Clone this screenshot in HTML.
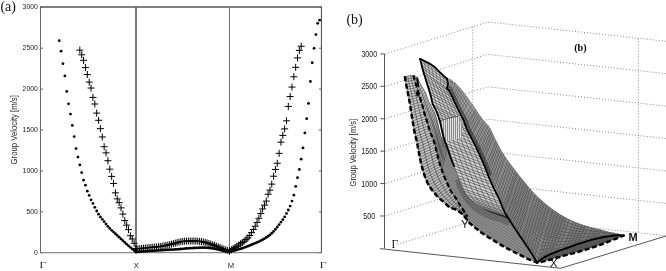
<!DOCTYPE html>
<html><head><meta charset="utf-8"><style>
html,body{margin:0;padding:0;background:#fff;}
svg{display:block;} text{-webkit-font-smoothing:antialiased;} svg{will-change:transform;opacity:0.999;}
</style></head><body>
<svg width="666" height="271" viewBox="0 0 666 271">
<rect width="666" height="271" fill="#fff"/>
<g stroke="#6a6a6a" stroke-width="1" fill="none">
<path d="M40.5,252.7V7.3"/>
<path d="M40.5,252.7H321.4" stroke="#8a8a8a" stroke-width="1.3"/>
<path d="M40.0,7.0H321.9" stroke="#000" stroke-width="1.1"/>
<path d="M136.0,7.5V252.7" stroke="#000" stroke-width="1.05"/>
<path d="M229.5,7.5V252.7" stroke="#707070"/>
<path d="M40.5,252.70h2.6M321.4,252.70h-2.6"/>
<path d="M40.5,211.80h2.6M321.4,211.80h-2.6"/>
<path d="M40.5,170.90h2.6M321.4,170.90h-2.6"/>
<path d="M40.5,130.00h2.6M321.4,130.00h-2.6"/>
<path d="M40.5,89.10h2.6M321.4,89.10h-2.6"/>
<path d="M40.5,48.20h2.6M321.4,48.20h-2.6"/>
<path d="M40.5,7.30h2.6M321.4,7.30h-2.6"/>
</g>
<path d="M321.4,7.3V252.7" stroke="#444" stroke-width="1"/>
<text x="37.8" y="254.65" text-anchor="end" style="font-family:'Liberation Sans',sans-serif;font-size:8.0px" textLength="3.8" lengthAdjust="spacingAndGlyphs" fill="#1a1a1a">0</text>
<text x="37.8" y="213.75" text-anchor="end" style="font-family:'Liberation Sans',sans-serif;font-size:8.0px" textLength="11.4" lengthAdjust="spacingAndGlyphs" fill="#1a1a1a">500</text>
<text x="37.8" y="172.85" text-anchor="end" style="font-family:'Liberation Sans',sans-serif;font-size:8.0px" textLength="15.2" lengthAdjust="spacingAndGlyphs" fill="#1a1a1a">1000</text>
<text x="37.8" y="131.95" text-anchor="end" style="font-family:'Liberation Sans',sans-serif;font-size:8.0px" textLength="15.2" lengthAdjust="spacingAndGlyphs" fill="#1a1a1a">1500</text>
<text x="37.8" y="91.05" text-anchor="end" style="font-family:'Liberation Sans',sans-serif;font-size:8.0px" textLength="15.2" lengthAdjust="spacingAndGlyphs" fill="#1a1a1a">2000</text>
<text x="37.8" y="50.15" text-anchor="end" style="font-family:'Liberation Sans',sans-serif;font-size:8.0px" textLength="15.2" lengthAdjust="spacingAndGlyphs" fill="#1a1a1a">2500</text>
<text x="37.8" y="9.25" text-anchor="end" style="font-family:'Liberation Sans',sans-serif;font-size:8.0px" textLength="15.2" lengthAdjust="spacingAndGlyphs" fill="#1a1a1a">3000</text>
<text transform="translate(16.7,164.4) rotate(-90)" style="font-family:'Liberation Sans',sans-serif;font-size:8.2px" textLength="69.2" lengthAdjust="spacingAndGlyphs" fill="#222">Group Velocity [m/s]</text>
<text x="0.4" y="11.4" style="font-family:'Liberation Serif',serif;font-size:14px" fill="#111">(a)</text>
<text transform="translate(42.7,268.1) scale(1.25,1)" text-anchor="middle" style="font-family:'Liberation Serif',serif;font-size:9px" fill="#222">Γ</text>
<text x="136.3" y="267.8" text-anchor="middle" style="font-family:'Liberation Sans',sans-serif;font-size:7.6px" fill="#222">X</text>
<text x="231" y="267.8" text-anchor="middle" style="font-family:'Liberation Sans',sans-serif;font-size:7.6px" fill="#222">M</text>
<text transform="translate(322.9,268.1) scale(1.25,1)" text-anchor="middle" style="font-family:'Liberation Serif',serif;font-size:9px" fill="#222">Γ</text>
<g fill="#000">
<circle cx="59.23" cy="40.70" r="1.4"/>
<circle cx="61.10" cy="51.19" r="1.4"/>
<circle cx="62.97" cy="63.66" r="1.4"/>
<circle cx="64.84" cy="75.88" r="1.4"/>
<circle cx="66.72" cy="91.51" r="1.4"/>
<circle cx="68.59" cy="103.81" r="1.4"/>
<circle cx="70.46" cy="114.07" r="1.4"/>
<circle cx="72.33" cy="125.39" r="1.4"/>
<circle cx="74.21" cy="136.61" r="1.4"/>
<circle cx="76.08" cy="148.57" r="1.4"/>
<circle cx="77.95" cy="157.06" r="1.4"/>
<circle cx="79.82" cy="164.90" r="1.4"/>
<circle cx="81.70" cy="172.60" r="1.4"/>
<circle cx="83.57" cy="180.15" r="1.4"/>
<circle cx="85.44" cy="185.14" r="1.4"/>
<circle cx="87.31" cy="191.17" r="1.4"/>
<circle cx="89.19" cy="195.47" r="1.4"/>
<circle cx="91.06" cy="199.81" r="1.4"/>
<circle cx="92.93" cy="203.46" r="1.4"/>
<circle cx="94.80" cy="207.31" r="1.4"/>
<circle cx="96.68" cy="211.02" r="1.4"/>
<circle cx="98.55" cy="214.14" r="1.4"/>
<circle cx="100.42" cy="216.93" r="1.4"/>
<circle cx="102.29" cy="219.34" r="1.4"/>
<circle cx="104.17" cy="221.71" r="1.4"/>
<circle cx="106.04" cy="224.09" r="1.4"/>
<circle cx="107.91" cy="226.36" r="1.4"/>
<circle cx="109.78" cy="228.42" r="1.4"/>
<circle cx="111.66" cy="230.29" r="1.4"/>
<circle cx="113.53" cy="232.06" r="1.4"/>
<circle cx="115.40" cy="233.77" r="1.4"/>
<circle cx="117.27" cy="235.47" r="1.4"/>
<circle cx="119.15" cy="237.21" r="1.4"/>
<circle cx="121.02" cy="238.96" r="1.4"/>
<circle cx="122.89" cy="240.72" r="1.4"/>
<circle cx="124.76" cy="242.45" r="1.4"/>
<circle cx="126.64" cy="244.16" r="1.4"/>
<circle cx="128.51" cy="245.81" r="1.4"/>
<circle cx="130.38" cy="247.39" r="1.4"/>
<circle cx="132.25" cy="248.93" r="1.4"/>
<circle cx="134.13" cy="250.46" r="1.4"/>
<circle cx="136.00" cy="252.00" r="1.4"/>
<circle cx="136.00" cy="252.00" r="1.4"/>
<circle cx="137.87" cy="251.87" r="1.4"/>
<circle cx="139.74" cy="251.73" r="1.4"/>
<circle cx="141.61" cy="251.60" r="1.4"/>
<circle cx="143.48" cy="251.46" r="1.4"/>
<circle cx="145.35" cy="251.33" r="1.4"/>
<circle cx="147.22" cy="251.19" r="1.4"/>
<circle cx="149.09" cy="251.06" r="1.4"/>
<circle cx="150.96" cy="250.93" r="1.4"/>
<circle cx="152.83" cy="250.81" r="1.4"/>
<circle cx="154.70" cy="250.68" r="1.4"/>
<circle cx="156.57" cy="250.55" r="1.4"/>
<circle cx="158.44" cy="250.42" r="1.4"/>
<circle cx="160.31" cy="250.30" r="1.4"/>
<circle cx="162.18" cy="250.18" r="1.4"/>
<circle cx="164.05" cy="250.06" r="1.4"/>
<circle cx="165.92" cy="249.94" r="1.4"/>
<circle cx="167.79" cy="249.84" r="1.4"/>
<circle cx="169.66" cy="249.74" r="1.4"/>
<circle cx="171.53" cy="249.65" r="1.4"/>
<circle cx="173.40" cy="249.54" r="1.4"/>
<circle cx="175.27" cy="249.44" r="1.4"/>
<circle cx="177.14" cy="249.31" r="1.4"/>
<circle cx="179.01" cy="249.17" r="1.4"/>
<circle cx="180.88" cy="249.00" r="1.4"/>
<circle cx="182.75" cy="248.82" r="1.4"/>
<circle cx="184.62" cy="248.64" r="1.4"/>
<circle cx="186.49" cy="248.46" r="1.4"/>
<circle cx="188.36" cy="248.31" r="1.4"/>
<circle cx="190.23" cy="248.19" r="1.4"/>
<circle cx="192.10" cy="248.08" r="1.4"/>
<circle cx="193.97" cy="247.98" r="1.4"/>
<circle cx="195.84" cy="247.89" r="1.4"/>
<circle cx="197.71" cy="247.81" r="1.4"/>
<circle cx="199.58" cy="247.75" r="1.4"/>
<circle cx="201.45" cy="247.71" r="1.4"/>
<circle cx="203.32" cy="247.70" r="1.4"/>
<circle cx="205.19" cy="247.72" r="1.4"/>
<circle cx="207.06" cy="247.79" r="1.4"/>
<circle cx="208.93" cy="247.94" r="1.4"/>
<circle cx="210.80" cy="248.14" r="1.4"/>
<circle cx="212.67" cy="248.40" r="1.4"/>
<circle cx="214.54" cy="248.76" r="1.4"/>
<circle cx="216.41" cy="249.18" r="1.4"/>
<circle cx="218.28" cy="249.62" r="1.4"/>
<circle cx="220.15" cy="250.03" r="1.4"/>
<circle cx="222.02" cy="250.43" r="1.4"/>
<circle cx="223.89" cy="250.82" r="1.4"/>
<circle cx="225.76" cy="251.21" r="1.4"/>
<circle cx="227.63" cy="251.61" r="1.4"/>
<circle cx="229.50" cy="252.00" r="1.4"/>
<circle cx="229.50" cy="252.00" r="1.4"/>
<circle cx="231.34" cy="251.44" r="1.4"/>
<circle cx="233.18" cy="250.91" r="1.4"/>
<circle cx="235.01" cy="250.40" r="1.4"/>
<circle cx="236.85" cy="249.89" r="1.4"/>
<circle cx="238.69" cy="249.37" r="1.4"/>
<circle cx="240.53" cy="248.82" r="1.4"/>
<circle cx="242.37" cy="248.24" r="1.4"/>
<circle cx="244.20" cy="247.62" r="1.4"/>
<circle cx="246.04" cy="246.93" r="1.4"/>
<circle cx="247.88" cy="246.18" r="1.4"/>
<circle cx="249.72" cy="245.43" r="1.4"/>
<circle cx="251.56" cy="244.69" r="1.4"/>
<circle cx="253.39" cy="243.94" r="1.4"/>
<circle cx="255.23" cy="243.18" r="1.4"/>
<circle cx="257.07" cy="242.38" r="1.4"/>
<circle cx="258.91" cy="241.54" r="1.4"/>
<circle cx="260.75" cy="240.65" r="1.4"/>
<circle cx="262.58" cy="239.69" r="1.4"/>
<circle cx="264.42" cy="238.65" r="1.4"/>
<circle cx="266.26" cy="237.51" r="1.4"/>
<circle cx="268.10" cy="236.27" r="1.4"/>
<circle cx="269.94" cy="234.90" r="1.4"/>
<circle cx="271.77" cy="233.27" r="1.4"/>
<circle cx="273.61" cy="231.38" r="1.4"/>
<circle cx="275.45" cy="229.27" r="1.4"/>
<circle cx="277.29" cy="226.99" r="1.4"/>
<circle cx="279.13" cy="224.59" r="1.4"/>
<circle cx="280.96" cy="222.12" r="1.4"/>
<circle cx="282.80" cy="219.62" r="1.4"/>
<circle cx="284.64" cy="216.78" r="1.4"/>
<circle cx="286.48" cy="213.51" r="1.4"/>
<circle cx="288.32" cy="210.01" r="1.4"/>
<circle cx="290.15" cy="206.10" r="1.4"/>
<circle cx="291.99" cy="201.08" r="1.4"/>
<circle cx="293.83" cy="195.13" r="1.4"/>
<circle cx="295.67" cy="186.39" r="1.4"/>
<circle cx="297.51" cy="177.68" r="1.4"/>
<circle cx="299.34" cy="169.49" r="1.4"/>
<circle cx="301.18" cy="159.16" r="1.4"/>
<circle cx="303.02" cy="147.92" r="1.4"/>
<circle cx="304.86" cy="132.93" r="1.4"/>
<circle cx="306.70" cy="118.64" r="1.4"/>
<circle cx="308.53" cy="103.46" r="1.4"/>
<circle cx="310.37" cy="81.50" r="1.4"/>
<circle cx="312.21" cy="62.64" r="1.4"/>
<circle cx="314.05" cy="48.28" r="1.4"/>
<circle cx="315.89" cy="34.54" r="1.4"/>
<circle cx="317.72" cy="23.37" r="1.4"/>
<circle cx="319.56" cy="20.20" r="1.4"/>
</g>
<g stroke="#000" stroke-width="1" fill="none"><path d="
M76.32,50.14h7M79.82,46.64v7M78.20,54.77h7M81.70,51.27v7M80.07,60.31h7M83.57,56.81v7M81.94,67.59h7M85.44,64.09v7M83.81,74.57h7M87.31,71.07v7M85.69,82.08h7M89.19,78.58v7M87.56,88.04h7M91.06,84.54v7M89.43,97.36h7M92.93,93.86v7M91.30,104.01h7M94.80,100.51v7M93.18,113.10h7M96.68,109.60v7M95.05,120.29h7M98.55,116.79v7M96.92,128.64h7M100.42,125.14v7M98.79,136.98h7M102.29,133.48v7M100.67,146.72h7M104.17,143.22v7M102.54,152.85h7M106.04,149.35v7M104.41,160.74h7M107.91,157.24v7M106.28,169.18h7M109.78,165.68v7M108.16,176.40h7M111.66,172.90v7M110.03,183.48h7M113.53,179.98v7M111.90,192.84h7M115.40,189.34v7M113.77,198.89h7M117.27,195.39v7M115.65,202.70h7M119.15,199.20v7M117.52,207.86h7M121.02,204.36v7M119.39,214.05h7M122.89,210.55v7M121.26,220.62h7M124.76,217.12v7M123.14,225.13h7M126.64,221.63v7M125.01,229.65h7M128.51,226.15v7M126.88,235.76h7M130.38,232.26v7M128.75,238.94h7M132.25,235.44v7M130.63,243.27h7M134.13,239.77v7M132.50,248.50h7M136.00,245.00v7M132.50,249.00h7M136.00,245.50v7M134.37,248.80h7M137.87,245.30v7M136.24,248.60h7M139.74,245.10v7M138.11,248.40h7M141.61,244.90v7M139.98,248.20h7M143.48,244.70v7M141.85,248.00h7M145.35,244.50v7M143.72,247.80h7M147.22,244.30v7M145.59,247.60h7M149.09,244.10v7M147.46,247.40h7M150.96,243.90v7M149.33,247.23h7M152.83,243.73v7M151.20,247.07h7M154.70,243.57v7M153.07,246.90h7M156.57,243.40v7M154.94,246.71h7M158.44,243.21v7M156.81,246.48h7M160.31,242.98v7M158.68,246.19h7M162.18,242.69v7M160.55,245.84h7M164.05,242.34v7M162.42,245.44h7M165.92,241.94v7M164.29,245.01h7M167.79,241.51v7M166.16,244.56h7M169.66,241.06v7M168.03,244.11h7M171.53,240.61v7M169.90,243.65h7M173.40,240.15v7M171.77,243.13h7M175.27,239.63v7M173.64,242.61h7M177.14,239.11v7M175.51,242.11h7M179.01,238.61v7M177.38,241.69h7M180.88,238.19v7M179.25,241.40h7M182.75,237.90v7M181.12,241.20h7M184.62,237.70v7M182.99,241.08h7M186.49,237.58v7M184.86,241.02h7M188.36,237.52v7M186.73,241.00h7M190.23,237.50v7M188.60,241.00h7M192.10,237.50v7M190.47,241.01h7M193.97,237.51v7M192.34,241.06h7M195.84,237.56v7M194.21,241.15h7M197.71,237.65v7M196.08,241.32h7M199.58,237.82v7M197.95,241.57h7M201.45,238.07v7M199.82,241.93h7M203.32,238.43v7M201.69,242.39h7M205.19,238.89v7M203.56,242.92h7M207.06,239.42v7M205.43,243.48h7M208.93,239.98v7M207.30,244.09h7M210.80,240.59v7M209.17,244.76h7M212.67,241.26v7M211.04,245.47h7M214.54,241.97v7M212.91,246.19h7M216.41,242.69v7M214.78,246.92h7M218.28,243.42v7M216.65,247.68h7M220.15,244.18v7M218.52,248.43h7M222.02,244.93v7M220.39,249.12h7M223.89,245.62v7M222.26,249.76h7M225.76,246.26v7M224.13,250.38h7M227.63,246.88v7M226.00,251.00h7M229.50,247.50v7M226.00,251.00h7M229.50,247.50v7M227.84,249.75h7M231.34,246.25v7M229.68,248.56h7M233.18,245.06v7M231.51,247.40h7M235.01,243.90v7M233.35,246.25h7M236.85,242.75v7M235.19,245.07h7M238.69,241.57v7M237.03,243.85h7M240.53,240.35v7M238.87,242.55h7M242.37,239.05v7M240.70,241.16h7M244.20,237.66v7M242.54,239.64h7M246.04,236.14v7M244.38,237.91h7M247.88,234.41v7M246.22,235.51h7M249.72,232.01v7M248.06,232.61h7M251.56,229.11v7M249.89,229.49h7M253.39,225.99v7M251.73,226.19h7M255.23,222.69v7M253.57,222.41h7M257.07,218.91v7M255.41,218.23h7M258.91,214.73v7M257.25,213.54h7M260.75,210.04v7M259.08,208.94h7M262.58,205.44v7M260.92,205.16h7M264.42,201.66v7M262.76,201.11h7M266.26,197.61v7M264.60,194.24h7M268.10,190.74v7M266.44,190.10h7M269.94,186.60v7M268.27,184.12h7M271.77,180.62v7M270.11,176.22h7M273.61,172.72v7M271.95,169.45h7M275.45,165.95v7M273.79,163.28h7M277.29,159.78v7M275.63,153.33h7M279.13,149.83v7M277.46,142.16h7M280.96,138.66v7M279.30,135.38h7M282.80,131.88v7M281.14,128.89h7M284.64,125.39v7M282.98,120.80h7M286.48,117.30v7M284.82,106.46h7M288.32,102.96v7M286.65,96.55h7M290.15,93.05v7M288.49,87.08h7M291.99,83.58v7M290.33,76.75h7M293.83,73.25v7M292.17,67.33h7M295.67,63.83v7M294.01,57.88h7M297.51,54.38v7M295.84,50.40h7M299.34,46.90v7M297.68,46.25h7M301.18,42.75v7
"/></g>
<g stroke="#6a6a6a" stroke-width="0.9" stroke-dasharray="0.9 2.1" fill="none">
<path d="M385.5,215.98L487.8,184.08L666,203.33"/>
<path d="M385.5,183.57L487.8,151.67L666,170.91"/>
<path d="M385.5,151.15L487.8,119.25L666,138.50"/>
<path d="M385.5,118.73L487.8,86.83L666,106.08"/>
<path d="M385.5,86.32L487.8,54.42L666,73.66"/>
<path d="M385.5,53.90L487.8,22.00L666,41.25"/>
<path d="M472.7,26.66V221.16"/>
<path d="M638.4,38.66V232.76"/>
<path d="M397.5,244.39L487.8,216.50L666,235.75"/>
</g>
<g stroke="#444" stroke-width="0.9" fill="none">
<path d="M384.5,53.90V248.4"/>
<path d="M380.3,215.98H384.5"/>
<path d="M380.3,183.57H384.5"/>
<path d="M380.3,151.15H384.5"/>
<path d="M380.3,118.73H384.5"/>
<path d="M380.3,86.32H384.5"/>
<path d="M380.3,53.90H384.5"/>
<path d="M380,248.6L560.5,268.3L666,236"/>
</g>
<defs>
<pattern id="m5" width="2.4" height="2.4" patternUnits="userSpaceOnUse" patternTransform="rotate(33)">
<path d="M0,0.5H2.4" stroke="#3c3c3c" stroke-width="0.6"/></pattern>
<linearGradient id="gsh" gradientUnits="userSpaceOnUse" x1="460" y1="100" x2="610" y2="245">
<stop offset="0" stop-color="#a4a4a4"/><stop offset="0.4" stop-color="#929292"/><stop offset="0.8" stop-color="#808080"/><stop offset="1" stop-color="#747474"/></linearGradient>
<linearGradient id="gs2" gradientUnits="userSpaceOnUse" x1="0" y1="76" x2="0" y2="145">
<stop offset="0" stop-color="#c8c8c8"/><stop offset="0.45" stop-color="#b0b0b0"/><stop offset="1" stop-color="#8e8e8e"/></linearGradient>
<linearGradient id="gs1" gradientUnits="userSpaceOnUse" x1="0" y1="76" x2="0" y2="218">
<stop offset="0" stop-color="#d2d2d2"/><stop offset="0.5" stop-color="#c4c4c4"/><stop offset="1" stop-color="#b2b2b2"/></linearGradient>
</defs>
<path d="M420.1,58.9L420.8,59.2L421.7,59.6L422.8,60.2L424.0,60.7L425.0,61.2L425.9,61.7L426.8,62.1L427.7,62.6L428.6,63.1L429.5,63.6L430.4,64.1L431.3,64.7L432.2,65.3L433.1,65.9L434.0,66.5L434.8,67.2L435.6,67.9L436.3,68.7L437.1,69.4L438.0,70.3L439.0,71.3L440.0,72.3L441.1,73.4L442.1,74.4L443.1,75.3L444.0,76.1L444.9,76.9L445.8,77.6L446.5,78.2L447.0,78.6L447.3,78.6L447.8,78.6L448.3,78.6L448.9,78.6L449.5,78.8L450.1,79.1L450.8,79.5L451.6,79.9L452.3,80.5L453.2,81.2L454.1,82.0L455.1,83.0L456.2,84.1L457.3,85.3L458.4,86.5L459.5,87.8L460.7,89.1L461.9,90.5L463.0,92.0L464.2,93.5L465.4,95.1L466.6,96.7L467.8,98.3L468.9,100.0L470.0,101.5L471.0,102.9L472.0,104.3L473.0,105.6L473.9,107.0L474.8,108.3L475.7,109.6L476.6,111.0L477.4,112.3L478.3,113.7L479.2,115.0L480.2,116.3L481.2,117.6L482.2,118.9L483.3,120.2L484.3,121.5L485.4,122.7L486.4,123.9L487.5,125.1L488.5,126.3L489.4,127.5L490.2,128.8L490.8,130.0L491.4,131.3L492.0,132.6L492.6,134.0L493.3,135.4L494.0,136.9L494.8,138.4L495.5,140.0L496.3,141.5L497.1,143.0L497.8,144.6L498.6,146.1L499.4,147.7L500.3,149.2L501.2,150.8L502.2,152.4L503.2,154.0L504.2,155.6L505.1,157.0L506.0,158.3L506.8,159.6L507.7,160.8L508.5,161.9L509.3,163.0L510.1,164.0L510.8,164.9L511.5,165.8L512.3,166.8L513.2,168.0L514.4,169.5L515.8,171.4L517.2,173.3L518.6,175.1L519.8,176.6L520.8,177.8L521.6,178.7L522.3,179.6L523.1,180.5L524.0,181.5L525.0,182.7L525.9,184.0L527.0,185.3L528.1,186.8L529.4,188.3L530.9,189.9L532.5,191.7L534.2,193.6L536.0,195.4L537.7,197.1L539.4,198.7L541.2,200.3L543.0,201.9L544.8,203.4L546.6,204.9L548.4,206.3L550.1,207.7L551.9,209.0L553.6,210.3L555.4,211.5L557.2,212.7L559.0,213.9L560.7,215.0L562.5,216.1L564.3,217.1L566.1,218.1L567.9,219.0L569.7,219.9L571.5,220.8L573.1,221.5L574.6,222.1L575.9,222.6L577.1,223.1L578.5,223.6L580.0,224.1L581.7,224.7L583.5,225.3L585.4,225.9L587.6,226.5L589.9,227.2L592.6,227.9L595.7,228.7L598.9,229.4L602.0,230.1L604.8,230.8L607.3,231.4L609.7,231.9L611.9,232.4L614.0,232.8L616.0,233.3L618.0,233.8L619.9,234.2L621.7,234.7L623.1,235.0L624.2,235.3L624.2,235.4L622.9,235.9L621.1,236.6L619.0,237.4L616.9,238.3L615.0,239.0L613.4,239.6L611.9,240.2L610.4,240.8L609.0,241.4L607.5,242.0L606.0,242.6L604.6,243.1L603.2,243.7L601.7,244.3L600.0,244.9L598.1,245.6L596.1,246.3L594.0,247.0L591.9,247.7L590.0,248.3L588.2,248.9L586.5,249.4L584.8,250.0L583.2,250.4L581.7,250.9L580.3,251.3L579.0,251.6L577.8,252.0L576.4,252.3L574.9,252.7L573.1,253.2L571.1,253.7L569.1,254.3L567.0,254.9L565.0,255.4L563.1,255.9L561.3,256.4L559.5,257.0L557.7,257.5L555.8,258.0L553.9,258.6L551.9,259.2L549.9,259.7L547.9,260.3L546.0,260.8L544.0,261.3L542.0,261.7L540.0,262.1L538.4,262.4L537.2,262.6L536.1,262.2L534.6,261.6L532.9,261.0L531.1,260.3L529.5,259.6L528.0,258.9L526.6,258.3L525.2,257.6L523.8,256.9L522.5,256.2L521.2,255.6L520.0,254.9L518.8,254.3L517.6,253.6L516.3,253.0L515.0,252.3L513.6,251.7L512.2,251.0L510.9,250.3L509.5,249.6L508.2,248.9L506.9,248.3L505.6,247.6L504.3,246.9L503.0,246.2L501.6,245.4L500.2,244.5L498.7,243.6L497.2,242.7L495.8,241.8L494.4,240.9L493.0,240.1L491.7,239.3L490.3,238.4L489.0,237.6L487.7,236.8L486.5,236.0L485.3,235.3L484.1,234.5L482.9,233.6L481.6,232.7L480.2,231.7L478.9,230.7L477.5,229.6L476.2,228.6L474.9,227.5L473.5,226.4L472.2,225.3L470.9,224.3L469.8,223.2L468.9,222.2L468.0,221.2L467.3,220.2L466.6,219.3L465.8,218.3L465.0,217.3L464.1,216.3L463.3,215.3L462.4,214.3L461.5,213.4L460.6,212.6L459.6,211.9L458.7,211.2L457.6,210.5L456.5,209.9L455.2,209.3L453.8,208.9L452.3,208.4L450.8,207.9L449.5,207.2L448.3,206.3L447.1,205.3L446.0,204.1L444.9,203.0L443.8,202.0L442.7,201.1L441.6,200.2L440.6,199.4L439.5,198.5L438.5,197.5L437.5,196.4L436.4,195.3L435.4,194.1L434.4,192.9L433.4,191.7L432.5,190.5L431.6,189.4L430.8,188.3L430.0,187.1L429.2,185.8L428.4,184.5L427.7,183.1L427.0,181.7L426.4,180.2L425.7,178.7L425.1,177.1L424.5,175.4L423.9,173.6L423.3,171.8L422.8,170.0L422.3,168.2L421.8,166.4L421.4,164.5L420.9,162.6L420.5,160.7L420.1,158.7L419.7,156.7L419.3,154.6L418.9,152.5L418.5,150.5L418.1,148.5L417.7,146.4L417.4,144.4L417.0,142.4L416.6,140.5L416.2,138.7L415.7,137.0L415.3,135.3L414.9,133.6L414.5,131.9L414.2,130.1L413.9,128.4L413.6,126.6L413.3,124.8L413.0,123.0L412.7,121.1L412.4,119.2L412.0,117.3L411.7,115.4L411.4,113.5L411.1,111.6L410.8,109.7L410.6,107.8L410.3,105.9L410.0,104.0L409.7,102.2L409.3,100.4L409.0,98.6L408.7,96.8L408.3,95.0L407.9,93.2L407.6,91.4L407.2,89.7L406.9,87.8L406.5,86.0L406.1,83.9L405.7,81.7L405.4,79.5L405.0,77.6L404.8,76.3L414.5,75.2L414.9,75.7L415.4,76.3L416.1,77.1L416.8,78.0L417.5,79.0L418.2,80.2L419.0,81.6L419.9,83.1L420.7,84.6L421.5,86.0L422.3,87.2L423.0,88.4L423.7,89.6L424.4,90.8L425.1,92.1L425.7,93.6L426.4,95.2L427.0,96.8L427.6,98.5L428.2,100.0L428.8,101.4L429.5,102.8L430.2,104.2L430.8,105.6L431.5,106.9L432.2,108.2L432.9,109.4L433.6,110.7L434.3,112.0L434.9,113.5L435.5,115.2L436.1,117.1L436.7,119.1L437.3,121.1L437.8,123.0L438.2,124.8L438.6,126.6L439.0,128.4L439.4,130.2L439.8,131.9L440.3,133.7L440.9,135.6L441.5,137.4L442.0,138.9L442.3,140.0L442.3,131.9L442.1,130.8L441.8,129.3L441.4,127.5L441.0,125.7L440.6,124.0L440.2,122.4L439.7,120.7L439.2,119.1L438.7,117.5L438.2,116.0L437.7,114.7L437.3,113.5L436.8,112.3L436.3,111.2L435.8,110.0L435.2,108.8L434.6,107.7L434.0,106.5L433.3,105.3L432.8,104.0L432.3,102.5L431.9,100.9L431.6,99.2L431.2,97.6L430.8,96.0L430.4,94.6L430.0,93.3L429.7,92.1L429.3,90.7L428.8,89.2L428.3,87.4L427.7,85.5L427.0,83.5L426.4,81.5L425.8,79.5L425.2,77.5L424.6,75.5L423.9,73.5L423.4,71.6L422.9,70.0L422.5,68.6L422.2,67.5L422.0,66.5L421.8,65.5L421.5,64.5L421.2,63.3L420.9,62.0L420.6,60.7L420.3,59.7L420.1,58.9Z" fill="#8e8e8e"/>
<path d="M420.1,58.9L420.8,59.2L421.7,59.6L422.8,60.2L424.0,60.7L425.0,61.2L425.9,61.7L426.8,62.1L427.7,62.6L428.6,63.1L429.5,63.6L430.4,64.1L431.3,64.7L432.2,65.3L433.1,65.9L434.0,66.5L434.8,67.2L435.6,67.9L436.3,68.7L437.1,69.4L438.0,70.3L439.0,71.3L440.0,72.3L441.1,73.4L442.1,74.4L443.1,75.3L444.0,76.1L444.9,76.9L445.8,77.6L446.5,78.2L447.0,78.6L447.3,78.6L447.8,78.6L448.3,78.6L448.9,78.6L449.5,78.8L450.1,79.1L450.8,79.5L451.6,79.9L452.3,80.5L453.2,81.2L454.1,82.0L455.1,83.0L456.2,84.1L457.3,85.3L458.4,86.5L459.5,87.8L460.7,89.1L461.9,90.5L463.0,92.0L464.2,93.5L465.4,95.1L466.6,96.7L467.8,98.3L468.9,100.0L470.0,101.5L471.0,102.9L472.0,104.3L473.0,105.6L473.9,107.0L474.8,108.3L475.7,109.6L476.6,111.0L477.4,112.3L478.3,113.7L479.2,115.0L480.2,116.3L481.2,117.6L482.2,118.9L483.3,120.2L484.3,121.5L485.4,122.7L486.4,123.9L487.5,125.1L488.5,126.3L489.4,127.5L490.2,128.8L490.8,130.0L491.4,131.3L492.0,132.6L492.6,134.0L493.3,135.4L494.0,136.9L494.8,138.4L495.5,140.0L496.3,141.5L497.1,143.0L497.8,144.6L498.6,146.1L499.4,147.7L500.3,149.2L501.2,150.8L502.2,152.4L503.2,154.0L504.2,155.6L505.1,157.0L506.0,158.3L506.8,159.6L507.7,160.8L508.5,161.9L509.3,163.0L510.1,164.0L510.8,164.9L511.5,165.8L512.3,166.8L513.2,168.0L514.4,169.5L515.8,171.4L517.2,173.3L518.6,175.1L519.8,176.6L520.8,177.8L521.6,178.7L522.3,179.6L523.1,180.5L524.0,181.5L525.0,182.7L525.9,184.0L527.0,185.3L528.1,186.8L529.4,188.3L530.9,189.9L532.5,191.7L534.2,193.6L536.0,195.4L537.7,197.1L539.4,198.7L541.2,200.3L543.0,201.9L544.8,203.4L546.6,204.9L548.4,206.3L550.1,207.7L551.9,209.0L553.6,210.3L555.4,211.5L557.2,212.7L559.0,213.9L560.7,215.0L562.5,216.1L564.3,217.1L566.1,218.1L567.9,219.0L569.7,219.9L571.5,220.8L573.1,221.5L574.6,222.1L575.9,222.6L577.1,223.1L578.5,223.6L580.0,224.1L581.7,224.7L583.5,225.3L585.4,225.9L587.6,226.5L589.9,227.2L592.6,227.9L595.7,228.7L598.9,229.4L602.0,230.1L604.8,230.8L607.3,231.4L609.7,231.9L611.9,232.4L614.0,232.8L616.0,233.3L618.0,233.8L619.9,234.2L621.7,234.7L623.1,235.0L624.2,235.3L624.2,235.4L622.9,235.9L621.1,236.6L619.0,237.4L616.9,238.3L615.0,239.0L613.4,239.6L611.9,240.2L610.4,240.8L609.0,241.4L607.5,242.0L606.0,242.6L604.6,243.1L603.2,243.7L601.7,244.3L600.0,244.9L598.1,245.6L596.1,246.3L594.0,247.0L591.9,247.7L590.0,248.3L588.2,248.9L586.5,249.4L584.8,250.0L583.2,250.4L581.7,250.9L580.3,251.3L579.0,251.6L577.8,252.0L576.4,252.3L574.9,252.7L573.1,253.2L571.1,253.7L569.1,254.3L567.0,254.9L565.0,255.4L563.1,255.9L561.3,256.4L559.5,257.0L557.7,257.5L555.8,258.0L553.9,258.6L551.9,259.2L549.9,259.7L547.9,260.3L546.0,260.8L544.0,261.3L542.0,261.7L540.0,262.1L538.4,262.4L537.2,262.6L536.1,262.2L534.6,261.6L532.9,261.0L531.1,260.3L529.5,259.6L528.0,258.9L526.6,258.3L525.2,257.6L523.8,256.9L522.5,256.2L521.2,255.6L520.0,254.9L518.8,254.3L517.6,253.6L516.3,253.0L515.0,252.3L513.6,251.7L512.2,251.0L510.9,250.3L509.5,249.6L508.2,248.9L506.9,248.3L505.6,247.6L504.3,246.9L503.0,246.2L501.6,245.4L500.2,244.5L498.7,243.6L497.2,242.7L495.8,241.8L494.4,240.9L493.0,240.1L491.7,239.3L490.3,238.4L489.0,237.6L487.7,236.8L486.5,236.0L485.3,235.3L484.1,234.5L482.9,233.6L481.6,232.7L480.2,231.7L478.9,230.7L477.5,229.6L476.2,228.6L474.9,227.5L473.5,226.4L472.2,225.3L470.9,224.3L469.8,223.2L468.9,222.2L468.0,221.2L467.3,220.2L466.6,219.3L465.8,218.3L465.0,217.3L464.1,216.3L463.3,215.3L462.4,214.3L461.5,213.4L460.6,212.6L459.6,211.9L458.7,211.2L457.6,210.5L456.5,209.9L455.2,209.3L453.8,208.9L452.3,208.4L450.8,207.9L449.5,207.2L448.3,206.3L447.1,205.3L446.0,204.1L444.9,203.0L443.8,202.0L442.7,201.1L441.6,200.2L440.6,199.4L439.5,198.5L438.5,197.5L437.5,196.4L436.4,195.3L435.4,194.1L434.4,192.9L433.4,191.7L432.5,190.5L431.6,189.4L430.8,188.3L430.0,187.1L429.2,185.8L428.4,184.5L427.7,183.1L427.0,181.7L426.4,180.2L425.7,178.7L425.1,177.1L424.5,175.4L423.9,173.6L423.3,171.8L422.8,170.0L422.3,168.2L421.8,166.4L421.4,164.5L420.9,162.6L420.5,160.7L420.1,158.7L419.7,156.7L419.3,154.6L418.9,152.5L418.5,150.5L418.1,148.5L417.7,146.4L417.4,144.4L417.0,142.4L416.6,140.5L416.2,138.7L415.7,137.0L415.3,135.3L414.9,133.6L414.5,131.9L414.2,130.1L413.9,128.4L413.6,126.6L413.3,124.8L413.0,123.0L412.7,121.1L412.4,119.2L412.0,117.3L411.7,115.4L411.4,113.5L411.1,111.6L410.8,109.7L410.6,107.8L410.3,105.9L410.0,104.0L409.7,102.2L409.3,100.4L409.0,98.6L408.7,96.8L408.3,95.0L407.9,93.2L407.6,91.4L407.2,89.7L406.9,87.8L406.5,86.0L406.1,83.9L405.7,81.7L405.4,79.5L405.0,77.6L404.8,76.3L414.5,75.2L414.9,75.7L415.4,76.3L416.1,77.1L416.8,78.0L417.5,79.0L418.2,80.2L419.0,81.6L419.9,83.1L420.7,84.6L421.5,86.0L422.3,87.2L423.0,88.4L423.7,89.6L424.4,90.8L425.1,92.1L425.7,93.6L426.4,95.2L427.0,96.8L427.6,98.5L428.2,100.0L428.8,101.4L429.5,102.8L430.2,104.2L430.8,105.6L431.5,106.9L432.2,108.2L432.9,109.4L433.6,110.7L434.3,112.0L434.9,113.5L435.5,115.2L436.1,117.1L436.7,119.1L437.3,121.1L437.8,123.0L438.2,124.8L438.6,126.6L439.0,128.4L439.4,130.2L439.8,131.9L440.3,133.7L440.9,135.6L441.5,137.4L442.0,138.9L442.3,140.0L442.3,131.9L442.1,130.8L441.8,129.3L441.4,127.5L441.0,125.7L440.6,124.0L440.2,122.4L439.7,120.7L439.2,119.1L438.7,117.5L438.2,116.0L437.7,114.7L437.3,113.5L436.8,112.3L436.3,111.2L435.8,110.0L435.2,108.8L434.6,107.7L434.0,106.5L433.3,105.3L432.8,104.0L432.3,102.5L431.9,100.9L431.6,99.2L431.2,97.6L430.8,96.0L430.4,94.6L430.0,93.3L429.7,92.1L429.3,90.7L428.8,89.2L428.3,87.4L427.7,85.5L427.0,83.5L426.4,81.5L425.8,79.5L425.2,77.5L424.6,75.5L423.9,73.5L423.4,71.6L422.9,70.0L422.5,68.6L422.2,67.5L422.0,66.5L421.8,65.5L421.5,64.5L421.2,63.3L420.9,62.0L420.6,60.7L420.3,59.7L420.1,58.9Z" fill="url(#m5)" opacity="0.55"/>
<path d="M413.3,75.6L413.6,76.5L413.9,77.7L414.3,79.1L414.8,80.6L415.2,82.0L415.6,83.3L416.0,84.7L416.5,86.1L416.9,87.5L417.4,89.0L417.9,90.5L418.4,92.1L418.9,93.8L419.4,95.4L419.9,97.0L420.4,98.6L420.8,100.2L421.3,101.8L421.7,103.4L422.2,105.0L422.7,106.7L423.1,108.3L423.5,110.0L424.0,111.8L424.5,113.5L425.0,115.3L425.6,117.0L426.2,118.8L426.7,120.7L427.3,122.5L427.8,124.4L428.4,126.2L428.9,128.1L429.5,130.0L430.1,131.9L430.8,133.7L431.6,135.5L432.4,137.3L433.1,139.2L433.8,141.0L434.4,142.9L434.9,144.7L435.4,146.6L435.8,148.5L436.3,150.5L436.8,152.5L437.3,154.6L437.8,156.7L438.3,158.7L438.8,160.7L439.4,162.8L440.1,164.9L440.8,167.0L441.4,168.7L441.8,170.0L446.6,150.0L446.3,149.5L445.8,148.8L445.3,147.9L444.8,147.0L444.3,146.0L443.9,145.0L443.5,143.8L443.1,142.6L442.7,141.4L442.3,140.0L441.8,138.5L441.3,136.9L440.8,135.3L440.3,133.6L439.8,131.9L439.4,130.2L439.0,128.4L438.6,126.6L438.2,124.8L437.8,123.0L437.3,121.1L436.7,119.1L436.1,117.1L435.5,115.2L434.9,113.5L434.3,112.0L433.6,110.7L432.9,109.4L432.2,108.2L431.5,106.9L430.8,105.6L430.2,104.2L429.5,102.8L428.8,101.4L428.2,100.0L427.6,98.5L427.0,96.8L426.4,95.2L425.7,93.6L425.1,92.1L424.4,90.8L423.7,89.6L423.0,88.4L422.3,87.2L421.5,86.0L420.7,84.6L419.9,83.1L419.0,81.6L418.2,80.2L417.5,79.0L416.8,78.0L416.1,77.1L415.4,76.3L414.9,75.7L414.5,75.2Z" fill="url(#gs2)"/>
<path d="M413.3,75.6L413.5,76.4L413.8,77.2L414.0,78.0L414.2,78.8L414.5,79.6L414.7,80.4L414.9,81.2L415.2,82.0L415.4,82.8L415.7,83.5L415.9,84.3L416.2,85.1L416.4,85.9L416.7,86.7L416.9,87.5L417.2,88.3L417.4,89.1L417.7,89.9L417.9,90.7L418.2,91.5L418.4,92.2L418.7,93.0L418.9,93.8L419.2,94.6L419.4,95.4L419.7,96.2L419.9,97.0L420.1,97.8L420.4,98.6L420.6,99.4L420.8,100.2L421.1,101.0L421.3,101.8L421.5,102.6L421.7,103.4L422.0,104.2L422.2,105.0L422.4,105.8L422.6,106.6L422.8,107.4L423.1,108.2L423.3,109.0L423.5,109.8L423.7,110.6L423.9,111.4L424.1,112.2L424.4,113.0L424.6,113.8L424.8,114.6L425.1,115.4L425.3,116.1L425.6,116.9L425.8,117.7L426.1,118.5L426.3,119.3L426.6,120.1L426.8,120.9L427.0,121.7L427.3,122.5L427.5,123.3L427.8,124.1L428.0,124.9L428.2,125.7L428.4,126.5L428.7,127.3L428.9,128.1L429.1,128.9L429.4,129.6L429.6,130.4L429.9,131.2L430.1,132.0L430.4,132.8L430.7,133.6L431.1,134.3L431.4,135.1L431.7,135.9L432.0,136.6L432.4,137.4L432.7,138.1L433.0,138.9L433.3,139.7L433.6,140.5L433.9,141.2L434.1,142.0L434.4,142.8L434.6,143.6L434.8,144.4L435.0,145.2L435.2,146.0L435.4,146.8L435.6,147.6L435.8,148.4L436.0,149.3L436.2,150.1L436.4,150.9L436.6,151.7L436.8,152.5L437.0,153.3L437.2,154.1L437.4,154.9L437.5,155.7L437.7,156.5L437.9,157.3L438.1,158.1L438.3,158.9L438.5,159.7L438.8,160.5L439.0,161.3L439.2,162.1L439.5,162.9L439.7,163.7L440.0,164.5L440.2,165.3L440.5,166.1L440.7,166.9L441.0,167.6L441.3,168.4L441.5,169.2L441.8,170.0M413.9,75.4L414.2,76.1L414.6,76.7L414.9,77.4L415.3,78.0L415.6,78.7L415.9,79.4L416.2,80.1L416.5,80.8L416.8,81.5L417.1,82.2L417.4,82.8L417.7,83.5L418.0,84.2L418.3,84.9L418.6,85.6L418.9,86.3L419.2,87.0L419.5,87.7L419.8,88.4L420.1,89.1L420.4,89.8L420.7,90.5L421.0,91.2L421.3,91.9L421.6,92.5L421.9,93.2L422.2,93.9L422.5,94.6L422.7,95.3L423.0,96.1L423.2,96.8L423.5,97.5L423.7,98.2L424.0,98.9L424.2,99.7L424.4,100.4L424.7,101.1L424.9,101.8L425.1,102.5L425.3,103.3L425.6,104.0L425.8,104.7L426.1,105.4L426.3,106.1L426.6,106.8L426.8,107.6L427.1,108.3L427.4,109.0L427.6,109.7L427.9,110.4L428.2,111.1L428.5,111.8L428.7,112.5L429.0,113.2L429.3,113.9L429.6,114.6L429.9,115.3L430.2,116.0L430.5,116.7L430.8,117.4L431.0,118.1L431.3,118.8L431.5,119.5L431.8,120.2L432.0,121.0L432.2,121.7L432.5,122.4L432.7,123.1L432.9,123.9L433.1,124.6L433.4,125.3L433.6,126.0L433.8,126.8L434.1,127.5L434.4,128.2L434.6,128.9L434.9,129.6L435.1,130.3L435.4,131.0L435.6,131.8L435.8,132.5L436.0,133.2L436.3,133.9L436.4,134.7L436.6,135.4L436.8,136.1L437.0,136.9L437.2,137.6L437.4,138.4L437.5,139.1L437.7,139.8L437.9,140.6L438.1,141.3L438.3,142.0L438.5,142.8L438.7,143.5L438.9,144.2L439.1,145.0L439.3,145.7L439.5,146.4L439.7,147.2L439.9,147.9L440.1,148.6L440.3,149.3L440.5,150.1L440.7,150.8L440.9,151.5L441.1,152.3L441.4,153.0L441.6,153.7L441.8,154.4L442.1,155.1L442.4,155.9L442.6,156.6L442.9,157.3L443.3,157.9L443.6,158.6L443.9,159.3L444.2,160.0M414.5,75.2L414.9,75.7L415.4,76.2L415.8,76.8L416.3,77.3L416.7,77.9L417.1,78.4L417.5,79.0L417.9,79.6L418.2,80.2L418.6,80.8L418.9,81.4L419.2,82.0L419.6,82.6L419.9,83.2L420.2,83.8L420.6,84.4L420.9,85.0L421.3,85.6L421.6,86.2L422.0,86.8L422.3,87.3L422.7,87.9L423.0,88.5L423.4,89.1L423.8,89.7L424.1,90.3L424.5,90.9L424.8,91.5L425.1,92.1L425.4,92.7L425.7,93.4L425.9,94.0L426.2,94.6L426.4,95.3L426.6,95.9L426.9,96.6L427.1,97.2L427.4,97.9L427.6,98.5L427.9,99.2L428.1,99.8L428.4,100.4L428.7,101.1L429.0,101.7L429.3,102.3L429.5,102.9L429.8,103.6L430.1,104.2L430.5,104.8L430.8,105.4L431.1,106.0L431.4,106.6L431.7,107.3L432.0,107.9L432.3,108.5L432.7,109.1L433.0,109.7L433.4,110.3L433.7,110.9L434.0,111.5L434.3,112.1L434.6,112.8L434.8,113.4L435.1,114.0L435.3,114.7L435.6,115.3L435.8,116.0L436.0,116.6L436.2,117.3L436.4,118.0L436.6,118.6L436.8,119.3L437.0,119.9L437.1,120.6L437.3,121.3L437.5,121.9L437.7,122.6L437.9,123.3L438.0,123.9L438.2,124.6L438.3,125.3L438.5,126.0L438.6,126.6L438.8,127.3L438.9,128.0L439.1,128.7L439.2,129.3L439.3,130.0L439.5,130.7L439.7,131.3L439.8,132.0L440.0,132.7L440.2,133.3L440.4,134.0L440.6,134.7L440.8,135.3L441.0,136.0L441.2,136.6L441.4,137.3L441.6,138.0L441.8,138.6L442.1,139.3L442.3,139.9L442.5,140.6L442.7,141.2L442.9,141.9L443.1,142.6L443.3,143.2L443.5,143.9L443.7,144.5L444.0,145.2L444.2,145.8L444.5,146.4L444.8,147.1L445.2,147.7L445.5,148.2L445.9,148.8L446.2,149.4L446.6,150.0M413.3,75.6L413.3,75.6L413.4,75.6L413.4,75.6L413.5,75.5L413.5,75.5L413.5,75.5L413.6,75.5L413.6,75.5L413.7,75.5L413.7,75.5L413.8,75.4L413.8,75.4L413.8,75.4L413.9,75.4L413.9,75.4L414.0,75.4L414.0,75.4L414.0,75.4L414.1,75.3L414.1,75.3L414.2,75.3L414.2,75.3L414.3,75.3L414.3,75.3L414.3,75.3L414.4,75.2L414.4,75.2L414.5,75.2L414.5,75.2M414.3,78.9L414.3,78.8L414.4,78.8L414.5,78.7L414.5,78.7L414.6,78.6L414.7,78.6L414.8,78.5L414.8,78.5L414.9,78.4L415.0,78.3L415.0,78.3L415.1,78.2L415.2,78.2L415.3,78.1L415.3,78.1L415.4,78.0L415.5,78.0L415.5,77.9L415.6,77.9L415.7,77.8L415.8,77.8L415.8,77.7L415.9,77.7L416.0,77.6L416.0,77.6L416.1,77.5L416.2,77.5L416.2,77.4L416.3,77.4M415.2,82.1L415.3,82.0L415.4,82.0L415.5,81.9L415.6,81.8L415.7,81.7L415.8,81.6L415.9,81.5L416.0,81.5L416.1,81.4L416.2,81.3L416.3,81.2L416.4,81.1L416.4,81.0L416.5,81.0L416.6,80.9L416.7,80.8L416.8,80.7L416.9,80.6L417.0,80.5L417.1,80.4L417.2,80.4L417.3,80.3L417.4,80.2L417.5,80.1L417.6,80.0L417.6,79.9L417.7,79.9L417.8,79.8L417.9,79.7M416.3,85.4L416.4,85.3L416.5,85.1L416.6,85.0L416.7,84.9L416.8,84.8L416.9,84.7L417.0,84.6L417.1,84.5L417.2,84.4L417.3,84.3L417.4,84.1L417.5,84.0L417.6,83.9L417.7,83.8L417.9,83.7L418.0,83.6L418.1,83.5L418.2,83.4L418.3,83.3L418.4,83.1L418.5,83.0L418.6,82.9L418.7,82.8L418.8,82.7L418.9,82.6L419.0,82.5L419.1,82.4L419.2,82.3L419.3,82.1M417.3,88.6L417.4,88.5L417.5,88.3L417.6,88.2L417.8,88.1L417.9,87.9L418.0,87.8L418.1,87.7L418.2,87.5L418.3,87.4L418.5,87.2L418.6,87.1L418.7,87.0L418.8,86.8L418.9,86.7L419.1,86.5L419.2,86.4L419.3,86.3L419.4,86.1L419.5,86.0L419.6,85.9L419.8,85.7L419.9,85.6L420.0,85.4L420.1,85.3L420.2,85.2L420.4,85.0L420.5,84.9L420.6,84.8L420.7,84.6M418.3,91.9L418.4,91.7L418.6,91.5L418.7,91.4L418.8,91.2L419.0,91.0L419.1,90.9L419.2,90.7L419.4,90.5L419.5,90.4L419.6,90.2L419.8,90.0L419.9,89.9L420.0,89.7L420.2,89.5L420.3,89.4L420.4,89.2L420.6,89.0L420.7,88.9L420.8,88.7L420.9,88.5L421.1,88.4L421.2,88.2L421.3,88.1L421.5,87.9L421.6,87.7L421.7,87.6L421.9,87.4L422.0,87.2L422.1,87.1M419.3,95.1L419.5,94.9L419.6,94.7L419.8,94.5L419.9,94.3L420.1,94.1L420.2,93.9L420.4,93.7L420.5,93.6L420.7,93.4L420.8,93.2L421.0,93.0L421.1,92.8L421.3,92.6L421.4,92.4L421.6,92.2L421.7,92.0L421.9,91.8L422.0,91.6L422.2,91.4L422.3,91.2L422.4,91.0L422.6,90.8L422.7,90.6L422.9,90.4L423.0,90.2L423.2,90.0L423.3,89.8L423.5,89.7L423.6,89.5M420.3,98.4L420.5,98.1L420.6,97.9L420.8,97.7L421.0,97.5L421.1,97.3L421.3,97.0L421.4,96.8L421.6,96.6L421.8,96.4L421.9,96.1L422.1,95.9L422.3,95.7L422.4,95.5L422.6,95.3L422.7,95.0L422.9,94.8L423.1,94.6L423.2,94.4L423.4,94.1L423.6,93.9L423.7,93.7L423.9,93.5L424.0,93.3L424.2,93.0L424.4,92.8L424.5,92.6L424.7,92.4L424.9,92.2L425.0,91.9M421.3,101.6L421.4,101.4L421.6,101.1L421.8,100.9L421.9,100.7L422.1,100.4L422.3,100.2L422.4,99.9L422.6,99.7L422.8,99.4L422.9,99.2L423.1,98.9L423.3,98.7L423.4,98.5L423.6,98.2L423.8,98.0L423.9,97.7L424.1,97.5L424.3,97.2L424.4,97.0L424.6,96.7L424.8,96.5L424.9,96.2L425.1,96.0L425.3,95.8L425.4,95.5L425.6,95.3L425.8,95.0L425.9,94.8L426.1,94.5M422.2,104.9L422.3,104.6L422.5,104.4L422.7,104.1L422.9,103.8L423.0,103.6L423.2,103.3L423.4,103.0L423.5,102.8L423.7,102.5L423.9,102.2L424.0,102.0L424.2,101.7L424.4,101.4L424.6,101.2L424.7,100.9L424.9,100.6L425.1,100.4L425.2,100.1L425.4,99.8L425.6,99.6L425.7,99.3L425.9,99.1L426.1,98.8L426.3,98.5L426.4,98.3L426.6,98.0L426.8,97.7L426.9,97.5L427.1,97.2M423.1,108.2L423.2,107.9L423.4,107.6L423.6,107.3L423.8,107.0L423.9,106.8L424.1,106.5L424.3,106.2L424.5,105.9L424.6,105.6L424.8,105.3L425.0,105.0L425.2,104.7L425.3,104.4L425.5,104.2L425.7,103.9L425.9,103.6L426.0,103.3L426.2,103.0L426.4,102.7L426.6,102.4L426.7,102.1L426.9,101.8L427.1,101.6L427.3,101.3L427.4,101.0L427.6,100.7L427.8,100.4L428.0,100.1L428.1,99.8M423.9,111.5L424.1,111.2L424.3,110.9L424.5,110.5L424.7,110.2L424.9,109.9L425.0,109.6L425.2,109.3L425.4,109.0L425.6,108.7L425.8,108.4L426.0,108.0L426.2,107.7L426.3,107.4L426.5,107.1L426.7,106.8L426.9,106.5L427.1,106.2L427.3,105.8L427.4,105.5L427.6,105.2L427.8,104.9L428.0,104.6L428.2,104.3L428.4,104.0L428.6,103.7L428.7,103.3L428.9,103.0L429.1,102.7L429.3,102.4M424.9,114.8L425.1,114.4L425.3,114.1L425.5,113.7L425.7,113.4L425.9,113.1L426.0,112.7L426.2,112.4L426.4,112.0L426.6,111.7L426.8,111.4L427.0,111.0L427.2,110.7L427.4,110.4L427.6,110.0L427.8,109.7L428.0,109.3L428.2,109.0L428.4,108.7L428.6,108.3L428.8,108.0L429.0,107.7L429.2,107.3L429.4,107.0L429.6,106.6L429.7,106.3L429.9,106.0L430.1,105.6L430.3,105.3L430.5,104.9M425.9,118.0L426.1,117.6L426.3,117.3L426.5,116.9L426.7,116.6L426.9,116.2L427.1,115.8L427.3,115.5L427.5,115.1L427.7,114.7L427.9,114.4L428.1,114.0L428.3,113.6L428.5,113.3L428.7,112.9L428.9,112.6L429.2,112.2L429.4,111.8L429.6,111.5L429.8,111.1L430.0,110.7L430.2,110.4L430.4,110.0L430.6,109.7L430.8,109.3L431.0,108.9L431.2,108.6L431.4,108.2L431.6,107.8L431.8,107.5M426.9,121.3L427.1,120.9L427.3,120.5L427.6,120.1L427.8,119.7L428.0,119.3L428.2,118.9L428.4,118.5L428.6,118.1L428.9,117.7L429.1,117.4L429.3,117.0L429.5,116.6L429.7,116.2L429.9,115.8L430.1,115.4L430.4,115.0L430.6,114.6L430.8,114.2L431.0,113.8L431.2,113.5L431.4,113.1L431.7,112.7L431.9,112.3L432.1,111.9L432.3,111.5L432.5,111.1L432.7,110.7L433.0,110.3L433.2,109.9M427.9,124.5L428.1,124.1L428.3,123.7L428.6,123.3L428.8,122.8L429.0,122.4L429.2,122.0L429.5,121.6L429.7,121.2L429.9,120.8L430.2,120.4L430.4,119.9L430.6,119.5L430.8,119.1L431.1,118.7L431.3,118.3L431.5,117.9L431.7,117.5L432.0,117.0L432.2,116.6L432.4,116.2L432.6,115.8L432.9,115.4L433.1,115.0L433.3,114.5L433.5,114.1L433.8,113.7L434.0,113.3L434.2,112.9L434.5,112.5M428.8,127.8L429.0,127.3L429.3,126.9L429.5,126.5L429.7,126.0L430.0,125.6L430.2,125.2L430.4,124.7L430.7,124.3L430.9,123.8L431.1,123.4L431.3,123.0L431.6,122.5L431.8,122.1L432.0,121.7L432.3,121.2L432.5,120.8L432.7,120.4L433.0,119.9L433.2,119.5L433.4,119.0L433.6,118.6L433.9,118.2L434.1,117.7L434.3,117.3L434.6,116.9L434.8,116.4L435.0,116.0L435.2,115.5L435.5,115.1M429.8,131.0L430.0,130.6L430.3,130.1L430.5,129.7L430.7,129.2L430.9,128.8L431.2,128.3L431.4,127.8L431.6,127.4L431.8,126.9L432.1,126.5L432.3,126.0L432.5,125.6L432.7,125.1L433.0,124.6L433.2,124.2L433.4,123.7L433.6,123.3L433.9,122.8L434.1,122.4L434.3,121.9L434.5,121.4L434.8,121.0L435.0,120.5L435.2,120.1L435.4,119.6L435.7,119.2L435.9,118.7L436.1,118.3L436.3,117.8M431.0,134.2L431.2,133.7L431.4,133.3L431.6,132.8L431.9,132.3L432.1,131.9L432.3,131.4L432.5,130.9L432.7,130.4L432.9,130.0L433.1,129.5L433.3,129.0L433.5,128.6L433.8,128.1L434.0,127.6L434.2,127.1L434.4,126.7L434.6,126.2L434.8,125.7L435.0,125.2L435.2,124.8L435.4,124.3L435.6,123.8L435.9,123.4L436.1,122.9L436.3,122.4L436.5,121.9L436.7,121.5L436.9,121.0L437.1,120.5M432.4,137.3L432.6,136.9L432.7,136.4L432.9,135.9L433.1,135.4L433.3,134.9L433.5,134.4L433.7,133.9L433.9,133.5L434.1,133.0L434.3,132.5L434.4,132.0L434.6,131.5L434.8,131.0L435.0,130.5L435.2,130.1L435.4,129.6L435.6,129.1L435.8,128.6L436.0,128.1L436.2,127.6L436.3,127.1L436.5,126.7L436.7,126.2L436.9,125.7L437.1,125.2L437.3,124.7L437.5,124.2L437.7,123.7L437.9,123.2M433.6,140.5L433.8,140.0L434.0,139.5L434.1,139.0L434.3,138.5L434.5,138.0L434.6,137.5L434.8,137.0L435.0,136.5L435.1,136.0L435.3,135.5L435.5,135.0L435.6,134.5L435.8,134.0L436.0,133.5L436.1,133.0L436.3,132.5L436.5,132.0L436.6,131.5L436.8,131.0L437.0,130.5L437.2,130.0L437.3,129.5L437.5,129.0L437.7,128.5L437.8,128.0L438.0,127.5L438.2,127.0L438.3,126.5L438.5,126.0M434.6,143.8L434.8,143.2L434.9,142.7L435.1,142.2L435.2,141.7L435.4,141.2L435.5,140.7L435.7,140.1L435.9,139.6L436.0,139.1L436.2,138.6L436.3,138.1L436.5,137.6L436.6,137.0L436.8,136.5L436.9,136.0L437.1,135.5L437.2,135.0L437.4,134.5L437.5,133.9L437.7,133.4L437.9,132.9L438.0,132.4L438.2,131.9L438.3,131.4L438.5,130.8L438.6,130.3L438.8,129.8L438.9,129.3L439.1,128.8M435.5,147.1L435.6,146.5L435.8,146.0L435.9,145.4L436.0,144.9L436.2,144.4L436.3,143.8L436.5,143.3L436.6,142.8L436.8,142.2L436.9,141.7L437.1,141.2L437.2,140.6L437.4,140.1L437.5,139.6L437.7,139.0L437.8,138.5L438.0,138.0L438.1,137.4L438.2,136.9L438.4,136.3L438.5,135.8L438.7,135.3L438.8,134.7L439.0,134.2L439.1,133.7L439.3,133.1L439.4,132.6L439.6,132.1L439.7,131.5M436.3,150.4L436.4,149.8L436.6,149.3L436.7,148.7L436.8,148.1L437.0,147.6L437.1,147.0L437.3,146.5L437.4,145.9L437.6,145.4L437.7,144.8L437.9,144.3L438.0,143.7L438.2,143.1L438.3,142.6L438.4,142.0L438.6,141.5L438.7,140.9L438.9,140.4L439.0,139.8L439.2,139.3L439.3,138.7L439.5,138.1L439.6,137.6L439.7,137.0L439.9,136.5L440.0,135.9L440.2,135.4L440.3,134.8L440.5,134.3M437.1,153.7L437.2,153.1L437.4,152.5L437.5,151.9L437.7,151.4L437.8,150.8L437.9,150.2L438.1,149.6L438.2,149.1L438.4,148.5L438.5,147.9L438.7,147.3L438.8,146.8L439.0,146.2L439.1,145.6L439.3,145.0L439.4,144.4L439.6,143.9L439.7,143.3L439.8,142.7L440.0,142.1L440.1,141.6L440.3,141.0L440.4,140.4L440.6,139.8L440.7,139.3L440.9,138.7L441.0,138.1L441.2,137.5L441.3,137.0M437.8,157.0L438.0,156.4L438.1,155.8L438.3,155.2L438.4,154.6L438.6,154.0L438.7,153.4L438.9,152.8L439.0,152.2L439.2,151.6L439.3,151.0L439.5,150.4L439.6,149.8L439.8,149.2L439.9,148.6L440.1,148.0L440.2,147.4L440.4,146.8L440.5,146.2L440.7,145.6L440.8,145.0L441.0,144.4L441.1,143.8L441.3,143.2L441.4,142.6L441.6,142.0L441.7,141.4L441.9,140.8L442.0,140.2L442.2,139.6M438.7,160.3L438.8,159.7L439.0,159.0L439.1,158.4L439.3,157.8L439.4,157.2L439.6,156.6L439.7,156.0L439.9,155.3L440.0,154.7L440.2,154.1L440.3,153.5L440.5,152.9L440.6,152.2L440.8,151.6L440.9,151.0L441.1,150.4L441.2,149.8L441.4,149.1L441.5,148.5L441.7,147.9L441.8,147.3L442.0,146.7L442.1,146.1L442.3,145.4L442.4,144.8L442.6,144.2L442.7,143.6L442.9,143.0L443.0,142.3M439.7,163.5L439.8,162.9L440.0,162.3L440.1,161.6L440.3,161.0L440.4,160.3L440.5,159.7L440.7,159.1L440.8,158.4L441.0,157.8L441.1,157.2L441.3,156.5L441.4,155.9L441.6,155.2L441.7,154.6L441.9,154.0L442.0,153.3L442.2,152.7L442.3,152.1L442.5,151.4L442.6,150.8L442.7,150.1L442.9,149.5L443.0,148.9L443.2,148.2L443.3,147.6L443.5,146.9L443.6,146.3L443.8,145.7L443.9,145.0M440.7,166.8L440.9,166.1L441.0,165.5L441.2,164.8L441.3,164.1L441.5,163.5L441.6,162.8L441.8,162.1L441.9,161.5L442.1,160.8L442.2,160.2L442.4,159.5L442.5,158.8L442.7,158.2L442.8,157.5L443.0,156.9L443.1,156.2L443.3,155.5L443.4,154.9L443.6,154.2L443.8,153.5L443.9,152.9L444.1,152.2L444.2,151.6L444.4,150.9L444.5,150.2L444.7,149.6L444.8,148.9L445.0,148.3L445.1,147.6M441.8,170.0L442.0,169.3L442.1,168.6L442.3,167.9L442.5,167.2L442.6,166.6L442.8,165.9L443.0,165.2L443.1,164.5L443.3,163.8L443.5,163.1L443.6,162.4L443.8,161.7L444.0,161.0L444.1,160.3L444.3,159.7L444.4,159.0L444.6,158.3L444.8,157.6L444.9,156.9L445.1,156.2L445.3,155.5L445.4,154.8L445.6,154.1L445.8,153.4L445.9,152.8L446.1,152.1L446.3,151.4L446.4,150.7L446.6,150.0" stroke="#2a2a2a" stroke-width="0.5" fill="none"/>
<path d="M404.8,76.3L405.0,77.6L405.4,79.5L405.7,81.7L406.1,83.9L406.5,86.0L406.9,87.8L407.2,89.7L407.6,91.4L407.9,93.2L408.3,95.0L408.7,96.8L409.0,98.6L409.3,100.4L409.7,102.2L410.0,104.0L410.3,105.9L410.6,107.8L410.8,109.7L411.1,111.6L411.4,113.5L411.7,115.4L412.0,117.3L412.4,119.2L412.7,121.1L413.0,123.0L413.3,124.8L413.6,126.6L413.9,128.4L414.2,130.1L414.5,131.9L414.9,133.6L415.3,135.3L415.7,137.0L416.2,138.7L416.6,140.5L417.0,142.4L417.4,144.4L417.7,146.4L418.1,148.5L418.5,150.5L418.9,152.5L419.3,154.6L419.7,156.7L420.1,158.7L420.5,160.7L420.9,162.6L421.4,164.5L421.8,166.4L422.3,168.2L422.8,170.0L423.3,171.8L423.9,173.6L424.5,175.4L425.1,177.1L425.7,178.7L426.4,180.2L427.0,181.7L427.7,183.1L428.4,184.5L429.2,185.8L430.0,187.1L430.8,188.3L431.6,189.4L432.5,190.5L433.4,191.7L434.4,192.9L435.4,194.1L436.4,195.3L437.5,196.4L438.5,197.5L439.5,198.5L440.6,199.4L441.6,200.2L442.7,201.1L443.8,202.0L444.9,203.0L446.0,204.1L447.1,205.3L448.3,206.3L449.5,207.2L450.8,207.9L452.3,208.4L453.8,208.9L455.2,209.3L456.5,209.9L457.6,210.5L458.7,211.2L459.6,211.9L460.6,212.6L461.5,213.4L462.5,214.4L463.5,215.5L464.4,216.6L465.2,217.6L465.8,218.3L467.5,216.5L466.9,215.6L466.1,214.3L465.1,212.7L464.1,211.2L463.2,209.8L462.4,208.6L461.6,207.4L460.8,206.3L460.0,205.2L459.2,204.0L458.5,202.8L457.8,201.6L457.1,200.4L456.4,199.1L455.6,197.9L454.8,196.7L453.9,195.4L453.0,194.2L452.1,192.9L451.3,191.7L450.6,190.5L450.0,189.2L449.4,188.0L448.9,186.8L448.3,185.5L447.7,184.2L447.1,182.9L446.5,181.6L445.8,180.2L445.2,178.7L444.5,177.1L443.8,175.4L443.1,173.6L442.5,171.8L441.8,170.0L441.2,168.2L440.5,166.4L439.9,164.5L439.4,162.6L438.8,160.7L438.3,158.7L437.8,156.7L437.3,154.6L436.8,152.5L436.3,150.5L435.8,148.5L435.4,146.6L434.9,144.7L434.4,142.9L433.8,141.0L433.1,139.2L432.4,137.3L431.6,135.5L430.8,133.7L430.1,131.9L429.5,130.0L428.9,128.1L428.4,126.2L427.8,124.4L427.3,122.5L426.7,120.7L426.2,118.8L425.6,117.0L425.0,115.3L424.5,113.5L424.0,111.8L423.5,110.0L423.1,108.3L422.7,106.7L422.2,105.0L421.7,103.4L421.3,101.8L420.8,100.2L420.4,98.6L419.9,97.0L419.4,95.4L418.9,93.8L418.4,92.1L417.9,90.5L417.4,89.0L416.9,87.5L416.5,86.1L416.0,84.7L415.6,83.3L415.2,82.0L414.8,80.6L414.3,79.1L413.9,77.7L413.6,76.5L413.3,75.6Z" fill="url(#gs1)"/>
<path d="M404.8,76.3L405.0,77.6L405.3,79.0L405.5,80.3L405.7,81.7L406.0,83.0L406.2,84.4L406.4,85.7L406.7,87.0L407.0,88.4L407.2,89.7L407.5,91.1L407.8,92.4L408.0,93.7L408.3,95.1L408.6,96.4L408.8,97.8L409.1,99.1L409.4,100.4L409.6,101.8L409.8,103.1L410.1,104.5L410.3,105.8L410.5,107.2L410.7,108.5L410.9,109.9L411.1,111.2L411.3,112.6L411.5,113.9L411.7,115.3L411.9,116.6L412.1,118.0L412.4,119.3L412.6,120.6L412.8,122.0L413.1,123.3L413.3,124.7L413.5,126.0L413.7,127.4L413.9,128.7L414.1,130.1L414.4,131.4L414.7,132.7L415.0,134.1L415.3,135.4L415.7,136.7L416.0,138.0L416.3,139.4L416.6,140.7L416.9,142.0L417.2,143.4L417.4,144.7L417.7,146.0L417.9,147.4L418.2,148.7L418.4,150.1L418.7,151.4L418.9,152.8L419.2,154.1L419.4,155.4L419.7,156.8L420.0,158.1L420.2,159.5L420.5,160.8L420.8,162.1L421.1,163.4L421.4,164.8L421.8,166.1L422.1,167.4L422.4,168.7L422.8,170.1L423.2,171.4L423.6,172.7L424.0,174.0L424.4,175.3L424.9,176.6L425.4,177.8L425.9,179.1L426.4,180.4L427.0,181.6L427.6,182.8L428.2,184.0L428.9,185.2L429.6,186.4L430.3,187.5L431.1,188.7L431.9,189.8L432.7,190.8L433.6,191.9L434.4,193.0L435.3,194.0L436.2,195.0L437.1,196.1L438.1,197.0L439.0,198.0L440.1,198.9L441.1,199.8L442.2,200.6L443.2,201.5L444.2,202.4L445.2,203.4L446.2,204.3L447.1,205.3L448.2,206.2L449.3,207.0L450.4,207.7L451.7,208.2L453.0,208.6L454.3,209.1L455.6,209.5L456.8,210.1L458.0,210.8L459.1,211.5L460.2,212.3L461.3,213.2L462.3,214.2L463.2,215.2L464.1,216.2L464.9,217.2L465.8,218.3M407.6,76.1L407.9,77.4L408.2,78.7L408.5,80.0L408.7,81.3L409.0,82.6L409.3,83.9L409.6,85.2L409.9,86.5L410.2,87.8L410.5,89.1L410.8,90.4L411.1,91.7L411.4,93.0L411.7,94.3L412.0,95.6L412.3,96.9L412.6,98.2L412.9,99.5L413.2,100.8L413.5,102.1L413.8,103.4L414.0,104.7L414.3,106.0L414.5,107.3L414.8,108.6L415.0,109.9L415.2,111.3L415.5,112.6L415.7,113.9L416.0,115.2L416.3,116.5L416.5,117.8L416.8,119.1L417.1,120.4L417.4,121.7L417.7,123.0L417.9,124.3L418.2,125.6L418.5,126.9L418.7,128.2L419.0,129.5L419.3,130.8L419.6,132.1L420.0,133.4L420.4,134.7L420.7,136.0L421.1,137.3L421.4,138.6L421.8,139.8L422.1,141.1L422.5,142.4L422.8,143.7L423.1,145.0L423.4,146.3L423.7,147.6L424.0,148.9L424.3,150.2L424.5,151.5L424.8,152.8L425.1,154.1L425.4,155.4L425.7,156.7L425.9,158.0L426.2,159.3L426.5,160.6L426.8,161.9L427.2,163.2L427.5,164.5L427.8,165.8L428.2,167.1L428.6,168.4L429.0,169.7L429.4,170.9L429.8,172.2L430.2,173.5L430.7,174.7L431.1,176.0L431.6,177.2L432.2,178.4L432.7,179.6L433.3,180.9L433.9,182.0L434.5,183.2L435.2,184.4L435.9,185.5L436.6,186.6L437.3,187.7L438.0,188.8L438.8,189.9L439.6,191.0L440.3,192.1L441.1,193.2L441.9,194.2L442.8,195.2L443.6,196.2L444.5,197.2L445.5,198.1L446.4,199.0L447.4,200.0L448.3,200.9L449.1,201.9L450.0,202.9L450.9,203.9L451.9,204.8L452.9,205.6L453.9,206.3L455.0,207.0L456.1,207.6L457.2,208.3L458.3,209.0L459.3,209.8L460.3,210.7L461.3,211.6L462.2,212.5L463.1,213.5L463.9,214.5L464.8,215.6L465.6,216.6L466.4,217.7M410.5,75.8L410.8,77.1L411.1,78.4L411.4,79.6L411.7,80.9L412.1,82.2L412.4,83.4L412.7,84.7L413.1,85.9L413.4,87.2L413.8,88.5L414.1,89.7L414.5,91.0L414.8,92.2L415.1,93.5L415.5,94.7L415.8,96.0L416.2,97.3L416.5,98.5L416.8,99.8L417.1,101.1L417.5,102.3L417.8,103.6L418.1,104.9L418.3,106.1L418.6,107.4L418.9,108.7L419.2,110.0L419.5,111.2L419.8,112.5L420.1,113.8L420.4,115.0L420.7,116.3L421.0,117.6L421.4,118.8L421.7,120.1L422.0,121.3L422.4,122.6L422.7,123.9L423.0,125.1L423.3,126.4L423.6,127.7L424.0,128.9L424.3,130.2L424.7,131.4L425.0,132.7L425.4,134.0L425.8,135.2L426.2,136.4L426.7,137.7L427.1,138.9L427.5,140.1L427.9,141.3L428.3,142.6L428.7,143.8L429.0,145.1L429.3,146.4L429.6,147.6L429.9,148.9L430.2,150.2L430.5,151.5L430.8,152.7L431.1,154.0L431.4,155.3L431.7,156.5L432.0,157.8L432.3,159.1L432.6,160.4L432.9,161.6L433.2,162.9L433.6,164.1L433.9,165.4L434.3,166.7L434.7,167.9L435.1,169.1L435.5,170.4L436.0,171.6L436.4,172.8L436.9,174.1L437.4,175.3L437.9,176.5L438.4,177.7L438.9,178.9L439.5,180.0L440.1,181.2L440.6,182.4L441.3,183.5L441.9,184.7L442.5,185.8L443.2,186.9L443.8,188.0L444.5,189.1L445.1,190.3L445.8,191.4L446.5,192.4L447.2,193.5L448.0,194.5L448.8,195.5L449.6,196.5L450.5,197.5L451.3,198.5L452.1,199.5L452.9,200.6L453.7,201.6L454.5,202.6L455.3,203.6L456.1,204.5L457.0,205.4L457.9,206.2L458.8,207.1L459.7,208.0L460.6,208.9L461.5,209.8L462.3,210.8L463.1,211.8L463.9,212.8L464.7,213.9L465.4,215.0L466.2,216.0L466.9,217.1M413.3,75.6L413.7,76.8L414.0,78.1L414.4,79.3L414.7,80.5L415.1,81.7L415.5,82.9L415.9,84.2L416.3,85.4L416.6,86.6L417.0,87.8L417.4,89.0L417.8,90.3L418.2,91.5L418.6,92.7L418.9,93.9L419.3,95.1L419.7,96.4L420.1,97.6L420.4,98.8L420.8,100.0L421.1,101.3L421.5,102.5L421.8,103.7L422.2,104.9L422.5,106.2L422.9,107.4L423.2,108.6L423.5,109.9L423.8,111.1L424.2,112.3L424.5,113.6L424.9,114.8L425.3,116.0L425.6,117.2L426.0,118.5L426.4,119.7L426.8,120.9L427.2,122.1L427.5,123.3L427.9,124.6L428.3,125.8L428.6,127.0L428.9,128.3L429.3,129.5L429.7,130.7L430.1,131.9L430.6,133.1L431.0,134.3L431.5,135.5L432.1,136.6L432.6,137.8L433.0,139.0L433.5,140.2L433.9,141.4L434.3,142.6L434.6,143.8L435.0,145.1L435.3,146.3L435.6,147.6L435.9,148.8L436.2,150.0L436.5,151.3L436.8,152.5L437.1,153.8L437.4,155.0L437.7,156.2L438.0,157.5L438.3,158.7L438.6,160.0L438.9,161.2L439.3,162.4L439.7,163.6L440.1,164.9L440.5,166.1L440.9,167.3L441.3,168.5L441.7,169.7L442.1,170.9L442.6,172.1L443.0,173.3L443.5,174.5L444.0,175.7L444.4,176.9L444.9,178.0L445.4,179.2L445.9,180.4L446.5,181.6L447.0,182.7L447.5,183.9L448.1,185.0L448.6,186.2L449.1,187.4L449.7,188.5L450.2,189.7L450.8,190.8L451.4,191.9L452.1,193.0L452.9,194.0L453.6,195.1L454.4,196.1L455.1,197.2L455.8,198.2L456.5,199.3L457.1,200.4L457.7,201.5L458.4,202.6L459.0,203.7L459.7,204.8L460.4,205.9L461.2,206.9L461.9,207.9L462.6,209.0L463.4,210.0L464.1,211.1L464.8,212.2L465.4,213.3L466.1,214.3L466.8,215.4L467.5,216.5M404.8,76.3L405.1,76.3L405.4,76.3L405.7,76.2L406.0,76.2L406.3,76.2L406.6,76.2L406.9,76.1L407.1,76.1L407.4,76.1L407.7,76.1L408.0,76.0L408.3,76.0L408.6,76.0L408.9,76.0L409.2,75.9L409.5,75.9L409.8,75.9L410.1,75.9L410.4,75.8L410.7,75.8L411.0,75.8L411.2,75.8L411.5,75.7L411.8,75.7L412.1,75.7L412.4,75.7L412.7,75.6L413.0,75.6L413.3,75.6M405.3,78.9L405.6,78.9L405.9,78.9L406.2,78.8L406.5,78.8L406.8,78.8L407.1,78.7L407.4,78.7L407.7,78.7L408.0,78.6L408.3,78.6L408.6,78.6L408.9,78.5L409.2,78.5L409.5,78.5L409.8,78.4L410.1,78.4L410.4,78.4L410.7,78.3L411.0,78.3L411.3,78.3L411.6,78.2L411.9,78.2L412.2,78.2L412.5,78.2L412.8,78.1L413.1,78.1L413.4,78.1L413.7,78.0L414.0,78.0M405.7,81.5L406.0,81.5L406.3,81.5L406.6,81.4L406.9,81.4L407.3,81.3L407.6,81.3L407.9,81.3L408.2,81.2L408.5,81.2L408.8,81.1L409.1,81.1L409.4,81.1L409.7,81.0L410.1,81.0L410.4,80.9L410.7,80.9L411.0,80.9L411.3,80.8L411.6,80.8L411.9,80.7L412.2,80.7L412.5,80.7L412.8,80.6L413.2,80.6L413.5,80.5L413.8,80.5L414.1,80.5L414.4,80.4L414.7,80.4M406.2,84.2L406.5,84.1L406.8,84.1L407.1,84.0L407.4,84.0L407.8,83.9L408.1,83.9L408.4,83.8L408.7,83.8L409.0,83.7L409.4,83.7L409.7,83.6L410.0,83.6L410.3,83.5L410.6,83.5L411.0,83.4L411.3,83.4L411.6,83.3L411.9,83.3L412.2,83.2L412.6,83.2L412.9,83.2L413.2,83.1L413.5,83.1L413.8,83.0L414.2,83.0L414.5,82.9L414.8,82.9L415.1,82.8L415.4,82.8M406.7,86.8L407.0,86.7L407.3,86.7L407.6,86.6L408.0,86.6L408.3,86.5L408.6,86.4L409.0,86.4L409.3,86.3L409.6,86.3L409.9,86.2L410.3,86.2L410.6,86.1L410.9,86.0L411.3,86.0L411.6,85.9L411.9,85.9L412.2,85.8L412.6,85.8L412.9,85.7L413.2,85.7L413.6,85.6L413.9,85.5L414.2,85.5L414.5,85.4L414.9,85.4L415.2,85.3L415.5,85.3L415.9,85.2L416.2,85.1M407.2,89.4L407.5,89.3L407.8,89.3L408.2,89.2L408.5,89.1L408.9,89.1L409.2,89.0L409.5,88.9L409.9,88.9L410.2,88.8L410.5,88.7L410.9,88.7L411.2,88.6L411.5,88.6L411.9,88.5L412.2,88.4L412.6,88.4L412.9,88.3L413.2,88.2L413.6,88.2L413.9,88.1L414.2,88.0L414.6,88.0L414.9,87.9L415.2,87.8L415.6,87.8L415.9,87.7L416.3,87.6L416.6,87.6L416.9,87.5M407.7,92.0L408.0,91.9L408.4,91.9L408.7,91.8L409.1,91.7L409.4,91.6L409.8,91.6L410.1,91.5L410.5,91.4L410.8,91.4L411.1,91.3L411.5,91.2L411.8,91.1L412.2,91.1L412.5,91.0L412.9,90.9L413.2,90.8L413.6,90.8L413.9,90.7L414.2,90.6L414.6,90.6L414.9,90.5L415.3,90.4L415.6,90.3L416.0,90.3L416.3,90.2L416.6,90.1L417.0,90.0L417.3,90.0L417.7,89.9M408.2,94.6L408.6,94.5L408.9,94.5L409.3,94.4L409.6,94.3L410.0,94.2L410.3,94.1L410.7,94.0L411.0,94.0L411.4,93.9L411.7,93.8L412.1,93.7L412.4,93.6L412.8,93.6L413.2,93.5L413.5,93.4L413.9,93.3L414.2,93.2L414.6,93.2L414.9,93.1L415.3,93.0L415.6,92.9L416.0,92.8L416.3,92.8L416.7,92.7L417.0,92.6L417.4,92.5L417.7,92.4L418.1,92.4L418.4,92.3M408.7,97.2L409.1,97.1L409.5,97.0L409.8,97.0L410.2,96.9L410.5,96.8L410.9,96.7L411.3,96.6L411.6,96.5L412.0,96.4L412.3,96.3L412.7,96.2L413.1,96.2L413.4,96.1L413.8,96.0L414.1,95.9L414.5,95.8L414.9,95.7L415.2,95.6L415.6,95.5L415.9,95.5L416.3,95.4L416.7,95.3L417.0,95.2L417.4,95.1L417.7,95.0L418.1,94.9L418.5,94.8L418.8,94.7L419.2,94.7M409.2,99.8L409.6,99.7L410.0,99.6L410.3,99.5L410.7,99.5L411.1,99.4L411.5,99.3L411.8,99.2L412.2,99.1L412.6,99.0L412.9,98.9L413.3,98.8L413.7,98.7L414.0,98.6L414.4,98.5L414.8,98.4L415.1,98.3L415.5,98.2L415.9,98.1L416.2,98.0L416.6,97.9L417.0,97.8L417.3,97.7L417.7,97.6L418.1,97.5L418.4,97.4L418.8,97.3L419.2,97.2L419.5,97.1L419.9,97.0M409.7,102.5L410.1,102.4L410.5,102.2L410.9,102.1L411.2,102.0L411.6,101.9L412.0,101.8L412.4,101.7L412.7,101.6L413.1,101.5L413.5,101.4L413.9,101.3L414.2,101.2L414.6,101.1L415.0,101.0L415.4,100.9L415.7,100.8L416.1,100.7L416.5,100.6L416.9,100.5L417.2,100.4L417.6,100.3L418.0,100.2L418.4,100.1L418.7,99.9L419.1,99.8L419.5,99.7L419.9,99.6L420.2,99.5L420.6,99.4M410.2,105.1L410.6,105.0L410.9,104.9L411.3,104.7L411.7,104.6L412.1,104.5L412.5,104.4L412.9,104.3L413.2,104.2L413.6,104.1L414.0,104.0L414.4,103.8L414.8,103.7L415.2,103.6L415.5,103.5L415.9,103.4L416.3,103.3L416.7,103.2L417.1,103.1L417.5,102.9L417.8,102.8L418.2,102.7L418.6,102.6L419.0,102.5L419.4,102.4L419.8,102.3L420.2,102.2L420.5,102.0L420.9,101.9L421.3,101.8M410.6,107.7L411.0,107.6L411.4,107.5L411.7,107.4L412.1,107.2L412.5,107.1L412.9,107.0L413.3,106.9L413.7,106.8L414.1,106.6L414.5,106.5L414.9,106.4L415.3,106.3L415.7,106.1L416.1,106.0L416.5,105.9L416.9,105.8L417.3,105.7L417.7,105.5L418.0,105.4L418.4,105.3L418.8,105.2L419.2,105.1L419.6,104.9L420.0,104.8L420.4,104.7L420.8,104.6L421.2,104.5L421.6,104.3L422.0,104.2M410.9,110.4L411.3,110.2L411.7,110.1L412.1,110.0L412.6,109.8L413.0,109.7L413.4,109.6L413.8,109.5L414.2,109.3L414.6,109.2L415.0,109.1L415.4,108.9L415.8,108.8L416.2,108.7L416.6,108.6L417.0,108.4L417.4,108.3L417.8,108.2L418.2,108.0L418.6,107.9L419.0,107.8L419.4,107.7L419.8,107.5L420.2,107.4L420.6,107.3L421.0,107.1L421.4,107.0L421.8,106.9L422.2,106.8L422.6,106.6M411.3,113.0L411.7,112.8L412.1,112.7L412.6,112.6L413.0,112.4L413.4,112.3L413.8,112.2L414.2,112.0L414.6,111.9L415.0,111.8L415.4,111.6L415.9,111.5L416.3,111.3L416.7,111.2L417.1,111.1L417.5,110.9L417.9,110.8L418.3,110.7L418.7,110.5L419.2,110.4L419.6,110.3L420.0,110.1L420.4,110.0L420.8,109.8L421.2,109.7L421.6,109.6L422.0,109.4L422.5,109.3L422.9,109.2L423.3,109.0M411.7,115.6L412.2,115.5L412.6,115.3L413.0,115.2L413.4,115.0L413.8,114.9L414.3,114.7L414.7,114.6L415.1,114.5L415.5,114.3L415.9,114.2L416.4,114.0L416.8,113.9L417.2,113.7L417.6,113.6L418.0,113.5L418.5,113.3L418.9,113.2L419.3,113.0L419.7,112.9L420.1,112.7L420.6,112.6L421.0,112.4L421.4,112.3L421.8,112.2L422.2,112.0L422.7,111.9L423.1,111.7L423.5,111.6L423.9,111.4M412.2,118.2L412.6,118.1L413.0,117.9L413.5,117.8L413.9,117.6L414.3,117.5L414.8,117.3L415.2,117.2L415.6,117.0L416.0,116.9L416.5,116.7L416.9,116.6L417.3,116.4L417.8,116.3L418.2,116.1L418.6,116.0L419.0,115.8L419.5,115.7L419.9,115.5L420.3,115.4L420.7,115.2L421.2,115.1L421.6,114.9L422.0,114.7L422.5,114.6L422.9,114.4L423.3,114.3L423.7,114.1L424.2,114.0L424.6,113.8M412.6,120.9L413.1,120.7L413.5,120.5L413.9,120.4L414.4,120.2L414.8,120.1L415.3,119.9L415.7,119.7L416.1,119.6L416.6,119.4L417.0,119.3L417.4,119.1L417.9,118.9L418.3,118.8L418.8,118.6L419.2,118.5L419.6,118.3L420.1,118.1L420.5,118.0L421.0,117.8L421.4,117.7L421.8,117.5L422.3,117.3L422.7,117.2L423.1,117.0L423.6,116.9L424.0,116.7L424.5,116.5L424.9,116.4L425.3,116.2M413.1,123.5L413.5,123.3L414.0,123.1L414.4,123.0L414.9,122.8L415.3,122.6L415.8,122.5L416.2,122.3L416.7,122.1L417.1,122.0L417.6,121.8L418.0,121.6L418.5,121.5L418.9,121.3L419.4,121.1L419.8,121.0L420.3,120.8L420.7,120.6L421.1,120.5L421.6,120.3L422.0,120.1L422.5,119.9L422.9,119.8L423.4,119.6L423.8,119.4L424.3,119.3L424.7,119.1L425.2,118.9L425.6,118.8L426.1,118.6M413.5,126.1L414.0,125.9L414.4,125.8L414.9,125.6L415.3,125.4L415.8,125.2L416.3,125.1L416.7,124.9L417.2,124.7L417.6,124.5L418.1,124.3L418.6,124.2L419.0,124.0L419.5,123.8L419.9,123.6L420.4,123.5L420.9,123.3L421.3,123.1L421.8,122.9L422.2,122.7L422.7,122.6L423.2,122.4L423.6,122.2L424.1,122.0L424.5,121.9L425.0,121.7L425.4,121.5L425.9,121.3L426.4,121.2L426.8,121.0M413.9,128.7L414.4,128.6L414.9,128.4L415.3,128.2L415.8,128.0L416.3,127.8L416.7,127.6L417.2,127.4L417.7,127.3L418.2,127.1L418.6,126.9L419.1,126.7L419.6,126.5L420.0,126.3L420.5,126.1L421.0,126.0L421.4,125.8L421.9,125.6L422.4,125.4L422.9,125.2L423.3,125.0L423.8,124.8L424.3,124.7L424.7,124.5L425.2,124.3L425.7,124.1L426.1,123.9L426.6,123.7L427.1,123.5L427.6,123.4M414.4,131.4L414.9,131.2L415.4,131.0L415.8,130.8L416.3,130.6L416.8,130.4L417.3,130.2L417.7,130.0L418.2,129.8L418.7,129.6L419.2,129.4L419.6,129.2L420.1,129.0L420.6,128.8L421.1,128.7L421.6,128.5L422.0,128.3L422.5,128.1L423.0,127.9L423.5,127.7L423.9,127.5L424.4,127.3L424.9,127.1L425.4,126.9L425.9,126.7L426.3,126.5L426.8,126.3L427.3,126.1L427.8,125.9L428.2,125.8M415.0,134.0L415.5,133.8L415.9,133.6L416.4,133.4L416.9,133.2L417.4,133.0L417.9,132.8L418.3,132.6L418.8,132.4L419.3,132.2L419.8,132.0L420.3,131.8L420.7,131.6L421.2,131.4L421.7,131.2L422.2,131.0L422.7,130.8L423.1,130.6L423.6,130.4L424.1,130.2L424.6,130.0L425.1,129.8L425.6,129.6L426.0,129.4L426.5,129.2L427.0,129.0L427.5,128.8L428.0,128.6L428.4,128.4L428.9,128.2M415.6,136.5L416.1,136.3L416.6,136.1L417.1,135.9L417.6,135.7L418.0,135.5L418.5,135.3L419.0,135.1L419.5,134.9L420.0,134.7L420.5,134.5L420.9,134.3L421.4,134.1L421.9,133.8L422.4,133.6L422.9,133.4L423.4,133.2L423.9,133.0L424.3,132.8L424.8,132.6L425.3,132.4L425.8,132.2L426.3,132.0L426.8,131.8L427.2,131.6L427.7,131.4L428.2,131.2L428.7,130.9L429.2,130.7L429.7,130.5M416.3,139.1L416.8,138.9L417.3,138.7L417.7,138.5L418.2,138.3L418.7,138.0L419.2,137.8L419.7,137.6L420.2,137.4L420.7,137.2L421.2,137.0L421.7,136.8L422.2,136.5L422.6,136.3L423.1,136.1L423.6,135.9L424.1,135.7L424.6,135.5L425.1,135.3L425.6,135.0L426.1,134.8L426.6,134.6L427.1,134.4L427.5,134.2L428.0,134.0L428.5,133.7L429.0,133.5L429.5,133.3L430.0,133.1L430.5,132.9M416.9,141.7L417.4,141.5L417.9,141.3L418.4,141.0L418.9,140.8L419.4,140.6L419.9,140.4L420.4,140.1L420.9,139.9L421.4,139.7L421.9,139.5L422.4,139.2L422.9,139.0L423.4,138.8L423.9,138.6L424.4,138.3L424.9,138.1L425.4,137.9L425.9,137.7L426.4,137.4L426.9,137.2L427.4,137.0L427.9,136.8L428.4,136.5L428.9,136.3L429.4,136.1L429.9,135.9L430.4,135.6L430.9,135.4L431.4,135.2M417.4,144.3L417.9,144.1L418.4,143.9L418.9,143.6L419.4,143.4L420.0,143.2L420.5,142.9L421.0,142.7L421.5,142.4L422.0,142.2L422.5,142.0L423.1,141.7L423.6,141.5L424.1,141.3L424.6,141.0L425.1,140.8L425.7,140.6L426.2,140.3L426.7,140.1L427.2,139.8L427.7,139.6L428.3,139.4L428.8,139.1L429.3,138.9L429.8,138.7L430.3,138.4L430.9,138.2L431.4,138.0L431.9,137.7L432.4,137.5M417.8,147.0L418.4,146.7L418.9,146.5L419.4,146.2L420.0,146.0L420.5,145.7L421.0,145.5L421.6,145.2L422.1,145.0L422.7,144.7L423.2,144.5L423.7,144.2L424.3,144.0L424.8,143.7L425.3,143.5L425.9,143.2L426.4,143.0L426.9,142.8L427.5,142.5L428.0,142.3L428.5,142.0L429.1,141.8L429.6,141.5L430.1,141.3L430.7,141.0L431.2,140.8L431.7,140.5L432.3,140.3L432.8,140.0L433.4,139.8M418.3,149.6L418.9,149.3L419.4,149.1L420.0,148.8L420.5,148.5L421.1,148.3L421.6,148.0L422.1,147.8L422.7,147.5L423.2,147.3L423.8,147.0L424.3,146.8L424.9,146.5L425.4,146.2L426.0,146.0L426.5,145.7L427.1,145.5L427.6,145.2L428.2,145.0L428.7,144.7L429.2,144.4L429.8,144.2L430.3,143.9L430.9,143.7L431.4,143.4L432.0,143.2L432.5,142.9L433.1,142.7L433.6,142.4L434.2,142.1M418.8,152.2L419.4,151.9L419.9,151.7L420.5,151.4L421.0,151.1L421.6,150.9L422.1,150.6L422.7,150.3L423.2,150.1L423.8,149.8L424.3,149.6L424.9,149.3L425.4,149.0L426.0,148.8L426.5,148.5L427.1,148.2L427.7,148.0L428.2,147.7L428.8,147.4L429.3,147.2L429.9,146.9L430.4,146.7L431.0,146.4L431.5,146.1L432.1,145.9L432.6,145.6L433.2,145.3L433.7,145.1L434.3,144.8L434.8,144.5M419.3,154.8L419.9,154.5L420.4,154.3L421.0,154.0L421.5,153.7L422.1,153.4L422.7,153.2L423.2,152.9L423.8,152.6L424.3,152.4L424.9,152.1L425.4,151.8L426.0,151.6L426.5,151.3L427.1,151.0L427.7,150.7L428.2,150.5L428.8,150.2L429.3,149.9L429.9,149.7L430.4,149.4L431.0,149.1L431.5,148.9L432.1,148.6L432.7,148.3L433.2,148.0L433.8,147.8L434.3,147.5L434.9,147.2L435.4,147.0M419.8,157.4L420.4,157.1L420.9,156.9L421.5,156.6L422.1,156.3L422.6,156.0L423.2,155.8L423.7,155.5L424.3,155.2L424.8,154.9L425.4,154.6L426.0,154.4L426.5,154.1L427.1,153.8L427.6,153.5L428.2,153.3L428.8,153.0L429.3,152.7L429.9,152.4L430.4,152.2L431.0,151.9L431.6,151.6L432.1,151.3L432.7,151.0L433.2,150.8L433.8,150.5L434.3,150.2L434.9,149.9L435.5,149.7L436.0,149.4M420.4,160.0L420.9,159.7L421.5,159.5L422.0,159.2L422.6,158.9L423.2,158.6L423.7,158.3L424.3,158.0L424.8,157.8L425.4,157.5L426.0,157.2L426.5,156.9L427.1,156.6L427.6,156.3L428.2,156.1L428.8,155.8L429.3,155.5L429.9,155.2L430.5,154.9L431.0,154.6L431.6,154.4L432.1,154.1L432.7,153.8L433.3,153.5L433.8,153.2L434.4,152.9L434.9,152.7L435.5,152.4L436.1,152.1L436.6,151.8M420.9,162.6L421.5,162.3L422.1,162.0L422.6,161.8L423.2,161.5L423.7,161.2L424.3,160.9L424.9,160.6L425.4,160.3L426.0,160.0L426.5,159.7L427.1,159.4L427.7,159.1L428.2,158.9L428.8,158.6L429.3,158.3L429.9,158.0L430.5,157.7L431.0,157.4L431.6,157.1L432.1,156.8L432.7,156.5L433.3,156.3L433.8,156.0L434.4,155.7L435.0,155.4L435.5,155.1L436.1,154.8L436.6,154.5L437.2,154.2M421.5,165.2L422.1,164.9L422.7,164.6L423.2,164.3L423.8,164.0L424.3,163.7L424.9,163.4L425.5,163.1L426.0,162.9L426.6,162.6L427.1,162.3L427.7,162.0L428.3,161.7L428.8,161.4L429.4,161.1L429.9,160.8L430.5,160.5L431.1,160.2L431.6,159.9L432.2,159.6L432.7,159.3L433.3,159.0L433.9,158.7L434.4,158.4L435.0,158.1L435.5,157.8L436.1,157.5L436.6,157.2L437.2,157.0L437.8,156.7M422.2,167.8L422.8,167.5L423.3,167.2L423.9,166.9L424.4,166.6L425.0,166.3L425.5,166.0L426.1,165.7L426.7,165.4L427.2,165.1L427.8,164.8L428.3,164.5L428.9,164.2L429.4,163.9L430.0,163.6L430.6,163.3L431.1,163.0L431.7,162.7L432.2,162.4L432.8,162.1L433.3,161.8L433.9,161.5L434.5,161.2L435.0,160.9L435.6,160.6L436.1,160.3L436.7,160.0L437.3,159.7L437.8,159.4L438.4,159.1M422.9,170.4L423.5,170.1L424.0,169.7L424.6,169.4L425.1,169.1L425.7,168.8L426.2,168.5L426.8,168.2L427.4,167.9L427.9,167.6L428.5,167.3L429.0,167.0L429.6,166.7L430.1,166.4L430.7,166.1L431.2,165.8L431.8,165.5L432.4,165.2L432.9,164.8L433.5,164.5L434.0,164.2L434.6,163.9L435.1,163.6L435.7,163.3L436.2,163.0L436.8,162.7L437.4,162.4L437.9,162.1L438.5,161.8L439.0,161.5M423.7,172.9L424.2,172.6L424.8,172.3L425.3,172.0L425.9,171.7L426.4,171.3L427.0,171.0L427.6,170.7L428.1,170.4L428.7,170.1L429.2,169.8L429.8,169.5L430.3,169.2L430.9,168.9L431.4,168.5L432.0,168.2L432.5,167.9L433.1,167.6L433.6,167.3L434.2,167.0L434.8,166.7L435.3,166.4L435.9,166.0L436.4,165.7L437.0,165.4L437.5,165.1L438.1,164.8L438.6,164.5L439.2,164.2L439.7,163.9M424.5,175.4L425.0,175.1L425.6,174.8L426.2,174.5L426.7,174.2L427.3,173.9L427.8,173.5L428.4,173.2L428.9,172.9L429.5,172.6L430.0,172.3L430.6,171.9L431.1,171.6L431.7,171.3L432.2,171.0L432.8,170.7L433.3,170.4L433.9,170.0L434.4,169.7L435.0,169.4L435.5,169.1L436.1,168.8L436.6,168.5L437.2,168.1L437.7,167.8L438.3,167.5L438.9,167.2L439.4,166.9L440.0,166.6L440.5,166.2M425.4,177.9L426.0,177.6L426.5,177.3L427.1,177.0L427.6,176.6L428.1,176.3L428.7,176.0L429.2,175.7L429.8,175.4L430.3,175.0L430.9,174.7L431.4,174.4L432.0,174.1L432.5,173.8L433.1,173.4L433.6,173.1L434.2,172.8L434.7,172.5L435.3,172.1L435.8,171.8L436.4,171.5L436.9,171.2L437.5,170.9L438.0,170.5L438.6,170.2L439.1,169.9L439.7,169.6L440.2,169.2L440.8,168.9L441.3,168.6M426.4,180.4L427.0,180.1L427.5,179.7L428.0,179.4L428.6,179.1L429.1,178.8L429.7,178.4L430.2,178.1L430.8,177.8L431.3,177.5L431.8,177.1L432.4,176.8L432.9,176.5L433.5,176.2L434.0,175.8L434.6,175.5L435.1,175.2L435.6,174.9L436.2,174.5L436.7,174.2L437.3,173.9L437.8,173.6L438.3,173.2L438.9,172.9L439.4,172.6L440.0,172.2L440.5,171.9L441.1,171.6L441.6,171.3L442.1,170.9M427.6,182.8L428.1,182.5L428.6,182.1L429.2,181.8L429.7,181.5L430.2,181.2L430.8,180.8L431.3,180.5L431.8,180.2L432.4,179.8L432.9,179.5L433.4,179.2L434.0,178.9L434.5,178.5L435.0,178.2L435.6,177.9L436.1,177.5L436.6,177.2L437.2,176.9L437.7,176.6L438.2,176.2L438.8,175.9L439.3,175.6L439.8,175.2L440.4,174.9L440.9,174.6L441.4,174.3L442.0,173.9L442.5,173.6L443.0,173.3M428.8,185.1L429.3,184.8L429.9,184.5L430.4,184.2L430.9,183.8L431.4,183.5L432.0,183.2L432.5,182.8L433.0,182.5L433.5,182.2L434.0,181.9L434.6,181.5L435.1,181.2L435.6,180.9L436.1,180.5L436.6,180.2L437.2,179.9L437.7,179.5L438.2,179.2L438.7,178.9L439.2,178.6L439.8,178.2L440.3,177.9L440.8,177.6L441.3,177.2L441.8,176.9L442.4,176.6L442.9,176.3L443.4,175.9L443.9,175.6M430.2,187.4L430.7,187.1L431.2,186.8L431.7,186.4L432.2,186.1L432.7,185.8L433.3,185.4L433.8,185.1L434.3,184.8L434.8,184.5L435.3,184.1L435.8,183.8L436.3,183.5L436.8,183.1L437.3,182.8L437.8,182.5L438.3,182.2L438.8,181.8L439.3,181.5L439.8,181.2L440.3,180.9L440.8,180.5L441.3,180.2L441.8,179.9L442.3,179.5L442.9,179.2L443.4,178.9L443.9,178.6L444.4,178.2L444.9,177.9M431.8,189.6L432.2,189.3L432.7,188.9L433.2,188.6L433.7,188.3L434.2,188.0L434.7,187.6L435.2,187.3L435.6,187.0L436.1,186.7L436.6,186.3L437.1,186.0L437.6,185.7L438.1,185.4L438.6,185.1L439.0,184.7L439.5,184.4L440.0,184.1L440.5,183.8L441.0,183.4L441.5,183.1L442.0,182.8L442.4,182.5L442.9,182.1L443.4,181.8L443.9,181.5L444.4,181.2L444.9,180.8L445.4,180.5L445.8,180.2M433.4,191.7L433.9,191.4L434.3,191.0L434.8,190.7L435.3,190.4L435.7,190.1L436.2,189.8L436.6,189.5L437.1,189.1L437.6,188.8L438.0,188.5L438.5,188.2L439.0,187.9L439.4,187.6L439.9,187.2L440.4,186.9L440.8,186.6L441.3,186.3L441.8,186.0L442.2,185.6L442.7,185.3L443.2,185.0L443.6,184.7L444.1,184.4L444.6,184.1L445.0,183.7L445.5,183.4L445.9,183.1L446.4,182.8L446.9,182.5M435.1,193.7L435.5,193.4L436.0,193.1L436.4,192.8L436.9,192.5L437.3,192.2L437.7,191.9L438.2,191.6L438.6,191.3L439.1,190.9L439.5,190.6L440.0,190.3L440.4,190.0L440.8,189.7L441.3,189.4L441.7,189.1L442.2,188.8L442.6,188.5L443.1,188.1L443.5,187.8L443.9,187.5L444.4,187.2L444.8,186.9L445.3,186.6L445.7,186.3L446.2,186.0L446.6,185.7L447.0,185.3L447.5,185.0L447.9,184.7M436.8,195.7L437.3,195.4L437.7,195.1L438.1,194.8L438.5,194.5L438.9,194.2L439.3,193.9L439.8,193.6L440.2,193.3L440.6,193.0L441.0,192.7L441.4,192.4L441.9,192.1L442.3,191.8L442.7,191.5L443.1,191.2L443.5,190.9L444.0,190.6L444.4,190.3L444.8,190.0L445.2,189.7L445.6,189.4L446.0,189.1L446.5,188.8L446.9,188.5L447.3,188.2L447.7,187.9L448.1,187.6L448.6,187.3L449.0,187.0M438.7,197.7L439.1,197.4L439.5,197.1L439.9,196.8L440.2,196.5L440.6,196.2L441.0,195.9L441.4,195.6L441.8,195.3L442.2,195.0L442.6,194.8L443.0,194.5L443.4,194.2L443.8,193.9L444.2,193.6L444.5,193.3L444.9,193.0L445.3,192.7L445.7,192.4L446.1,192.2L446.5,191.9L446.9,191.6L447.3,191.3L447.7,191.0L448.1,190.7L448.5,190.4L448.8,190.1L449.2,189.8L449.6,189.5L450.0,189.3M440.7,199.4L441.0,199.1L441.4,198.9L441.8,198.6L442.1,198.3L442.5,198.0L442.8,197.8L443.2,197.5L443.6,197.2L443.9,197.0L444.3,196.7L444.7,196.4L445.0,196.1L445.4,195.9L445.7,195.6L446.1,195.3L446.5,195.0L446.8,194.8L447.2,194.5L447.6,194.2L447.9,193.9L448.3,193.7L448.6,193.4L449.0,193.1L449.4,192.8L449.7,192.6L450.1,192.3L450.5,192.0L450.8,191.7L451.2,191.5M442.7,201.1L443.1,200.8L443.4,200.6L443.7,200.3L444.1,200.1L444.4,199.8L444.8,199.5L445.1,199.3L445.4,199.0L445.8,198.8L446.1,198.5L446.4,198.2L446.8,198.0L447.1,197.7L447.5,197.5L447.8,197.2L448.1,196.9L448.5,196.7L448.8,196.4L449.1,196.2L449.5,195.9L449.8,195.6L450.2,195.4L450.5,195.1L450.8,194.9L451.2,194.6L451.5,194.3L451.8,194.1L452.2,193.8L452.5,193.6M444.7,202.9L445.0,202.6L445.4,202.4L445.7,202.1L446.0,201.9L446.3,201.6L446.6,201.4L447.0,201.1L447.3,200.9L447.6,200.6L447.9,200.4L448.2,200.1L448.5,199.9L448.9,199.6L449.2,199.4L449.5,199.1L449.8,198.9L450.1,198.6L450.5,198.3L450.8,198.1L451.1,197.8L451.4,197.6L451.7,197.3L452.1,197.1L452.4,196.8L452.7,196.6L453.0,196.3L453.3,196.1L453.7,195.8L454.0,195.6M446.6,204.8L446.9,204.5L447.2,204.3L447.5,204.0L447.8,203.8L448.1,203.5L448.4,203.3L448.7,203.0L449.0,202.8L449.3,202.5L449.6,202.3L449.9,202.1L450.2,201.8L450.5,201.6L450.9,201.3L451.2,201.1L451.5,200.8L451.8,200.6L452.1,200.3L452.4,200.1L452.7,199.8L453.0,199.6L453.3,199.3L453.6,199.1L453.9,198.9L454.2,198.6L454.5,198.4L454.8,198.1L455.1,197.9L455.4,197.6M448.6,206.5L448.9,206.3L449.1,206.1L449.4,205.8L449.7,205.6L450.0,205.4L450.3,205.1L450.5,204.9L450.8,204.7L451.1,204.4L451.4,204.2L451.7,204.0L452.0,203.7L452.2,203.5L452.5,203.3L452.8,203.0L453.1,202.8L453.4,202.6L453.6,202.3L453.9,202.1L454.2,201.8L454.5,201.6L454.8,201.4L455.0,201.1L455.3,200.9L455.6,200.7L455.9,200.4L456.2,200.2L456.4,200.0L456.7,199.7M450.9,207.9L451.1,207.7L451.4,207.4L451.6,207.2L451.9,207.0L452.1,206.8L452.3,206.6L452.6,206.4L452.8,206.2L453.1,206.0L453.3,205.8L453.6,205.6L453.8,205.4L454.0,205.2L454.3,205.0L454.5,204.8L454.8,204.6L455.0,204.4L455.3,204.2L455.5,204.0L455.8,203.8L456.0,203.5L456.2,203.3L456.5,203.1L456.7,202.9L457.0,202.7L457.2,202.5L457.5,202.3L457.7,202.1L457.9,201.9M453.4,208.8L453.6,208.6L453.8,208.4L454.0,208.3L454.2,208.1L454.4,207.9L454.6,207.8L454.8,207.6L455.0,207.5L455.2,207.3L455.4,207.1L455.6,207.0L455.8,206.8L456.0,206.6L456.2,206.5L456.4,206.3L456.6,206.2L456.8,206.0L457.0,205.8L457.2,205.7L457.4,205.5L457.6,205.3L457.8,205.2L458.0,205.0L458.2,204.9L458.4,204.7L458.6,204.5L458.8,204.4L459.0,204.2L459.2,204.0M455.9,209.6L456.0,209.5L456.2,209.4L456.4,209.3L456.5,209.2L456.7,209.0L456.9,208.9L457.0,208.8L457.2,208.7L457.4,208.5L457.5,208.4L457.7,208.3L457.8,208.2L458.0,208.1L458.2,207.9L458.3,207.8L458.5,207.7L458.7,207.6L458.8,207.5L459.0,207.3L459.2,207.2L459.3,207.1L459.5,207.0L459.6,206.8L459.8,206.7L460.0,206.6L460.1,206.5L460.3,206.4L460.5,206.2L460.6,206.1M458.2,210.9L458.4,210.8L458.5,210.7L458.6,210.6L458.8,210.5L458.9,210.4L459.0,210.3L459.2,210.2L459.3,210.1L459.4,210.0L459.5,210.0L459.7,209.9L459.8,209.8L459.9,209.7L460.1,209.6L460.2,209.5L460.3,209.4L460.5,209.3L460.6,209.2L460.7,209.1L460.9,209.0L461.0,208.9L461.1,208.8L461.3,208.7L461.4,208.6L461.5,208.5L461.7,208.4L461.8,208.3L461.9,208.2L462.1,208.1M460.4,212.5L460.5,212.4L460.6,212.3L460.7,212.2L460.8,212.1L460.9,212.1L461.0,212.0L461.1,211.9L461.2,211.8L461.3,211.8L461.4,211.7L461.6,211.6L461.7,211.5L461.8,211.4L461.9,211.4L462.0,211.3L462.1,211.2L462.2,211.1L462.3,211.1L462.4,211.0L462.5,210.9L462.6,210.8L462.7,210.7L462.8,210.7L462.9,210.6L463.0,210.5L463.1,210.4L463.3,210.4L463.4,210.3L463.5,210.2M462.3,214.3L462.4,214.2L462.5,214.1L462.6,214.0L462.7,214.0L462.8,213.9L462.9,213.8L462.9,213.8L463.0,213.7L463.1,213.6L463.2,213.6L463.3,213.5L463.4,213.4L463.5,213.4L463.5,213.3L463.6,213.2L463.7,213.2L463.8,213.1L463.9,213.0L464.0,213.0L464.1,212.9L464.1,212.8L464.2,212.8L464.3,212.7L464.4,212.6L464.5,212.6L464.6,212.5L464.7,212.4L464.7,212.4L464.8,212.3M464.1,216.2L464.2,216.2L464.2,216.1L464.3,216.1L464.4,216.0L464.5,215.9L464.5,215.9L464.6,215.8L464.7,215.7L464.7,215.7L464.8,215.6L464.9,215.5L465.0,215.5L465.0,215.4L465.1,215.4L465.2,215.3L465.2,215.2L465.3,215.2L465.4,215.1L465.5,215.0L465.5,215.0L465.6,214.9L465.7,214.8L465.7,214.8L465.8,214.7L465.9,214.7L465.9,214.6L466.0,214.5L466.1,214.5L466.2,214.4M465.8,218.3L465.9,218.2L465.9,218.2L466.0,218.1L466.0,218.1L466.1,218.0L466.2,217.9L466.2,217.9L466.3,217.8L466.3,217.7L466.4,217.7L466.4,217.6L466.5,217.6L466.6,217.5L466.6,217.4L466.7,217.4L466.7,217.3L466.8,217.2L466.9,217.2L466.9,217.1L467.0,217.1L467.0,217.0L467.1,216.9L467.1,216.9L467.2,216.8L467.3,216.7L467.3,216.7L467.4,216.6L467.4,216.6L467.5,216.5" stroke="#2a2a2a" stroke-width="0.55" fill="none"/>
<path d="M420.1,58.9L420.3,59.7L420.6,60.7L420.9,62.0L421.2,63.3L421.5,64.5L421.8,65.5L422.0,66.5L422.2,67.5L422.5,68.6L422.9,70.0L423.4,71.6L423.9,73.5L424.6,75.5L425.2,77.5L425.8,79.5L426.4,81.5L427.0,83.5L427.7,85.5L428.3,87.4L428.8,89.2L429.3,90.7L429.7,92.1L430.0,93.3L430.4,94.6L430.8,96.0L431.2,97.6L431.6,99.2L431.9,100.9L432.3,102.5L432.8,104.0L433.3,105.3L434.0,106.5L434.6,107.7L435.2,108.8L435.8,110.0L436.3,111.2L436.8,112.3L437.3,113.5L437.7,114.7L438.2,116.0L438.7,117.5L439.2,119.1L439.7,120.7L440.2,122.4L440.6,124.0L441.0,125.6L441.3,127.2L441.6,128.7L441.9,130.3L442.3,131.9L442.7,133.5L443.1,135.1L443.5,136.8L444.0,138.4L444.5,140.0L445.0,141.6L445.6,143.2L446.3,144.7L446.9,146.3L447.5,148.0L448.1,149.7L448.7,151.5L449.3,153.4L449.9,155.2L450.5,157.0L451.2,158.8L451.9,160.6L452.6,162.4L453.3,164.2L454.0,166.0L454.7,167.8L455.4,169.5L456.0,171.2L456.7,173.1L457.4,175.0L458.1,177.1L458.8,179.4L459.5,181.7L460.2,184.0L461.1,186.1L462.1,188.1L463.1,190.0L464.2,191.8L465.3,193.6L466.6,195.3L467.9,196.9L469.3,198.4L470.8,199.9L472.4,201.3L474.0,202.7L475.7,204.1L477.6,205.5L479.4,206.8L481.3,208.0L483.2,209.1L485.0,210.0L486.9,210.8L488.7,211.5L490.6,212.2L492.4,212.8L494.3,213.4L496.2,213.9L498.1,214.5L500.0,215.0L501.7,215.6L503.3,216.3L505.0,217.2L506.5,218.0L507.7,218.7L508.6,219.2L508.8,218.8L508.4,218.2L507.9,217.4L507.2,216.4L506.6,215.4L506.0,214.5L505.5,213.6L505.0,212.8L504.5,211.9L504.1,211.0L503.6,210.0L503.1,208.9L502.7,207.8L502.2,206.6L501.8,205.5L501.3,204.3L500.8,203.2L500.4,202.0L499.9,200.9L499.5,199.8L499.0,198.7L498.5,197.6L498.0,196.5L497.4,195.4L496.9,194.3L496.3,193.2L495.7,192.1L495.2,191.0L494.6,190.0L494.1,188.9L493.5,187.7L492.9,186.5L492.4,185.2L491.8,183.9L491.3,182.6L490.7,181.3L490.1,180.0L489.6,178.8L489.1,177.6L488.5,176.2L487.9,174.8L487.3,173.2L486.6,171.4L485.9,169.5L485.2,167.7L484.5,166.0L483.9,164.5L483.3,163.1L482.7,161.7L482.1,160.4L481.5,159.0L480.9,157.6L480.2,156.2L479.6,154.7L478.9,153.3L478.2,151.8L477.5,150.3L476.8,148.7L476.0,147.1L475.3,145.6L474.5,144.0L473.7,142.5L472.9,140.9L472.1,139.4L471.3,137.8L470.5,136.3L469.7,134.7L468.8,133.2L468.0,131.6L467.2,130.1L466.5,128.5L465.9,126.9L465.3,125.3L464.8,123.7L464.3,122.2L463.8,120.8L463.3,119.6L462.8,118.5L462.3,117.6L461.7,116.6L461.2,115.5L460.6,114.4L460.0,113.2L459.4,112.0L458.8,110.8L458.2,109.5L457.5,108.2L456.8,106.7L456.2,105.3L455.5,103.9L454.8,102.5L454.2,101.1L453.6,99.8L453.0,98.5L452.4,97.2L451.8,96.0L451.2,94.8L450.6,93.7L450.1,92.6L449.5,91.6L449.0,90.7L448.5,90.1L448.0,89.6L447.6,89.2L447.2,88.8L447.0,88.3L447.0,87.7L447.2,87.1L447.5,86.4L447.7,85.7L447.8,84.8L447.7,83.6L447.6,82.2L447.3,80.8L447.1,79.5L447.0,78.6L447.0,78.6L446.5,78.2L445.8,77.6L444.9,76.9L444.0,76.1L443.1,75.3L442.1,74.4L441.1,73.4L440.0,72.3L439.0,71.3L438.0,70.3L437.1,69.4L436.3,68.7L435.6,67.9L434.8,67.2L434.0,66.5L433.1,65.9L432.2,65.3L431.3,64.7L430.4,64.1L429.5,63.6L428.6,63.1L427.7,62.6L426.8,62.1L425.9,61.7L425.0,61.2L424.0,60.7L422.8,60.2L421.7,59.6L420.8,59.2L420.1,58.9Z" fill="#d0d0d0"/>
<path d="M420.1,58.9L420.3,59.8L420.6,60.8L420.8,61.7L421.0,62.7L421.3,63.6L421.5,64.6L421.7,65.5L422.0,66.5L422.2,67.4L422.4,68.4L422.7,69.3L423.0,70.2L423.2,71.2L423.5,72.1L423.8,73.0L424.1,74.0L424.4,74.9L424.7,75.8L424.9,76.7L425.2,77.7L425.5,78.6L425.8,79.5L426.1,80.5L426.4,81.4L426.7,82.3L427.0,83.3L427.3,84.2L427.5,85.1L427.8,86.1L428.1,87.0L428.4,87.9L428.7,88.8L429.0,89.8L429.3,90.7L429.5,91.6L429.8,92.6L430.1,93.5L430.4,94.4L430.6,95.4L430.9,96.3L431.1,97.3L431.3,98.2L431.5,99.2L431.8,100.1L432.0,101.1L432.2,102.0L432.5,102.9L432.8,103.9L433.1,104.8L433.5,105.7L434.0,106.5L434.4,107.4L434.9,108.2L435.4,109.1L435.8,110.0L436.2,110.9L436.6,111.8L436.9,112.7L437.3,113.6L437.7,114.5L438.0,115.4L438.3,116.3L438.6,117.2L438.9,118.2L439.2,119.1L439.5,120.0L439.8,121.0L440.0,121.9L440.3,122.8L440.5,123.8L440.8,124.7L441.0,125.7L441.2,126.6L441.4,127.6L441.6,128.5L441.8,129.5L442.0,130.4L442.2,131.4L442.4,132.3L442.6,133.3L442.9,134.2L443.1,135.2L443.4,136.1L443.6,137.0L443.9,138.0L444.2,138.9L444.5,139.8L444.8,140.8L445.1,141.7L445.4,142.6L445.8,143.5L446.1,144.4L446.5,145.3L446.8,146.2L447.2,147.1L447.5,148.1L447.8,149.0L448.1,149.9L448.4,150.8L448.7,151.7L449.0,152.7L449.3,153.6L449.7,154.5L450.0,155.4L450.3,156.4L450.6,157.3L450.9,158.2L451.3,159.1L451.6,160.0L452.0,160.9L452.4,161.8L452.7,162.7L453.1,163.6L453.4,164.5L453.8,165.5L454.1,166.4L454.5,167.3L454.8,168.2L455.2,169.1L455.5,170.0L455.9,170.9L456.2,171.8L456.6,172.7L456.9,173.6L457.2,174.6L457.6,175.5L457.9,176.4L458.2,177.3L458.4,178.3L458.7,179.2L459.0,180.1L459.3,181.1L459.6,182.0L459.9,182.9L460.2,183.8L460.6,184.7L460.9,185.6L461.3,186.5L461.7,187.4L462.2,188.3L462.6,189.1L463.1,190.0L463.6,190.8L464.1,191.7L464.6,192.5L465.1,193.3L465.7,194.1L466.3,194.9L466.9,195.6L467.5,196.4L468.1,197.1L468.8,197.9L469.5,198.6L470.2,199.2L470.9,199.9L471.6,200.6L472.3,201.2L473.0,201.9L473.8,202.5L474.5,203.1L475.3,203.7L476.1,204.3L476.8,204.9L477.6,205.5L478.4,206.1L479.2,206.6L480.0,207.2L480.8,207.7L481.7,208.2L482.5,208.7L483.3,209.2L484.2,209.6L485.1,210.0L486.0,210.4L486.9,210.8L487.8,211.2L488.7,211.5L489.6,211.8L490.5,212.2L491.5,212.5L492.4,212.8L493.3,213.1L494.2,213.4L495.2,213.7L496.1,213.9L497.0,214.2L498.0,214.4L498.9,214.7L499.9,215.0L500.8,215.3L501.7,215.6L502.6,216.0L503.5,216.4L504.3,216.8L505.2,217.3L506.1,217.8L506.9,218.2L507.7,218.7L508.6,219.2M423.9,61.7L424.2,62.7L424.4,63.6L424.6,64.5L424.8,65.4L425.0,66.3L425.3,67.2L425.5,68.1L425.7,69.0L425.9,69.9L426.1,70.8L426.2,71.7L426.4,72.6L426.7,73.5L426.9,74.4L427.1,75.3L427.6,76.3L427.9,77.2L428.3,78.2L428.6,79.1L428.9,80.0L429.2,81.0L429.5,81.9L429.8,82.8L430.1,83.7L430.4,84.6L430.7,85.6L431.0,86.5L431.4,87.4L431.7,88.3L432.0,89.3L432.3,90.2L432.6,91.1L432.9,92.0L433.2,93.0L433.5,93.9L433.8,94.8L434.1,95.7L434.4,96.7L434.7,97.6L434.9,98.5L435.2,99.5L435.5,100.4L435.7,101.4L436.0,102.3L436.2,103.3L436.5,104.2L436.8,105.1L437.1,106.1L437.5,106.9L437.8,107.8L438.2,108.6L438.7,109.5L439.1,110.3L439.5,111.1L439.9,111.9L440.3,112.8L440.7,113.7L441.0,114.5L441.4,115.4L441.7,116.3L442.0,117.2L442.3,118.1L442.7,119.0L443.0,119.9L443.3,120.8L443.6,121.7L443.9,122.6L444.2,123.6L444.5,124.5L444.8,125.5L445.0,126.4L445.3,127.4L445.6,128.4L445.8,129.3L446.1,130.3L446.3,131.3L446.6,132.2L446.8,133.2L447.1,134.2L447.3,135.1L447.6,136.1L447.9,137.0L448.2,138.0L448.5,138.9L448.7,139.9L449.1,140.8L449.4,141.7L449.7,142.7L450.0,143.6L450.4,144.5L450.7,145.4L451.1,146.3L451.5,147.2L451.8,148.1L452.2,149.0L452.5,150.0L452.8,150.9L453.2,151.8L453.5,152.7L453.8,153.7L454.1,154.6L454.4,155.5L454.7,156.4L455.0,157.3L455.4,158.3L455.7,159.2L456.0,160.1L456.4,161.0L456.7,161.9L457.1,162.8L457.4,163.7L457.8,164.6L458.2,165.5L458.5,166.4L458.9,167.3L459.2,168.2L459.6,169.1L460.0,170.0L460.3,170.9L460.7,171.9L461.0,172.8L461.4,173.7L461.7,174.6L462.1,175.5L462.4,176.4L462.7,177.3L463.1,178.3L463.4,179.2L463.7,180.1L464.0,181.1L464.3,182.0L464.7,183.0L465.0,183.9L465.3,184.8L465.6,185.7L466.0,186.6L466.4,187.5L466.8,188.4L467.2,189.3L467.6,190.2L468.0,191.0L468.5,191.9L468.9,192.7L469.4,193.5L469.9,194.3L470.4,195.1L470.9,195.9L471.4,196.6L472.0,197.4L472.6,198.1L473.1,198.8L473.7,199.5L474.3,200.2L475.0,200.9L475.6,201.5L476.3,202.2L476.9,202.8L477.6,203.4L478.2,204.0L478.9,204.6L479.6,205.2L480.3,205.7L481.0,206.3L481.7,206.8L482.4,207.4L483.1,207.9L483.9,208.4L484.6,208.9L485.3,209.4L486.1,209.8L486.8,210.3L487.6,210.7L488.3,211.1L489.1,211.4L489.9,211.8L490.7,212.1L491.5,212.4L492.3,212.7L493.0,212.9L493.8,213.2L494.6,213.5L495.4,213.7L496.2,214.0L497.0,214.2L497.8,214.4L498.6,214.7L499.4,214.9L500.2,215.1L501.0,215.4L501.8,215.6L502.6,215.9L503.4,216.2L504.1,216.6L504.9,217.0L505.7,217.4L506.4,217.9L507.2,218.3L507.9,218.7L508.6,219.1M427.8,64.5L428.0,65.5L428.2,66.4L428.4,67.3L428.6,68.1L428.8,69.0L429.0,69.9L429.2,70.7L429.3,71.6L429.5,72.5L429.7,73.3L429.8,74.1L429.9,75.0L430.1,75.8L430.2,76.6L430.5,77.5L431.1,78.6L431.5,79.6L431.9,80.5L432.2,81.4L432.6,82.4L432.9,83.3L433.2,84.2L433.6,85.1L433.9,86.1L434.2,87.0L434.5,87.9L434.8,88.8L435.2,89.7L435.5,90.6L435.8,91.5L436.1,92.5L436.5,93.4L436.8,94.3L437.1,95.2L437.4,96.1L437.7,97.0L438.1,97.9L438.4,98.9L438.7,99.8L439.0,100.7L439.3,101.7L439.6,102.6L439.9,103.6L440.2,104.5L440.5,105.5L440.8,106.4L441.1,107.4L441.4,108.3L441.8,109.1L442.2,110.0L442.5,110.7L442.9,111.5L443.3,112.3L443.7,113.1L444.1,113.9L444.4,114.7L444.8,115.6L445.1,116.4L445.4,117.2L445.7,118.1L446.1,119.0L446.4,119.8L446.7,120.8L447.0,121.6L447.4,122.5L447.7,123.4L448.0,124.3L448.4,125.3L448.7,126.2L449.0,127.1L449.3,128.1L449.6,129.1L449.9,130.1L450.2,131.1L450.5,132.1L450.8,133.1L451.1,134.1L451.4,135.0L451.7,136.0L452.1,137.0L452.3,137.9L452.7,138.9L453.0,139.8L453.3,140.8L453.6,141.7L453.9,142.7L454.3,143.6L454.6,144.6L455.0,145.5L455.3,146.4L455.7,147.3L456.1,148.2L456.5,149.1L456.8,150.0L457.2,150.9L457.5,151.9L457.9,152.8L458.2,153.7L458.5,154.6L458.9,155.6L459.2,156.5L459.5,157.4L459.8,158.3L460.1,159.2L460.5,160.1L460.8,161.1L461.1,162.0L461.5,162.9L461.8,163.8L462.2,164.7L462.5,165.6L462.9,166.4L463.2,167.3L463.6,168.3L464.0,169.2L464.3,170.1L464.7,171.0L465.1,171.9L465.4,172.8L465.8,173.7L466.2,174.6L466.5,175.5L466.9,176.4L467.2,177.3L467.6,178.2L467.9,179.2L468.3,180.1L468.6,181.1L469.0,182.0L469.3,182.9L469.7,183.9L470.0,184.9L470.4,185.8L470.7,186.7L471.1,187.6L471.4,188.5L471.8,189.4L472.2,190.3L472.6,191.2L473.0,192.0L473.4,192.9L473.8,193.7L474.3,194.5L474.7,195.3L475.2,196.1L475.7,196.9L476.1,197.7L476.6,198.4L477.1,199.1L477.6,199.8L478.1,200.5L478.7,201.2L479.2,201.8L479.8,202.5L480.4,203.1L480.9,203.7L481.5,204.3L482.1,204.9L482.7,205.5L483.3,206.0L483.9,206.6L484.5,207.1L485.2,207.6L485.8,208.2L486.4,208.7L487.1,209.2L487.7,209.7L488.3,210.1L489.0,210.6L489.6,211.0L490.3,211.4L490.9,211.8L491.6,212.1L492.2,212.4L492.9,212.7L493.5,213.0L494.2,213.3L494.9,213.5L495.5,213.7L496.2,214.0L496.9,214.2L497.5,214.4L498.2,214.6L498.8,214.8L499.5,215.0L500.2,215.2L500.9,215.4L501.5,215.5L502.2,215.7L502.9,216.0L503.5,216.2L504.1,216.5L504.8,216.8L505.5,217.2L506.1,217.6L506.8,218.0L507.4,218.4L508.0,218.7L508.7,219.1M431.6,67.3L431.8,68.3L432.0,69.2L432.2,70.0L432.4,70.8L432.6,71.7L432.7,72.6L432.9,73.3L433.0,74.2L433.2,75.0L433.3,75.8L433.3,76.6L433.4,77.3L433.5,78.1L433.6,78.9L433.8,79.7L434.6,80.9L435.1,81.9L435.5,82.9L435.8,83.8L436.2,84.8L436.6,85.7L436.9,86.6L437.3,87.5L437.6,88.4L438.0,89.3L438.3,90.2L438.6,91.1L439.0,92.0L439.3,92.9L439.6,93.8L440.0,94.7L440.3,95.6L440.7,96.5L441.0,97.5L441.4,98.4L441.7,99.3L442.0,100.2L442.4,101.1L442.8,102.1L443.1,103.0L443.4,103.9L443.8,104.9L444.1,105.8L444.4,106.8L444.7,107.7L445.1,108.7L445.4,109.6L445.8,110.5L446.1,111.3L446.5,112.1L446.8,112.8L447.2,113.6L447.5,114.3L447.9,115.1L448.2,115.8L448.5,116.6L448.9,117.5L449.2,118.2L449.5,119.0L449.8,119.9L450.1,120.8L450.4,121.6L450.8,122.5L451.1,123.3L451.4,124.2L451.8,125.1L452.1,126.0L452.5,127.0L452.9,127.9L453.2,128.8L453.6,129.8L453.9,130.8L454.3,131.8L454.7,132.8L455.0,133.8L455.4,134.9L455.7,135.9L456.1,136.9L456.4,137.8L456.8,138.8L457.1,139.7L457.4,140.7L457.8,141.7L458.1,142.7L458.5,143.6L458.8,144.6L459.2,145.5L459.6,146.5L459.9,147.4L460.3,148.3L460.7,149.2L461.0,150.1L461.4,151.1L461.8,152.0L462.2,152.9L462.5,153.8L462.9,154.7L463.2,155.6L463.6,156.6L463.9,157.5L464.2,158.4L464.6,159.3L464.9,160.2L465.2,161.1L465.5,162.0L465.9,163.0L466.2,163.9L466.6,164.8L466.9,165.7L467.3,166.6L467.6,167.5L468.0,168.3L468.3,169.2L468.7,170.1L469.1,171.0L469.4,171.9L469.8,172.9L470.2,173.8L470.6,174.7L470.9,175.6L471.3,176.5L471.6,177.4L472.0,178.3L472.4,179.2L472.7,180.1L473.1,181.1L473.5,182.0L473.9,182.9L474.3,183.9L474.6,184.8L475.0,185.8L475.4,186.8L475.7,187.7L476.1,188.6L476.5,189.5L476.9,190.4L477.3,191.3L477.7,192.2L478.1,193.1L478.4,193.9L478.8,194.8L479.2,195.6L479.6,196.4L480.1,197.1L480.5,197.9L480.9,198.7L481.3,199.4L481.8,200.1L482.2,200.9L482.7,201.5L483.1,202.2L483.6,202.8L484.1,203.5L484.6,204.1L485.1,204.7L485.6,205.3L486.1,205.8L486.7,206.4L487.2,207.0L487.7,207.5L488.3,208.0L488.8,208.5L489.3,209.0L489.9,209.5L490.4,210.0L491.0,210.5L491.5,210.9L492.1,211.3L492.6,211.8L493.2,212.1L493.7,212.5L494.3,212.9L494.8,213.2L495.3,213.4L495.9,213.7L496.4,213.9L497.0,214.2L497.5,214.3L498.0,214.5L498.6,214.7L499.1,214.9L499.6,215.1L500.2,215.2L500.7,215.4L501.2,215.5L501.8,215.7L502.3,215.8L502.8,216.0L503.4,216.1L503.9,216.3L504.4,216.5L504.9,216.7L505.5,217.0L506.0,217.3L506.6,217.7L507.1,218.1L507.7,218.5L508.2,218.8L508.7,219.0M435.5,70.2L435.7,71.1L435.8,72.0L436.0,72.8L436.1,73.5L436.3,74.4L436.5,75.2L436.6,75.9L436.7,76.8L436.8,77.5L436.9,78.3L436.9,79.0L436.9,79.7L436.9,80.4L436.9,81.1L437.1,82.0L438.1,83.2L438.6,84.3L439.1,85.2L439.5,86.1L439.9,87.1L440.3,88.0L440.6,88.9L441.0,89.8L441.4,90.7L441.7,91.6L442.1,92.5L442.4,93.4L442.8,94.3L443.1,95.2L443.5,96.1L443.9,97.0L444.2,97.9L444.6,98.8L444.9,99.7L445.3,100.6L445.7,101.5L446.0,102.4L446.4,103.4L446.8,104.3L447.2,105.2L447.5,106.1L447.9,107.1L448.2,108.0L448.6,109.0L449.0,109.9L449.4,110.9L449.7,111.8L450.1,112.7L450.4,113.4L450.8,114.2L451.1,114.9L451.4,115.7L451.8,116.4L452.1,117.1L452.3,117.7L452.7,118.5L453.0,119.4L453.2,120.1L453.5,120.9L453.8,121.7L454.2,122.6L454.5,123.4L454.8,124.3L455.1,125.1L455.5,126.0L455.9,126.9L456.3,127.7L456.7,128.7L457.1,129.6L457.4,130.5L457.8,131.5L458.2,132.5L458.7,133.6L459.1,134.6L459.5,135.6L459.9,136.7L460.3,137.7L460.7,138.7L461.1,139.7L461.5,140.7L461.8,141.6L462.2,142.6L462.6,143.6L463.0,144.6L463.3,145.5L463.7,146.5L464.1,147.4L464.5,148.4L464.9,149.3L465.2,150.2L465.6,151.1L466.0,152.0L466.4,153.0L466.8,153.9L467.2,154.8L467.5,155.7L467.9,156.6L468.2,157.5L468.6,158.5L469.0,159.4L469.3,160.3L469.6,161.2L470.0,162.1L470.3,163.0L470.6,163.9L471.0,164.8L471.3,165.7L471.7,166.7L472.0,167.6L472.4,168.5L472.7,169.4L473.0,170.2L473.4,171.1L473.8,172.0L474.2,172.9L474.5,173.7L474.9,174.7L475.3,175.6L475.7,176.5L476.1,177.4L476.4,178.3L476.8,179.2L477.2,180.1L477.5,181.0L477.9,181.9L478.3,182.9L478.7,183.8L479.1,184.8L479.5,185.8L479.9,186.7L480.3,187.7L480.8,188.7L481.1,189.5L481.6,190.5L481.9,191.4L482.3,192.3L482.7,193.2L483.1,194.1L483.5,195.0L483.9,195.8L484.3,196.6L484.6,197.4L485.0,198.2L485.4,199.0L485.8,199.7L486.2,200.5L486.6,201.2L486.9,201.9L487.3,202.6L487.7,203.2L488.1,203.9L488.5,204.5L489.0,205.1L489.4,205.7L489.8,206.3L490.3,206.8L490.7,207.3L491.2,207.9L491.7,208.5L492.1,208.9L492.6,209.5L493.0,209.9L493.5,210.3L494.0,210.9L494.4,211.3L494.9,211.7L495.4,212.2L495.8,212.6L496.3,213.0L496.7,213.3L497.2,213.7L497.7,213.9L498.1,214.2L498.5,214.4L498.9,214.6L499.3,214.8L499.8,215.0L500.1,215.2L500.5,215.3L500.9,215.4L501.3,215.6L501.7,215.7L502.1,215.8L502.5,215.9L502.9,216.1L503.3,216.2L503.7,216.3L504.1,216.4L504.5,216.5L504.9,216.6L505.3,216.8L505.7,217.0L506.1,217.2L506.6,217.5L507.1,217.9L507.5,218.2L508.0,218.6L508.3,218.8L508.7,219.0M439.3,73.0L439.5,73.9L439.6,74.7L439.8,75.6L439.9,76.2L440.1,77.1L440.2,77.9L440.3,78.6L440.4,79.4L440.5,80.1L440.5,80.7L440.4,81.4L440.4,82.1L440.3,82.7L440.3,83.4L440.5,84.2L441.6,85.5L442.2,86.6L442.7,87.6L443.1,88.5L443.6,89.5L444.0,90.4L444.4,91.2L444.7,92.1L445.1,93.0L445.5,93.9L445.8,94.8L446.2,95.7L446.6,96.6L447.0,97.5L447.3,98.4L447.7,99.3L448.1,100.2L448.5,101.1L448.9,101.9L449.2,102.8L449.6,103.7L450.0,104.6L450.5,105.6L450.8,106.5L451.2,107.4L451.6,108.3L452.0,109.3L452.4,110.2L452.8,111.2L453.2,112.1L453.7,113.1L454.1,114.0L454.4,114.9L454.8,115.6L455.1,116.4L455.4,117.0L455.7,117.8L456.0,118.4L456.2,119.0L456.5,119.7L456.8,120.5L457.1,121.3L457.3,121.9L457.6,122.7L457.9,123.5L458.2,124.4L458.5,125.1L458.9,126.0L459.2,126.8L459.6,127.7L460.0,128.6L460.4,129.4L460.9,130.4L461.3,131.3L461.7,132.2L462.1,133.2L462.6,134.2L463.1,135.3L463.5,136.3L464.0,137.3L464.5,138.5L464.9,139.5L465.3,140.5L465.7,141.5L466.2,142.5L466.5,143.4L467.0,144.4L467.4,145.5L467.8,146.5L468.2,147.4L468.6,148.4L469.0,149.3L469.4,150.3L469.8,151.2L470.2,152.1L470.6,153.0L471.0,153.9L471.4,154.9L471.8,155.8L472.2,156.7L472.5,157.6L472.9,158.5L473.3,159.4L473.7,160.4L474.0,161.3L474.4,162.2L474.7,163.1L475.0,164.0L475.4,164.9L475.7,165.8L476.1,166.7L476.4,167.6L476.7,168.5L477.1,169.4L477.4,170.3L477.8,171.2L478.1,172.0L478.5,172.9L478.9,173.8L479.2,174.7L479.6,175.6L480.1,176.6L480.4,177.5L480.8,178.4L481.2,179.3L481.6,180.2L481.9,181.1L482.3,182.0L482.7,182.9L483.1,183.8L483.5,184.8L483.9,185.7L484.4,186.7L484.8,187.7L485.2,188.5L485.7,189.5L486.1,190.5L486.5,191.4L487.0,192.4L487.4,193.3L487.8,194.2L488.2,195.1L488.6,196.0L488.9,196.9L489.3,197.6L489.7,198.5L490.0,199.3L490.4,200.0L490.7,200.8L491.1,201.5L491.4,202.3L491.8,203.0L492.1,203.6L492.5,204.4L492.8,205.0L493.1,205.6L493.5,206.1L493.8,206.7L494.2,207.3L494.6,207.9L495.0,208.4L495.3,208.8L495.7,209.4L496.1,209.9L496.5,210.4L496.9,210.9L497.3,211.3L497.6,211.7L498.1,212.2L498.4,212.6L498.8,213.0L499.2,213.4L499.6,213.8L500.0,214.2L500.3,214.4L500.7,214.8L501.0,215.0L501.3,215.3L501.6,215.4L501.9,215.6L502.2,215.7L502.5,215.9L502.8,216.0L503.0,216.1L503.3,216.2L503.6,216.3L503.8,216.4L504.1,216.4L504.4,216.5L504.6,216.6L504.9,216.7L505.2,216.7L505.4,216.8L505.7,216.9L506.0,217.0L506.2,217.1L506.5,217.2L506.8,217.4L507.1,217.7L507.5,218.0L507.9,218.3L508.3,218.6L508.5,218.8L508.7,218.9M443.2,75.8L443.3,76.7L443.5,77.5L443.6,78.3L443.7,78.9L443.8,79.7L443.9,80.5L444.0,81.2L444.1,82.0L444.1,82.6L444.1,83.2L444.0,83.8L443.8,84.4L443.7,85.0L443.6,85.6L443.8,86.4L445.1,87.9L445.8,89.0L446.3,90.0L446.7,90.8L447.2,91.8L447.7,92.7L448.1,93.6L448.5,94.5L448.9,95.4L449.2,96.2L449.6,97.1L450.0,98.0L450.4,98.9L450.8,99.8L451.2,100.7L451.6,101.6L452.0,102.4L452.4,103.3L452.8,104.2L453.2,105.1L453.6,106.0L454.0,106.8L454.5,107.9L454.9,108.7L455.3,109.6L455.7,110.5L456.2,111.5L456.6,112.4L457.0,113.4L457.5,114.3L458.0,115.3L458.4,116.2L458.8,117.0L459.1,117.8L459.4,118.5L459.7,119.1L460.0,119.8L460.2,120.4L460.4,121.0L460.6,121.6L460.9,122.4L461.1,123.2L461.4,123.8L461.6,124.5L461.9,125.3L462.2,126.2L462.5,126.9L462.9,127.8L463.3,128.5L463.7,129.4L464.1,130.3L464.5,131.1L465.0,132.1L465.5,133.0L465.9,133.9L466.4,134.9L466.9,135.9L467.4,137.1L467.9,138.1L468.4,139.1L469.0,140.3L469.5,141.3L469.9,142.3L470.4,143.4L470.9,144.4L471.3,145.3L471.7,146.3L472.2,147.3L472.6,148.4L473.0,149.3L473.5,150.3L473.9,151.2L474.4,152.2L474.7,153.1L475.1,154.0L475.5,154.9L475.9,155.8L476.4,156.8L476.8,157.7L477.2,158.6L477.5,159.5L477.9,160.3L478.3,161.2L478.7,162.3L479.1,163.2L479.4,164.1L479.8,165.0L480.1,165.9L480.5,166.8L480.8,167.7L481.1,168.6L481.5,169.5L481.8,170.4L482.2,171.3L482.5,172.2L482.9,173.1L483.2,173.9L483.6,174.8L484.0,175.7L484.3,176.5L484.7,177.4L485.2,178.5L485.6,179.4L485.9,180.3L486.3,181.2L486.7,182.0L487.1,182.9L487.4,183.8L487.8,184.7L488.2,185.6L488.7,186.6L489.1,187.5L489.6,188.5L490.1,189.5L490.5,190.4L491.0,191.4L491.5,192.4L491.9,193.3L492.4,194.3L492.8,195.2L493.2,196.1L493.6,197.0L494.0,197.9L494.4,198.8L494.7,199.5L495.1,200.4L495.4,201.1L495.7,201.9L496.0,202.6L496.3,203.3L496.7,204.1L497.0,204.8L497.2,205.4L497.6,206.1L497.9,206.7L498.1,207.2L498.4,207.8L498.7,208.3L499.0,208.9L499.3,209.4L499.7,210.0L499.9,210.4L500.3,210.9L500.6,211.4L500.9,211.8L501.2,212.3L501.5,212.7L501.8,213.1L502.2,213.6L502.5,213.9L502.7,214.3L503.0,214.6L503.3,215.0L503.6,215.4L503.8,215.6L504.2,215.9L504.4,216.1L504.6,216.3L504.7,216.4L504.9,216.6L505.1,216.6L505.3,216.8L505.4,216.8L505.5,216.9L505.7,216.9L505.8,217.0L505.9,217.0L506.1,217.1L506.2,217.1L506.3,217.1L506.5,217.2L506.6,217.2L506.7,217.2L506.9,217.3L507.0,217.3L507.1,217.4L507.3,217.4L507.5,217.6L507.7,217.8L508.0,218.2L508.2,218.4L508.5,218.7L508.6,218.8L508.8,218.9M447.0,78.6L447.1,79.6L447.3,80.3L447.4,81.1L447.5,81.7L447.6,82.4L447.7,83.2L447.7,83.8L447.8,84.5L447.8,85.1L447.7,85.7L447.5,86.3L447.3,86.8L447.1,87.3L447.0,87.9L447.1,88.6L448.6,90.2L449.4,91.3L449.9,92.3L450.4,93.2L450.9,94.2L451.3,95.1L451.8,95.9L452.2,96.8L452.6,97.7L453.0,98.6L453.4,99.4L453.8,100.3L454.2,101.2L454.6,102.1L455.0,103.0L455.4,103.8L455.9,104.7L456.3,105.6L456.7,106.4L457.1,107.3L457.6,108.2L458.0,109.0L458.5,110.1L458.9,111.0L459.4,111.8L459.8,112.7L460.3,113.7L460.7,114.6L461.3,115.6L461.7,116.5L462.2,117.5L462.7,118.4L463.1,119.2L463.4,119.9L463.7,120.7L463.9,121.2L464.2,121.9L464.4,122.5L464.6,123.0L464.8,123.6L465.0,124.3L465.2,125.1L465.4,125.6L465.7,126.3L465.9,127.1L466.3,128.0L466.6,128.7L467.0,129.6L467.3,130.3L467.8,131.1L468.2,132.0L468.7,132.8L469.2,133.9L469.7,134.7L470.1,135.6L470.7,136.6L471.2,137.6L471.8,138.8L472.4,139.8L472.9,140.9L473.5,142.1L474.1,143.1L474.6,144.2L475.1,145.2L475.6,146.2L476.0,147.1L476.5,148.2L477.0,149.2L477.5,150.3L477.9,151.1L478.4,152.2L478.8,153.1L479.3,154.1L479.7,155.0L480.1,155.9L480.5,156.8L480.9,157.6L481.4,158.7L481.8,159.6L482.2,160.5L482.5,161.4L482.9,162.2L483.3,163.1L483.8,164.2L484.1,165.1L484.5,166.0L484.9,166.9L485.2,167.8L485.6,168.7L485.9,169.6L486.2,170.5L486.6,171.4L486.9,172.3L487.3,173.2L487.6,174.1L488.0,175.0L488.3,175.7L488.7,176.6L489.0,177.5L489.4,178.4L489.8,179.3L490.3,180.3L490.7,181.2L491.1,182.1L491.4,183.0L491.8,183.9L492.2,184.8L492.6,185.7L493.0,186.6L493.4,187.4L493.9,188.5L494.3,189.4L494.8,190.4L495.4,191.4L495.8,192.3L496.4,193.3L496.9,194.3L497.3,195.2L497.8,196.2L498.3,197.1L498.7,198.0L499.1,198.9L499.5,199.8L499.8,200.6L500.1,201.4L500.5,202.3L500.8,203.0L501.1,203.7L501.3,204.4L501.6,205.1L501.9,205.9L502.2,206.6L502.4,207.1L502.7,207.8L502.9,208.4L503.1,208.9L503.4,209.4L503.6,210.0L503.8,210.5L504.1,211.0L504.4,211.5L504.5,211.9L504.8,212.4L505.1,212.9L505.3,213.2L505.6,213.8L505.8,214.1L506.0,214.4L506.3,214.9L506.5,215.2L506.7,215.6L506.9,215.9L507.1,216.2L507.3,216.5L507.4,216.7L507.6,217.0L507.7,217.2L507.8,217.4L507.8,217.4L507.9,217.5L507.9,217.5L508.0,217.7L508.0,217.7L508.0,217.7L508.0,217.7L508.0,217.7L508.0,217.7L508.0,217.7L508.0,217.7L508.0,217.7L508.0,217.7L508.0,217.7L508.0,217.7L508.0,217.7L508.0,217.7L508.0,217.7L508.0,217.7L508.2,217.8L508.3,218.0L508.5,218.3L508.6,218.5L508.8,218.8L508.8,218.8L508.8,218.8M420.1,58.9L447.0,78.6M420.8,61.7L447.4,81.1M421.7,65.5L447.7,83.8M422.4,68.4L447.7,85.7M423.5,72.1L447.0,87.9M424.4,74.9L449.4,91.3M425.5,78.6L451.3,95.1M426.4,81.4L452.6,97.7M427.5,85.1L454.2,101.2M428.4,87.9L455.4,103.8M429.5,91.6L457.1,107.3M430.4,94.4L458.5,110.1M431.3,98.2L460.3,113.7M432.0,101.1L461.7,116.5M433.1,104.8L463.4,119.9M434.4,107.4L464.2,121.9M436.2,110.9L465.0,124.3M437.3,113.6L465.7,126.3M438.6,117.2L467.0,129.6M439.5,120.0L468.2,132.0M440.5,123.8L470.1,135.6M441.2,126.6L471.8,138.8M442.0,130.4L474.1,143.1M442.6,133.3L475.6,146.2M443.6,137.0L477.5,150.3M444.5,139.8L478.8,153.1M445.8,143.5L480.5,156.8M446.8,146.2L481.8,159.6M448.1,149.9L483.3,163.1M449.0,152.7L484.5,166.0M450.3,156.4L485.9,169.6M451.3,159.1L486.9,172.3M452.7,162.7L488.3,175.7M453.8,165.5L489.4,178.4M455.2,169.1L491.1,182.1M456.2,171.8L492.2,184.8M457.6,175.5L493.9,188.5M458.4,178.3L495.4,191.4M459.6,182.0L497.3,195.2M460.6,184.7L498.7,198.0M462.2,188.3L500.1,201.4M463.6,190.8L501.1,203.7M465.7,194.1L502.2,206.6M467.5,196.4L502.9,208.4M470.2,199.2L503.8,210.5M472.3,201.2L504.5,211.9M475.3,203.7L505.6,213.8M477.6,205.5L506.3,214.9M480.8,207.7L507.1,216.2M483.3,209.2L507.6,217.0M486.9,210.8L507.9,217.5M489.6,211.8L508.0,217.7M493.3,213.1L508.0,217.7M496.1,213.9L508.0,217.7M499.9,215.0L508.0,217.7M502.6,216.0L508.0,217.7M506.1,217.8L508.6,218.5M508.6,219.2L508.8,218.8M420.1,58.9L420.8,59.2L421.7,59.6L422.8,60.2L424.0,60.7L425.0,61.2L425.9,61.7L426.8,62.1L427.7,62.6L428.6,63.1L429.5,63.6L430.4,64.1L431.3,64.7L432.2,65.3L433.1,65.9L434.0,66.5L434.8,67.2L435.6,67.9L436.3,68.7L437.1,69.4L438.0,70.3L439.0,71.3L440.0,72.3L441.1,73.4L442.1,74.4L443.1,75.3L444.0,76.1L444.9,76.9L445.8,77.6L446.5,78.2L447.0,78.6" stroke="#2a2a2a" stroke-width="0.5" fill="none"/>
<path d="M441.0,120.5L447.0,118.6L453.0,117.2L458.5,116.2L461.5,123.0L462.5,131.0L461.5,138.5L455.0,139.8L449.0,141.0L444.2,142.3Z" fill="#e2e2e2"/>
<clipPath id="cf"><path d="M441.0,120.5L447.0,118.6L453.0,117.2L458.5,116.2L461.5,123.0L462.5,131.0L461.5,138.5L455.0,139.8L449.0,141.0L444.2,142.3Z"/></clipPath>
<path d="M441.5,115V144M443.5,115V144M445.5,115V144M447.5,115V144M449.5,115V144M451.5,115V144M453.5,115V144M455.5,115V144M457.5,115V144M459.5,115V144M461.5,115V144" stroke="#333" stroke-width="0.5" clip-path="url(#cf)"/>
<path d="M441.0,120.5L447,118.6L453,117.2L458.5,116.2" stroke="#444" stroke-width="0.8" fill="none"/>
<path d="M457.9,179.2L458.4,180.7L459.0,182.9L459.8,185.5L460.7,188.0L461.6,190.3L462.6,192.3L463.6,194.2L464.7,196.0L465.8,197.8L467.1,199.5L468.4,201.1L469.8,202.6L471.3,204.1L472.9,205.5L474.5,206.9L476.2,208.3L478.1,209.7L479.9,211.0L481.8,212.2L483.7,213.3L485.5,214.2L487.4,215.0L489.2,215.7L491.1,216.4L492.9,217.0L494.8,217.6L496.7,218.1L498.6,218.7L500.5,219.2L502.2,219.8L503.8,220.5L505.5,221.4L507.0,222.2L508.2,222.9L509.1,223.4" stroke="#3a3a3a" stroke-width="6" stroke-opacity="0.35" fill="none"/>
<path d="M447.0,78.6L447.1,79.5L447.3,80.8L447.6,82.2L447.7,83.6L447.8,84.8L447.7,85.7L447.5,86.4L447.2,87.1L447.0,87.7L447.0,88.3L447.2,88.8L447.6,89.2L448.0,89.6L448.5,90.1L449.0,90.7L449.5,91.6L450.1,92.6L450.6,93.7L451.2,94.8L451.8,96.0L452.4,97.2L453.0,98.5L453.6,99.8L454.2,101.1L454.8,102.5L455.5,103.9L456.2,105.3L456.8,106.7L457.5,108.2L458.2,109.5L458.8,110.8L459.4,112.0L460.0,113.2L460.6,114.4L461.2,115.5L461.7,116.6L462.3,117.6L462.8,118.5L463.3,119.6L463.8,120.8L464.3,122.2L464.8,123.7L465.3,125.3L465.9,126.9L466.5,128.5L467.2,130.1L468.0,131.6L468.8,133.2L469.7,134.7L470.5,136.3L471.3,137.8L472.1,139.4L472.9,140.9L473.7,142.5L474.5,144.0L475.3,145.6L476.0,147.1L476.8,148.7L477.5,150.3L478.2,151.8L478.9,153.3L479.6,154.7L480.2,156.2L480.9,157.6L481.5,159.0L482.1,160.4L482.7,161.7L483.3,163.1L483.9,164.5L484.5,166.0L485.2,167.7L485.9,169.5L486.6,171.4L487.3,173.2L487.9,174.8L488.5,176.2L489.1,177.6L489.6,178.8L490.1,180.0L490.7,181.3L491.3,182.6L491.8,183.9L492.4,185.2L492.9,186.5L493.5,187.7L494.1,188.9L494.6,190.0L495.2,191.0L495.7,192.1L496.3,193.2L496.9,194.3L497.4,195.4L498.0,196.5L498.5,197.6L499.0,198.7L499.5,199.8L499.9,200.9L500.4,202.0L500.8,203.2L501.3,204.3L501.8,205.5L502.2,206.6L502.7,207.8L503.1,208.9L503.6,210.0L504.1,211.0L504.5,211.9L505.0,212.8L505.5,213.6L506.0,214.5L506.5,215.4L507.1,216.2L507.6,217.0L508.2,217.9L508.8,218.8L509.4,219.8L510.0,220.8L510.7,221.9L511.3,223.0L512.0,224.0L512.6,225.0L513.3,226.0L513.9,227.0L514.6,228.0L515.3,229.0L516.0,230.1L516.8,231.2L517.5,232.4L518.3,233.6L519.0,234.7L519.7,235.8L520.5,236.9L521.2,237.9L522.0,239.0L522.7,240.1L523.5,241.2L524.2,242.3L525.0,243.5L525.8,244.6L526.5,245.7L527.2,246.8L528.0,247.9L528.7,248.9L529.4,250.0L530.1,251.1L530.8,252.2L531.5,253.2L532.1,254.3L532.8,255.4L533.5,256.5L534.2,257.9L534.8,259.5L535.4,261.0L536.2,262.1L537.2,262.6L538.4,262.2L539.9,261.1L541.5,259.6L543.2,258.1L545.0,256.8L546.9,255.8L549.0,254.8L551.2,253.8L553.5,252.9L555.8,252.0L558.1,251.1L560.5,250.2L562.9,249.4L565.4,248.5L568.0,247.6L570.7,246.6L573.4,245.7L576.2,244.7L579.0,243.7L581.7,242.8L584.4,242.0L587.1,241.2L589.8,240.4L592.4,239.7L595.0,239.0L597.6,238.4L600.2,237.8L602.8,237.3L605.3,236.8L607.5,236.4L609.5,236.1L611.2,235.8L612.8,235.7L614.4,235.5L616.0,235.4L617.8,235.3L619.7,235.3L621.5,235.4L623.1,235.4L624.2,235.4L624.2,235.3L623.1,235.0L621.7,234.7L619.9,234.2L618.0,233.8L616.0,233.3L614.0,232.8L611.9,232.4L609.7,231.9L607.3,231.4L604.8,230.8L602.0,230.1L598.9,229.4L595.7,228.7L592.6,227.9L589.9,227.2L587.6,226.5L585.4,225.9L583.5,225.3L581.7,224.7L580.0,224.1L578.5,223.6L577.1,223.1L575.9,222.6L574.6,222.1L573.1,221.5L571.5,220.8L569.7,219.9L567.9,219.0L566.1,218.1L564.3,217.1L562.5,216.1L560.7,215.0L559.0,213.9L557.2,212.7L555.4,211.5L553.6,210.3L551.9,209.0L550.1,207.7L548.4,206.3L546.6,204.9L544.8,203.4L543.0,201.9L541.2,200.3L539.4,198.7L537.7,197.1L536.0,195.4L534.2,193.6L532.5,191.7L530.9,189.9L529.4,188.3L528.1,186.8L527.0,185.3L525.9,184.0L525.0,182.7L524.0,181.5L523.1,180.5L522.3,179.6L521.6,178.7L520.8,177.8L519.8,176.6L518.6,175.1L517.2,173.3L515.8,171.4L514.4,169.5L513.2,168.0L512.3,166.8L511.5,165.8L510.8,164.9L510.1,164.0L509.3,163.0L508.5,161.9L507.7,160.8L506.8,159.6L506.0,158.3L505.1,157.0L504.2,155.6L503.2,154.0L502.2,152.4L501.2,150.8L500.3,149.2L499.4,147.7L498.6,146.1L497.8,144.6L497.1,143.0L496.3,141.5L495.5,140.0L494.8,138.4L494.0,136.9L493.3,135.4L492.6,134.0L492.0,132.6L491.4,131.3L490.8,130.0L490.2,128.8L489.4,127.5L488.5,126.3L487.5,125.1L486.4,123.9L485.4,122.7L484.3,121.5L483.3,120.2L482.2,118.9L481.2,117.6L480.2,116.3L479.2,115.0L478.3,113.7L477.4,112.3L476.6,111.0L475.7,109.6L474.8,108.3L473.9,107.0L473.0,105.6L472.0,104.3L471.0,102.9L470.0,101.5L468.9,100.0L467.8,98.3L466.6,96.7L465.4,95.1L464.2,93.5L463.0,92.0L461.9,90.5L460.7,89.1L459.5,87.8L458.4,86.5L457.3,85.3L456.2,84.1L455.1,83.0L454.1,82.0L453.2,81.2L452.3,80.5L451.6,79.9L450.8,79.5L450.1,79.1L449.5,78.8L448.9,78.6L448.3,78.6L447.8,78.6L447.3,78.6L447.0,78.6Z" fill="url(#gsh)"/>
<path d="M447.0,78.6L447.3,80.5L447.6,82.3L447.8,84.2L447.6,86.1L447.0,87.8L447.8,89.4L449.1,90.8L450.0,92.5L450.9,94.1L451.7,95.8L452.5,97.5L453.3,99.2L454.1,101.0L454.9,102.7L455.7,104.4L456.5,106.1L457.3,107.7L458.2,109.4L459.0,111.1L459.9,112.8L460.7,114.5L461.5,116.2L462.4,117.8L463.3,119.5L464.0,121.3L464.6,123.1L465.2,124.8L465.8,126.6L466.5,128.4L467.2,130.1L468.1,131.8L469.0,133.4L469.9,135.1L470.7,136.8L471.6,138.4L472.5,140.1L473.4,141.8L474.2,143.5L475.1,145.1L475.9,146.8L476.7,148.5L477.5,150.3L478.3,152.0L479.1,153.7L479.9,155.4L480.6,157.1L481.4,158.8L482.2,160.5L482.9,162.3L483.7,164.0L484.4,165.7L485.1,167.5L485.8,169.2L486.4,171.0L487.1,172.8L487.8,174.5L488.5,176.3L489.2,178.0L490.0,179.7L490.8,181.4L491.5,183.2L492.2,184.9L493.0,186.6L493.8,188.3L494.7,190.0L495.5,191.7L496.4,193.4L497.2,195.0L498.1,196.7L498.9,198.4L499.6,200.2L500.3,201.9L501.0,203.7L501.7,205.4L502.4,207.2L503.1,208.9L503.9,210.6L504.8,212.3L505.7,213.9L506.7,215.6L507.7,217.1L508.7,218.7L509.7,220.3L510.7,221.9L511.7,223.5L512.7,225.1L513.8,226.7L514.8,228.2L515.8,229.8L516.9,231.4L517.9,233.0L518.9,234.6L520.0,236.1L521.0,237.7L522.1,239.2L523.2,240.8L524.2,242.3L525.3,243.9L526.3,245.5L527.4,247.0L528.4,248.6L529.5,250.2L530.5,251.7L531.5,253.3L532.5,254.9L533.5,256.5L534.3,258.2L535.0,260.0L535.9,261.6L537.4,262.5L539.0,261.7L540.5,260.5L541.9,259.3L543.3,258.0L544.8,256.9L546.5,256.0L548.2,255.2L549.9,254.4L551.6,253.7L553.4,253.0L555.1,252.3L556.9,251.6L558.6,250.9L560.4,250.3L562.2,249.6L564.0,249.0L565.7,248.4L567.5,247.8L569.3,247.1L571.1,246.5L572.8,245.9L574.6,245.2L576.4,244.6L578.2,244.0L579.9,243.4L581.7,242.8L583.5,242.2L585.3,241.7L587.1,241.1L589.0,240.6L590.8,240.1L592.6,239.6L594.4,239.2L596.2,238.7L598.1,238.3L599.9,237.9L601.8,237.5L603.6,237.1L605.5,236.8L607.3,236.4L609.2,236.1L611.0,235.9L612.9,235.6L614.8,235.5L616.7,235.4L618.5,235.3L620.4,235.3L622.3,235.4L624.2,235.4M503.2,205.3L503.9,207.0L504.7,208.7L505.6,210.3L506.5,212.0L507.5,213.5L508.5,215.1L509.5,216.7L510.5,218.3L511.5,219.8L512.5,221.4L513.5,223.0L514.5,224.6L515.5,226.1L516.6,227.7L517.6,229.3L518.6,230.8L519.6,232.3L520.7,233.9L521.7,235.4L522.8,236.9L523.9,238.3L524.9,239.8L526.0,241.3L527.1,242.7L528.1,244.2L529.2,245.6L530.3,247.1L531.3,248.5L532.4,249.9L533.4,251.4L534.5,252.8L535.4,254.3L536.2,255.8L537.1,257.3L538.6,258.1L540.2,257.6L541.6,256.7L543.0,255.7L544.4,254.8L545.9,254.0L547.6,253.3L549.2,252.7L550.9,252.1L552.5,251.5M466.2,123.2L466.9,124.9L467.6,126.6L468.4,128.3L469.2,129.9L470.1,131.6L471.0,133.2L471.8,134.8L472.7,136.5L473.5,138.1L474.4,139.7L475.3,141.4L476.1,143.0L476.9,144.7L477.7,146.3L478.5,148.0L479.3,149.7L480.1,151.3L480.9,153.0L481.6,154.7L482.4,156.4L483.2,158.1L483.9,159.8L484.7,161.5L485.4,163.2L486.1,164.9L486.8,166.6L487.5,168.3L488.2,170.0L489.0,171.7L489.7,173.4L490.4,175.1L491.2,176.8L492.0,178.5L492.7,180.1L493.5,181.8L494.3,183.5L495.1,185.2L495.9,186.8L496.7,188.5L497.6,190.1L498.4,191.7L499.3,193.4L500.1,195.0L500.9,196.7L501.7,198.4L502.4,200.1L503.2,201.7L504.0,203.4L504.7,205.1L505.6,206.7L506.4,208.4L507.4,210.0L508.3,211.5L509.3,213.1L510.3,214.6L511.3,216.2L512.3,217.8L513.3,219.3L514.2,220.9L515.3,222.5L516.3,224.0L517.3,225.6L518.3,227.1L519.3,228.6L520.3,230.1L521.3,231.6L522.4,233.1L523.5,234.5L524.5,235.9L525.6,237.3L526.7,238.7L527.8,240.0L528.9,241.4L530.0,242.7L531.1,244.0L532.2,245.3L533.3,246.6L534.3,247.9L535.4,249.2L536.4,250.5L537.3,251.9L538.4,253.1L539.8,253.9L541.3,253.6L542.8,253.0L544.1,252.3L545.5,251.7L547.0,251.1L548.6,250.7L550.2,250.2L551.8,249.8L553.4,249.4L555.1,249.0L556.7,248.6L558.4,248.2L560.1,247.7L561.8,247.3L563.5,246.9L565.2,246.4L566.9,246.0L568.6,245.5L570.4,245.0L572.1,244.5L573.8,244.0L575.6,243.4L577.3,242.9L579.1,242.4M504.7,201.5L505.5,203.2L506.4,204.8L507.3,206.4L508.2,208.0L509.1,209.5L510.1,211.1L511.1,212.6L512.1,214.2L513.0,215.7L514.0,217.3L515.0,218.8L516.0,220.4L517.0,221.9L518.0,223.4L519.0,225.0L520.0,226.5L521.0,227.9L522.0,229.4L523.1,230.8L524.2,232.2L525.2,233.5L526.3,234.8L527.4,236.1L528.5,237.4L529.6,238.6L530.7,239.9L531.9,241.1L533.0,242.3L534.1,243.4L535.2,244.6L536.4,245.7L537.4,246.9L538.4,248.0L539.5,249.1L540.9,249.9L542.4,249.7L543.8,249.4L545.2,249.1L546.6,248.7L548.1,248.4L549.6,248.1L551.1,247.8L552.7,247.6L554.3,247.3M451.2,90.0L452.1,91.2L452.8,92.5L453.5,93.9L454.2,95.2L454.9,96.6L455.6,98.1L456.3,99.5L457.1,101.0L457.8,102.5L458.6,104.0L459.3,105.5L460.1,107.1L460.9,108.6L461.7,110.2L462.4,111.8L463.3,113.4L464.1,115.1L464.9,116.7L465.7,118.3L466.4,119.9L467.2,121.6L468.0,123.2L468.7,124.8L469.5,126.5L470.4,128.1L471.2,129.7L472.0,131.3L472.9,132.9L473.7,134.5L474.6,136.1L475.4,137.7L476.3,139.3L477.1,140.9L478.0,142.5L478.8,144.1L479.6,145.7L480.4,147.3L481.2,149.0L481.9,150.6L482.7,152.3L483.4,153.9L484.2,155.6L484.9,157.2L485.7,158.9L486.4,160.6L487.2,162.2L487.9,163.9L488.6,165.5L489.4,167.2L490.1,168.9L490.8,170.5L491.6,172.2L492.4,173.8L493.1,175.5L493.9,177.1L494.7,178.8L495.5,180.4L496.3,182.0L497.1,183.6L497.9,185.2L498.8,186.8L499.6,188.4L500.5,190.0L501.3,191.6L502.2,193.2L503.0,194.9L503.8,196.5L504.6,198.1L505.5,199.7L506.3,201.3L507.2,202.9L508.0,204.5L509.0,206.0L509.9,207.6L510.9,209.1L511.9,210.6L512.8,212.1L513.8,213.7L514.8,215.2L515.7,216.7L516.7,218.3L517.7,219.8L518.7,221.3L519.7,222.8L520.7,224.3L521.7,225.7L522.7,227.1L523.8,228.5L524.8,229.8L525.9,231.1L527.0,232.4L528.1,233.6L529.2,234.8L530.3,236.0L531.5,237.1L532.6,238.2L533.8,239.3L534.9,240.3L536.1,241.4L537.3,242.4L538.4,243.4L539.5,244.4L540.6,245.3L542.0,246.0L543.5,246.1L544.9,246.0L546.2,245.9L547.6,245.8L549.1,245.7L550.6,245.6L552.1,245.5L553.6,245.4L555.2,245.3L556.7,245.1L558.3,245.0L559.9,244.8L561.5,244.6L563.1,244.4L564.7,244.1L566.4,243.8L568.0,243.5L569.7,243.2L571.4,242.8L573.1,242.4L574.8,242.0L576.5,241.6L578.2,241.2L579.9,240.8L581.7,240.4L583.4,240.1L585.1,239.7L586.9,239.4L588.6,239.1L590.4,238.8L592.1,238.5L593.8,238.2L595.4,237.9L597.1,237.7M506.2,197.8L507.0,199.4L507.9,201.0L508.8,202.5L509.7,204.1L510.7,205.6L511.6,207.1L512.6,208.6L513.6,210.1L514.5,211.6L515.5,213.1L516.5,214.7L517.4,216.2L518.4,217.7L519.4,219.2L520.4,220.7L521.4,222.1L522.4,223.6L523.4,224.9L524.4,226.2L525.5,227.5L526.6,228.8L527.7,230.0L528.8,231.1L529.9,232.2L531.1,233.3L532.2,234.4L533.4,235.4L534.6,236.4L535.7,237.4L536.9,238.3L538.1,239.2L539.3,240.1L540.5,240.9L541.7,241.7L543.1,242.3L544.5,242.6L545.8,242.8L547.2,242.9L548.6,243.0L550.0,243.1L551.5,243.1L553.0,243.2L554.5,243.3L556.0,243.3M468.2,119.9L469.0,121.5L469.8,123.1L470.6,124.7L471.4,126.3L472.3,127.8L473.1,129.4L473.9,131.0L474.8,132.5L475.6,134.1L476.5,135.6L477.3,137.2L478.2,138.7L479.1,140.3L479.9,141.8L480.7,143.4L481.5,145.0L482.3,146.6L483.0,148.2L483.7,149.9L484.5,151.5L485.2,153.1L486.0,154.7L486.7,156.3L487.5,158.0L488.3,159.6L489.0,161.2L489.7,162.8L490.5,164.4L491.2,166.1L492.0,167.7L492.7,169.3L493.5,170.9L494.3,172.5L495.1,174.1L495.9,175.7L496.7,177.3L497.5,178.9L498.3,180.4L499.1,182.0L500.0,183.6L500.8,185.2L501.7,186.7L502.5,188.3L503.4,189.8L504.3,191.4L505.1,192.9L506.0,194.4L506.9,196.0L507.8,197.5L508.7,199.1L509.6,200.6L510.5,202.1L511.4,203.6L512.4,205.1L513.4,206.6L514.3,208.1L515.3,209.6L516.2,211.1L517.2,212.6L518.1,214.1L519.1,215.6L520.1,217.1L521.0,218.6L522.0,220.0L523.1,221.4L524.1,222.7L525.1,224.0L526.2,225.2L527.3,226.4L528.4,227.6L529.5,228.7L530.6,229.7L531.8,230.8L532.9,231.7L534.1,232.7L535.3,233.6L536.5,234.5L537.7,235.3L539.0,236.1L540.2,236.8L541.5,237.6L542.7,238.3L544.1,238.9L545.4,239.3L546.8,239.7L548.1,240.0L549.5,240.3L550.9,240.5L552.4,240.8L553.8,241.0L555.3,241.2L556.7,241.3L558.2,241.4L559.8,241.5L561.3,241.5L562.8,241.5L564.4,241.4L565.9,241.3L567.5,241.2L569.1,241.1L570.8,240.8L572.4,240.6L574.1,240.3L575.8,240.0L577.4,239.7L579.1,239.4L580.8,239.2M507.6,194.2L508.5,195.7L509.4,197.2L510.3,198.7L511.2,200.2L512.1,201.7L513.1,203.2L514.0,204.6L515.0,206.1L516.0,207.6L516.9,209.1L517.9,210.5L518.8,212.0L519.8,213.5L520.7,215.0L521.7,216.4L522.7,217.8L523.7,219.2L524.7,220.5L525.8,221.8L526.9,223.0L527.9,224.1L529.0,225.3L530.2,226.3L531.3,227.4L532.5,228.3L533.6,229.3L534.8,230.2L536.0,231.0L537.3,231.9L538.5,232.6L539.7,233.4L541.0,234.1L542.3,234.8L543.6,235.4L544.9,236.0L546.2,236.5L547.6,237.0L549.0,237.5L550.3,237.9L551.7,238.3L553.1,238.6L554.6,238.9L556.0,239.2L557.4,239.4M451.0,86.1L451.7,87.0L452.4,88.1L453.1,89.1L453.8,90.3L454.5,91.4L455.2,92.6L456.0,93.8L456.7,95.1L457.4,96.3L458.1,97.6L458.9,99.0L459.6,100.4L460.3,101.7L461.1,103.2L461.9,104.6L462.6,106.1L463.4,107.6L464.2,109.1L465.0,110.7L465.8,112.2L466.7,113.7L467.5,115.2L468.3,116.8L469.2,118.3L470.0,119.8L470.8,121.4L471.6,122.9L472.5,124.5L473.3,126.0L474.1,127.5L475.0,129.0L475.8,130.6L476.7,132.1L477.6,133.6L478.4,135.1L479.3,136.6L480.2,138.1L481.1,139.6L481.9,141.1L482.7,142.6L483.5,144.2L484.2,145.8L484.9,147.4L485.6,149.0L486.4,150.6L487.1,152.2L487.9,153.8L488.6,155.3L489.4,156.9L490.1,158.5L490.8,160.1L491.6,161.7L492.3,163.3L493.1,164.8L493.8,166.4L494.6,168.0L495.4,169.6L496.2,171.1L497.0,172.7L497.8,174.2L498.6,175.8L499.4,177.3L500.3,178.8L501.1,180.4L502.0,181.9L502.8,183.4L503.7,184.9L504.6,186.4L505.5,187.9L506.4,189.4L507.3,190.9L508.2,192.4L509.1,193.9L510.0,195.4L510.9,196.8L511.8,198.3L512.8,199.8L513.7,201.2L514.7,202.7L515.6,204.1L516.6,205.6L517.6,207.1L518.5,208.5L519.4,210.0L520.4,211.4L521.4,212.9L522.3,214.3L523.4,215.7L524.4,217.1L525.4,218.4L526.4,219.6L527.5,220.8L528.6,222.0L529.7,223.1L530.8,224.2L532.0,225.2L533.1,226.2L534.3,227.1L535.5,228.0L536.7,228.9L537.9,229.7L539.1,230.5L540.4,231.3L541.7,232.0L542.9,232.7L544.2,233.4L545.5,234.0L546.9,234.5L548.2,235.1L549.6,235.6L550.9,236.0L552.3,236.4L553.7,236.8L555.1,237.2L556.6,237.5L558.0,237.7L559.5,238.0L561.0,238.2L562.5,238.3L564.0,238.4L565.5,238.5L567.0,238.5L568.6,238.5L570.2,238.5L571.8,238.4L573.4,238.2L575.0,238.1L576.7,237.9L578.3,237.7L580.0,237.5L581.6,237.4L583.3,237.2L585.0,237.1L586.6,236.9L588.3,236.8L590.0,236.7L591.7,236.5L593.3,236.4L594.9,236.3L596.5,236.2L598.1,236.1L599.6,236.1L601.2,236.0L602.6,235.9L604.1,235.9L605.5,235.8L607.0,235.8M508.8,190.6L509.7,192.1L510.6,193.5L511.5,195.0L512.4,196.4L513.4,197.9L514.3,199.3L515.3,200.8L516.3,202.2L517.2,203.6L518.2,205.0L519.1,206.5L520.1,207.9L521.0,209.4L522.0,210.8L523.0,212.2L524.0,213.6L525.0,214.9L526.1,216.2L527.1,217.4L528.2,218.6L529.2,219.8L530.3,220.9L531.5,222.0L532.6,223.0L533.8,224.0L534.9,225.0L536.1,225.9L537.3,226.8L538.6,227.6L539.8,228.4L541.0,229.2L542.3,229.9L543.6,230.6L544.9,231.3L546.2,232.0L547.5,232.6L548.8,233.1L550.2,233.6L551.5,234.1L552.9,234.6L554.3,235.0L555.7,235.4L557.1,235.7L558.6,236.0M470.1,116.7L471.0,118.2L471.8,119.7L472.6,121.2L473.4,122.7L474.3,124.2L475.1,125.7L476.0,127.1L476.9,128.6L477.8,130.0L478.6,131.5L479.5,133.0L480.4,134.4L481.3,135.8L482.2,137.3L483.1,138.7L483.9,140.3L484.7,141.8L485.4,143.4L486.1,144.9L486.8,146.5L487.5,148.1L488.2,149.6L489.0,151.2L489.7,152.7L490.5,154.3L491.2,155.8L491.9,157.4L492.7,158.9L493.4,160.5L494.2,162.0L494.9,163.6L495.7,165.1L496.5,166.6L497.3,168.1L498.1,169.6L498.9,171.2L499.7,172.7L500.5,174.2L501.4,175.7L502.2,177.1L503.1,178.6L504.0,180.1L504.9,181.5L505.8,183.0L506.7,184.4L507.6,185.9L508.5,187.3L509.4,188.8L510.3,190.2L511.2,191.7L512.1,193.1L513.1,194.6L514.0,196.0L515.0,197.4L515.9,198.8L516.9,200.2L517.9,201.6L518.8,203.0L519.8,204.5L520.7,205.9L521.7,207.3L522.6,208.7L523.6,210.1L524.6,211.5L525.7,212.8L526.7,214.0L527.7,215.3L528.8,216.5L529.9,217.6L531.0,218.7L532.1,219.8L533.3,220.8L534.4,221.8L535.6,222.8L536.8,223.7L538.0,224.6L539.2,225.5L540.4,226.3L541.7,227.1L542.9,227.9L544.2,228.6L545.5,229.3L546.8,229.9L548.1,230.6L549.4,231.2L550.8,231.7L552.2,232.3L553.5,232.7L554.9,233.2L556.3,233.6L557.7,234.0L559.2,234.4L560.6,234.7L562.1,234.9L563.5,235.2L565.0,235.4L566.5,235.6L568.1,235.7L569.6,235.8L571.2,235.8L572.7,235.9L574.3,235.8L575.9,235.8L577.5,235.7L579.2,235.6L580.8,235.6L582.4,235.5M510.0,187.0L510.9,188.4L511.8,189.9L512.7,191.3L513.7,192.7L514.6,194.1L515.6,195.5L516.6,196.9L517.5,198.2L518.5,199.6L519.5,201.0L520.4,202.4L521.4,203.9L522.3,205.3L523.3,206.6L524.3,208.0L525.3,209.3L526.3,210.6L527.4,211.9L528.4,213.1L529.5,214.3L530.6,215.4L531.7,216.5L532.8,217.6L533.9,218.7L535.1,219.7L536.3,220.6L537.4,221.6L538.6,222.5L539.9,223.3L541.1,224.2L542.3,225.0L543.6,225.8L544.9,226.5L546.1,227.3L547.4,227.9L548.7,228.6L550.1,229.2L551.4,229.8L552.8,230.4L554.1,230.9L555.5,231.4L556.9,231.8L558.3,232.3L559.7,232.7M453.7,87.0L454.6,88.1L455.4,89.3L456.2,90.5L457.0,91.7L457.8,92.9L458.7,94.1L459.5,95.4L460.3,96.7L461.1,98.0L461.9,99.4L462.7,100.7L463.5,102.1L464.4,103.5L465.2,105.0L466.0,106.4L466.8,107.8L467.7,109.3L468.5,110.7L469.4,112.2L470.3,113.6L471.1,115.0L471.9,116.5L472.8,118.0L473.6,119.4L474.4,120.9L475.3,122.3L476.1,123.8L477.0,125.2L477.9,126.6L478.8,128.0L479.7,129.4L480.6,130.8L481.6,132.2L482.5,133.6L483.4,135.0L484.3,136.4L485.1,137.9L485.9,139.4L486.6,140.9L487.2,142.5L487.9,144.0L488.7,145.5L489.4,147.0L490.1,148.6L490.8,150.1L491.6,151.6L492.3,153.1L493.0,154.6L493.8,156.2L494.5,157.7L495.2,159.2L496.0,160.7L496.8,162.2L497.6,163.7L498.4,165.2L499.2,166.6L500.0,168.1L500.8,169.6L501.6,171.0L502.5,172.5L503.4,173.9L504.2,175.3L505.1,176.8L506.0,178.2L506.9,179.6L507.8,181.0L508.8,182.4L509.7,183.8L510.6,185.2L511.5,186.6L512.4,188.0L513.3,189.4L514.3,190.8L515.2,192.2L516.2,193.6L517.2,194.9L518.2,196.3L519.1,197.7L520.1,199.0L521.0,200.4L522.0,201.8L522.9,203.2L523.9,204.6L524.9,205.9L525.9,207.2L527.0,208.5L528.0,209.7L529.1,210.9L530.1,212.1L531.2,213.3L532.3,214.4L533.4,215.4L534.6,216.5L535.7,217.5L536.9,218.5L538.1,219.4L539.3,220.3L540.5,221.2L541.7,222.1L543.0,222.9L544.2,223.7L545.5,224.5L546.8,225.2L548.1,225.9L549.4,226.6L550.7,227.3L552.0,227.9L553.4,228.5L554.7,229.0L556.1,229.6L557.5,230.1L558.9,230.5L560.3,231.0L561.7,231.4L563.2,231.7L564.6,232.1L566.1,232.4L567.6,232.6L569.1,232.9L570.6,233.1L572.1,233.2L573.7,233.3L575.3,233.4L576.8,233.5L578.4,233.5L580.0,233.6L581.6,233.6L583.2,233.6L584.8,233.7L586.4,233.7L588.1,233.8L589.7,233.8L591.3,233.8L592.9,233.9L594.5,233.9L596.1,234.0L597.7,234.0L599.2,234.1M511.2,183.4L512.1,184.8L513.0,186.2L514.0,187.6L514.9,189.0L515.8,190.3L516.8,191.7L517.8,193.0L518.8,194.3L519.8,195.7L520.7,197.0L521.7,198.4L522.6,199.8L523.6,201.1L524.6,202.5L525.6,203.8L526.6,205.1L527.6,206.4L528.7,207.6L529.7,208.8L530.8,210.0L531.9,211.1L533.0,212.2L534.1,213.3L535.2,214.3L536.4,215.3L537.6,216.3L538.7,217.3L539.9,218.2L541.2,219.1L542.4,220.0L543.6,220.8L544.9,221.6L546.1,222.4L547.4,223.2L548.7,223.9L550.0,224.6L551.3,225.3L552.6,226.0L554.0,226.6L555.3,227.2L556.7,227.8L558.1,228.3L559.5,228.8L560.9,229.3M472.1,113.4L472.9,114.8L473.7,116.3L474.6,117.7L475.4,119.1L476.3,120.5L477.1,121.9L478.0,123.3L479.0,124.7L479.9,126.0L480.8,127.4L481.7,128.7L482.7,130.0L483.7,131.4L484.6,132.7L485.5,134.1L486.3,135.5L487.1,137.0L487.7,138.5L488.4,140.0L489.1,141.5L489.8,143.0L490.5,144.5L491.2,146.0L492.0,147.5L492.7,148.9L493.4,150.4L494.1,151.9L494.9,153.4L495.6,154.9L496.3,156.4L497.1,157.8L497.9,159.3L498.7,160.7L499.5,162.2L500.3,163.6L501.1,165.0L501.9,166.5L502.8,167.9L503.6,169.3L504.5,170.7L505.4,172.1L506.3,173.5L507.2,174.8L508.1,176.2L509.0,177.5L510.0,178.9L510.9,180.3L511.8,181.6L512.7,183.0L513.6,184.4L514.6,185.7L515.5,187.1L516.5,188.4L517.4,189.7L518.4,191.1L519.4,192.4L520.4,193.7L521.4,195.0L522.3,196.4L523.3,197.7L524.2,199.1L525.2,200.4L526.2,201.7L527.2,203.0L528.3,204.2L529.3,205.4L530.4,206.6L531.4,207.8L532.5,208.9L533.6,210.0L534.7,211.1L535.9,212.1L537.0,213.1L538.2,214.1L539.4,215.1L540.6,216.0L541.8,216.9L543.0,217.8L544.3,218.7L545.5,219.5L546.8,220.4L548.0,221.2L549.3,221.9L550.6,222.7L551.9,223.4L553.2,224.0L554.6,224.7L555.9,225.3L557.3,225.9L558.7,226.5L560.0,227.1L561.4,227.6L562.9,228.1L564.3,228.5L565.7,228.9L567.2,229.3L568.6,229.7L570.1,230.0L571.6,230.3L573.1,230.6L574.7,230.8L576.2,231.0L577.8,231.2L579.3,231.3L580.9,231.5L582.4,231.6L584.0,231.8M512.4,179.9L513.3,181.2L514.3,182.5L515.2,183.9L516.1,185.2L517.1,186.5L518.1,187.8L519.1,189.1L520.1,190.4L521.0,191.7L522.0,193.0L522.9,194.4L523.9,195.7L524.9,197.0L525.8,198.3L526.9,199.6L527.9,200.8L528.9,202.1L530.0,203.3L531.0,204.5L532.1,205.6L533.2,206.7L534.3,207.8L535.4,208.9L536.5,210.0L537.7,211.0L538.9,212.0L540.1,212.9L541.2,213.9L542.5,214.8L543.7,215.7L544.9,216.6L546.1,217.5L547.4,218.3L548.7,219.1L549.9,219.9L551.2,220.7L552.5,221.4L553.9,222.1L555.2,222.8L556.5,223.5L557.9,224.1L559.2,224.7L560.6,225.3L562.0,225.9M450.1,81.1L451.2,81.9L452.3,82.8L453.3,83.8L454.3,84.9L455.3,86.0L456.2,87.2L457.2,88.3L458.1,89.5L459.0,90.7L459.9,91.9L460.8,93.2L461.7,94.4L462.6,95.7L463.5,97.0L464.3,98.3L465.2,99.6L466.1,101.0L466.9,102.3L467.8,103.7L468.7,105.0L469.5,106.4L470.4,107.7L471.3,109.1L472.2,110.4L473.0,111.8L473.9,113.2L474.7,114.6L475.5,116.0L476.4,117.3L477.3,118.7L478.1,120.0L479.1,121.4L480.0,122.7L480.9,124.0L481.9,125.3L482.8,126.6L483.8,127.9L484.8,129.1L485.8,130.4L486.7,131.7L487.5,133.1L488.3,134.6L488.9,136.0L489.6,137.5L490.3,139.0L491.0,140.5L491.7,141.9L492.4,143.4L493.1,144.8L493.8,146.3L494.5,147.7L495.2,149.2L495.9,150.6L496.7,152.1L497.4,153.5L498.2,155.0L498.9,156.4L499.7,157.8L500.5,159.2L501.4,160.6L502.2,162.0L503.0,163.4L503.9,164.8L504.7,166.1L505.6,167.5L506.5,168.8L507.4,170.2L508.3,171.5L509.3,172.8L510.2,174.1L511.1,175.4L512.1,176.7L513.0,178.1L513.9,179.4L514.9,180.7L515.8,182.0L516.7,183.3L517.7,184.6L518.7,185.9L519.7,187.2L520.7,188.4L521.7,189.7L522.6,191.0L523.6,192.3L524.5,193.6L525.5,194.9L526.5,196.2L527.5,197.5L528.5,198.7L529.6,199.9L530.6,201.1L531.7,202.3L532.7,203.4L533.8,204.6L534.9,205.7L536.1,206.7L537.2,207.8L538.4,208.8L539.5,209.8L540.7,210.8L541.9,211.7L543.1,212.7L544.3,213.6L545.5,214.5L546.8,215.4L548.0,216.2L549.3,217.1L550.6,217.9L551.9,218.7L553.2,219.5L554.5,220.2L555.8,220.9L557.1,221.6L558.5,222.3L559.8,223.0L561.2,223.6L562.6,224.2L564.0,224.8L565.4,225.3L566.8,225.8L568.3,226.3L569.7,226.8L571.2,227.2L572.6,227.6L574.1,228.0L575.6,228.3L577.1,228.6L578.7,228.9L580.2,229.1L581.7,229.4L583.3,229.7L584.8,229.9L586.4,230.2L587.9,230.4L589.5,230.6L591.0,230.8L592.6,231.0L594.2,231.2L595.7,231.4L597.3,231.7L598.8,231.9L600.4,232.1L601.9,232.3L603.4,232.5L604.9,232.7L606.4,232.9L607.9,233.1L609.4,233.3L610.8,233.5L612.3,233.8L613.8,234.0L615.2,234.2M513.6,176.3L514.5,177.6L515.5,178.9L516.4,180.2L517.4,181.5L518.3,182.7L519.3,184.0L520.3,185.2L521.3,186.5L522.3,187.7L523.3,189.0L524.2,190.3L525.2,191.6L526.1,192.9L527.1,194.1L528.1,195.4L529.2,196.6L530.2,197.8L531.3,199.0L532.3,200.1L533.4,201.3L534.5,202.4L535.6,203.5L536.7,204.6L537.9,205.6L539.0,206.6L540.2,207.6L541.4,208.6L542.5,209.6L543.8,210.6L545.0,211.5L546.2,212.4L547.4,213.3L548.7,214.2L549.9,215.1L551.2,215.9L552.5,216.7L553.8,217.5L555.1,218.3L556.4,219.0L557.7,219.8L559.1,220.5L560.4,221.2L561.8,221.9L563.2,222.5M474.0,110.2L474.9,111.5L475.7,112.9L476.5,114.2L477.4,115.6L478.2,116.9L479.2,118.2L480.1,119.4L481.0,120.7L482.0,122.0L482.9,123.2L483.9,124.5L484.9,125.7L486.0,126.9L487.0,128.1L487.9,129.4L488.7,130.7L489.5,132.2L490.1,133.6L490.8,135.1L491.4,136.5L492.1,137.9L492.8,139.3L493.5,140.8L494.2,142.2L494.9,143.6L495.6,145.0L496.3,146.5L497.0,147.9L497.8,149.3L498.5,150.7L499.2,152.1L500.0,153.5L500.8,154.9L501.6,156.2L502.4,157.6L503.3,158.9L504.1,160.3L505.0,161.6L505.8,162.9L506.7,164.2L507.6,165.6L508.6,166.8L509.5,168.1L510.4,169.4L511.4,170.7L512.3,171.9L513.3,173.2L514.2,174.5L515.1,175.8L516.1,177.0L517.0,178.3L518.0,179.6L518.9,180.8L519.9,182.1L520.9,183.3L522.0,184.5L523.0,185.7L523.9,187.0L524.9,188.3L525.8,189.6L526.8,190.8L527.8,192.0L528.8,193.3L529.8,194.5L530.9,195.6L531.9,196.8L533.0,198.0L534.0,199.1L535.1,200.2L536.2,201.3L537.4,202.4L538.5,203.4L539.7,204.5L540.8,205.5L542.0,206.5L543.2,207.5L544.4,208.4L545.6,209.4L546.8,210.3L548.1,211.2L549.3,212.1L550.6,213.0L551.8,213.9L553.1,214.7L554.4,215.6L555.7,216.4L557.0,217.2L558.3,217.9L559.7,218.7L561.0,219.4L562.4,220.1L563.7,220.8L565.1,221.5L566.5,222.1L567.9,222.7L569.3,223.3L570.7,223.8L572.2,224.4L573.6,224.9L575.1,225.4L576.6,225.8L578.1,226.2L579.6,226.6L581.1,227.0L582.6,227.3L584.1,227.7L585.6,228.1M514.8,172.7L515.8,174.0L516.7,175.2L517.6,176.5L518.6,177.7L519.6,179.0L520.6,180.2L521.6,181.4L522.6,182.5L523.6,183.8L524.5,185.0L525.5,186.3L526.4,187.5L527.4,188.8L528.4,190.0L529.4,191.2L530.5,192.3L531.5,193.5L532.6,194.7L533.6,195.8L534.7,196.9L535.8,198.0L536.9,199.1L538.0,200.2L539.2,201.3L540.3,202.3L541.5,203.3L542.7,204.3L543.9,205.3L545.1,206.3L546.3,207.3L547.5,208.2L548.7,209.2L549.9,210.1L551.2,211.0L552.5,211.9L553.7,212.7L555.0,213.6L556.3,214.4L557.6,215.3L558.9,216.1L560.2,216.9L561.6,217.6L562.9,218.4L564.3,219.1M454.9,82.8L456.0,83.9L457.1,85.1L458.1,86.2L459.2,87.4L460.2,88.5L461.2,89.7L462.2,90.9L463.1,92.2L464.1,93.4L465.0,94.6L466.0,95.9L466.9,97.1L467.8,98.4L468.7,99.7L469.6,100.9L470.5,102.2L471.4,103.5L472.3,104.7L473.2,106.0L474.1,107.3L475.0,108.5L475.8,109.8L476.7,111.2L477.5,112.5L478.3,113.8L479.2,115.0L480.2,116.3L481.1,117.5L482.1,118.7L483.0,120.0L484.0,121.2L485.0,122.4L486.1,123.5L487.1,124.7L488.1,125.8L489.1,127.1L489.9,128.4L490.7,129.7L491.3,131.2L491.9,132.6L492.6,134.0L493.3,135.4L494.0,136.8L494.6,138.2L495.3,139.6L496.0,141.0L496.7,142.4L497.4,143.7L498.1,145.1L498.8,146.5L499.6,147.9L500.3,149.2L501.1,150.6L501.9,151.9L502.7,153.2L503.5,154.6L504.4,155.9L505.2,157.2L506.1,158.5L507.0,159.8L507.9,161.0L508.8,162.3L509.7,163.5L510.7,164.8L511.6,166.0L512.6,167.2L513.5,168.4L514.5,169.7L515.4,170.9L516.4,172.1L517.3,173.4L518.3,174.6L519.2,175.8L520.2,177.1L521.2,178.2L522.2,179.4L523.2,180.6L524.2,181.8L525.2,183.0L526.1,184.2L527.1,185.5L528.0,186.7L529.0,187.9L530.1,189.1L531.1,190.2L532.2,191.4L533.2,192.5L534.3,193.6L535.4,194.8L536.4,195.9L537.6,197.0L538.7,198.0L539.8,199.1L541.0,200.1L542.1,201.1L543.3,202.2L544.5,203.2L545.7,204.2L546.9,205.1L548.1,206.1L549.3,207.1L550.6,208.0L551.8,209.0L553.1,209.9L554.4,210.8L555.6,211.7L556.9,212.5L558.2,213.4L559.5,214.2L560.8,215.1L562.2,215.9L563.5,216.6L564.9,217.4L566.2,218.2L567.6,218.9L569.0,219.6L570.4,220.2L571.8,220.9L573.2,221.6L574.6,222.2L576.1,222.7L577.6,223.3L579.0,223.8L580.5,224.3L582.0,224.8L583.4,225.3L584.9,225.7L586.4,226.2L587.9,226.6L589.4,227.1L590.9,227.5L592.4,227.9L593.9,228.2L595.4,228.6L596.9,229.0L598.5,229.3L600.0,229.7L601.5,230.0M447.0,78.6L447.7,80.8L448.2,82.6L448.6,83.9L448.7,84.2L448.4,83.4L448.2,82.6L448.0,81.8L447.7,81.0L447.5,80.2L447.2,79.4L447.0,78.6M447.6,82.3L448.5,83.7L449.2,84.8L449.9,85.6L450.2,85.5L450.2,84.6L450.2,83.7L450.1,82.8L450.1,81.8L450.1,80.9L450.1,80.0L450.0,79.0M447.6,86.1L448.9,86.9L450.1,87.4L451.0,87.7L451.7,87.4L451.8,86.4L451.9,85.5L452.1,84.5L452.2,83.6L452.3,82.6L452.5,81.7L452.6,80.7M447.8,89.4L449.5,89.8L451.0,90.0L452.2,90.0L453.0,89.5L453.3,88.6L453.6,87.6L453.8,86.6L454.1,85.7L454.4,84.7L454.7,83.8L454.9,82.8M450.9,94.1L452.1,94.1L453.3,93.9L454.3,93.6L455.1,93.0L455.5,92.0L455.9,91.0L456.4,90.1L456.8,89.1L457.3,88.1L457.7,87.2L458.1,86.2M452.5,97.5L453.7,97.2L454.7,96.7L455.7,96.2L456.5,95.5L457.0,94.5L457.5,93.5L458.1,92.5L458.6,91.5L459.1,90.5L459.6,89.5L460.2,88.5M454.1,101.0L455.1,100.3L456.1,99.7L457.1,98.9L457.9,98.1L458.5,97.0L459.1,96.0L459.7,95.0L460.3,94.0L460.9,93.0L461.6,92.0L462.2,90.9M455.7,104.4L456.7,103.5L457.6,102.6L458.5,101.7L459.3,100.8L460.0,99.7L460.7,98.7L461.4,97.6L462.1,96.5L462.7,95.5L463.4,94.4L464.1,93.4M457.3,107.7L458.3,106.7L459.1,105.7L460.0,104.7L460.8,103.6L461.5,102.5L462.3,101.4L463.0,100.3L463.8,99.2L464.5,98.1L465.2,97.0L466.0,95.9M459.0,111.1L459.9,110.0L460.7,108.9L461.5,107.7L462.3,106.6L463.1,105.4L463.9,104.2L464.7,103.1L465.4,101.9L466.2,100.7L467.0,99.6L467.8,98.4M460.7,114.5L461.5,113.3L462.3,112.1L463.1,110.9L463.9,109.6L464.7,108.4L465.5,107.1L466.3,105.9L467.1,104.7L468.0,103.4L468.8,102.2L469.6,100.9M463.3,119.5L464.0,118.2L464.7,116.9L465.5,115.6L466.3,114.3L467.2,112.9L468.0,111.5L468.9,110.2L469.7,108.8L470.6,107.4L471.4,106.1L472.3,104.7M464.6,123.1L465.4,121.6L466.3,120.2L467.1,118.8L468.0,117.3L468.9,115.9L469.7,114.5L470.6,113.0L471.5,111.6L472.3,110.1L473.2,108.7L474.1,107.3M465.8,126.6L466.8,125.1L467.8,123.5L468.7,122.0L469.6,120.4L470.5,118.9L471.4,117.4L472.3,115.9L473.2,114.4L474.1,112.9L474.9,111.4L475.8,109.8M467.2,130.1L468.3,128.4L469.3,126.8L470.3,125.2L471.3,123.6L472.2,122.0L473.1,120.4L473.9,118.8L474.8,117.2L475.7,115.6L476.6,114.1L477.5,112.5M469.0,133.4L470.0,131.7L471.0,130.0L472.0,128.3L472.9,126.7L473.8,125.0L474.7,123.3L475.6,121.7L476.5,120.0L477.4,118.4L478.3,116.7L479.2,115.0M470.7,136.8L471.7,135.0L472.7,133.2L473.7,131.5L474.6,129.7L475.5,128.0L476.5,126.3L477.4,124.5L478.3,122.8L479.2,121.0L480.2,119.3L481.1,117.5M473.4,141.8L474.3,139.9L475.3,138.1L476.2,136.2L477.2,134.3L478.1,132.4L479.1,130.6L480.1,128.7L481.1,126.8L482.1,124.9L483.0,123.0L484.0,121.2M475.1,145.1L476.0,143.2L476.9,141.3L477.9,139.3L478.9,137.4L479.9,135.4L480.9,133.4L482.0,131.4L483.0,129.4L484.0,127.5L485.0,125.5L486.1,123.5M476.7,148.5L477.6,146.5L478.6,144.5L479.6,142.5L480.6,140.4L481.7,138.3L482.8,136.2L483.8,134.2L484.9,132.1L486.0,130.0L487.1,127.9L488.1,125.8M478.3,152.0L479.2,149.9L480.2,147.8L481.2,145.6L482.3,143.5L483.4,141.3L484.5,139.2L485.5,137.0L486.6,134.9L487.7,132.7L488.8,130.5L489.9,128.4M479.9,155.4L480.8,153.2L481.7,151.1L482.7,148.9L483.7,146.7L484.8,144.5L485.9,142.3L487.0,140.0L488.1,137.8L489.1,135.6L490.2,133.4L491.3,131.2M481.4,158.8L482.3,156.6L483.2,154.4L484.2,152.2L485.2,149.9L486.2,147.6L487.3,145.4L488.4,143.1L489.4,140.8L490.5,138.5L491.5,136.3L492.6,134.0M482.9,162.3L483.8,160.0L484.8,157.7L485.7,155.4L486.7,153.1L487.7,150.8L488.8,148.4L489.8,146.1L490.8,143.8L491.9,141.4L492.9,139.1L494.0,136.8M485.1,167.5L486.0,165.1L487.0,162.7L488.0,160.3L488.9,157.9L490.0,155.5L491.0,153.1L492.0,150.6L493.0,148.2L494.0,145.8L495.0,143.4L496.0,141.0M486.4,171.0L487.4,168.5L488.4,166.0L489.4,163.6L490.4,161.1L491.4,158.6L492.4,156.1L493.4,153.7L494.4,151.2L495.4,148.7L496.4,146.2L497.4,143.7M487.8,174.5L488.8,172.0L489.9,169.4L490.9,166.8L491.9,164.3L492.9,161.7L493.9,159.2L494.9,156.7L495.9,154.1L496.9,151.6L497.9,149.0L498.8,146.5M489.2,178.0L490.3,175.3L491.4,172.7L492.4,170.1L493.5,167.5L494.4,164.9L495.4,162.3L496.4,159.7L497.4,157.1L498.4,154.4L499.3,151.8L500.3,149.2M490.8,181.4L491.9,178.7L492.9,176.0L494.0,173.3L495.0,170.6L496.0,167.9L497.0,165.3L498.0,162.6L498.9,159.9L499.9,157.3L500.9,154.6L501.9,151.9M492.2,184.9L493.4,182.1L494.5,179.3L495.6,176.5L496.6,173.8L497.6,171.0L498.6,168.3L499.6,165.5L500.6,162.8L501.6,160.1L502.5,157.3L503.5,154.6M493.8,188.3L494.9,185.5L496.1,182.6L497.2,179.7L498.2,176.9L499.2,174.1L500.2,171.3L501.2,168.4L502.2,165.6L503.2,162.8L504.2,160.0L505.2,157.2M496.4,193.4L497.5,190.4L498.6,187.4L499.6,184.5L500.7,181.5L501.7,178.6L502.7,175.7L503.8,172.7L504.8,169.8L505.8,166.9L506.8,164.0L507.9,161.0M498.1,196.7L499.2,193.7L500.3,190.7L501.3,187.6L502.4,184.6L503.5,181.6L504.5,178.6L505.5,175.6L506.6,172.6L507.6,169.6L508.7,166.5L509.7,163.5M499.6,200.2L500.8,197.0L501.9,193.9L503.1,190.7L504.2,187.6L505.2,184.5L506.3,181.4L507.4,178.4L508.4,175.3L509.5,172.2L510.6,169.1L511.6,166.0M501.0,203.7L502.3,200.4L503.6,197.1L504.8,193.9L505.9,190.7L507.0,187.5L508.1,184.3L509.2,181.1L510.3,178.0L511.4,174.8L512.4,171.6L513.5,168.4M502.4,207.2L503.8,203.7L505.2,200.4L506.5,197.0L507.7,193.7L508.8,190.4L509.9,187.2L511.0,183.9L512.1,180.7L513.2,177.4L514.3,174.2L515.4,170.9M503.9,210.6L505.4,207.1L506.9,203.6L508.3,200.1L509.5,196.7L510.6,193.4L511.8,190.0L512.9,186.7L514.0,183.4L515.1,180.0L516.2,176.7L517.3,173.4M506.7,215.6L508.2,211.9L509.6,208.3L511.0,204.7L512.3,201.2L513.4,197.7L514.6,194.3L515.7,190.8L516.8,187.4L517.9,183.9L519.1,180.5L520.2,177.1M508.7,218.7L510.2,215.0L511.6,211.3L513.0,207.7L514.2,204.1L515.4,200.6L516.5,197.0L517.6,193.5L518.8,190.0L519.9,186.5L521.1,182.9L522.2,179.4M510.7,221.9L512.1,218.2L513.5,214.4L514.9,210.7L516.1,207.0L517.3,203.4L518.5,199.8L519.6,196.2L520.8,192.6L521.9,189.0L523.1,185.4L524.2,181.8M512.7,225.1L514.1,221.3L515.5,217.5L516.8,213.7L518.0,210.0L519.2,206.3L520.4,202.6L521.5,199.0L522.7,195.3L523.8,191.6L525.0,187.9L526.1,184.2M514.8,228.2L516.1,224.4L517.4,220.6L518.7,216.7L519.9,212.9L521.1,209.2L522.3,205.4L523.4,201.7L524.6,197.9L525.7,194.2L526.9,190.4L528.0,186.7M516.9,231.4L518.1,227.5L519.4,223.6L520.7,219.7L521.9,215.9L523.1,212.0L524.2,208.2L525.4,204.4L526.6,200.5L527.7,196.7L528.9,192.9L530.1,189.1M518.9,234.6L520.2,230.5L521.4,226.5L522.7,222.6L523.9,218.6L525.1,214.7L526.3,210.8L527.4,206.9L528.6,203.0L529.8,199.1L531.0,195.3L532.2,191.4M522.1,239.2L523.3,234.9L524.6,230.7L525.8,226.5L527.0,222.4L528.2,218.4L529.4,214.5L530.6,210.5L531.8,206.6L533.0,202.6L534.2,198.7L535.4,194.8M524.2,242.3L525.5,237.8L526.7,233.3L528.0,228.9L529.2,224.7L530.4,220.7L531.6,216.7L532.8,212.8L534.0,208.8L535.2,204.9L536.4,200.9L537.6,197.0M526.3,245.5L527.7,240.5L529.0,235.7L530.2,231.1L531.5,226.8L532.7,222.8L533.9,218.9L535.1,214.9L536.2,210.9L537.4,207.0L538.6,203.0L539.8,199.1M528.4,248.6L529.8,243.2L531.2,238.1L532.5,233.2L533.8,228.7L535.0,224.8L536.2,220.8L537.4,216.9L538.6,213.0L539.8,209.0L541.0,205.1L542.1,201.1M530.5,251.7L532.0,245.9L533.5,240.4L534.9,235.1L536.2,230.5L537.4,226.6L538.6,222.7L539.8,218.8L541.0,214.9L542.1,211.0L543.3,207.1L544.5,203.2M532.5,254.9L534.2,248.5L535.8,242.5L537.3,236.9L538.7,232.1L539.8,228.2L541.0,224.4L542.2,220.5L543.4,216.7L544.6,212.8L545.7,209.0L546.9,205.1M534.3,258.2L536.2,251.2L538.0,244.7L539.7,238.6L541.2,233.5L542.4,229.8L543.5,226.0L544.7,222.2L545.9,218.4L547.0,214.6L548.2,210.9L549.3,207.1M537.4,262.5L539.6,254.7L541.6,247.4L543.5,240.7L545.1,235.4L546.2,231.8L547.4,228.1L548.5,224.5L549.7,220.8L550.8,217.2L551.9,213.5L553.1,209.9M540.5,260.5L542.6,253.6L544.5,247.2L546.3,241.3L547.8,236.5L548.9,232.9L550.0,229.4L551.1,225.8L552.3,222.3L553.4,218.7L554.5,215.2L555.6,211.7M543.3,258.0L545.3,252.2L547.3,246.8L549.0,241.7L550.5,237.4L551.6,234.0L552.7,230.5L553.8,227.1L554.9,223.7L556.0,220.2L557.1,216.8L558.2,213.4M546.5,256.0L548.4,251.1L550.2,246.5L551.9,242.1L553.3,238.1L554.4,234.8L555.4,231.5L556.5,228.2L557.6,224.9L558.7,221.6L559.8,218.4L560.8,215.1M549.9,254.4L551.6,250.2L553.3,246.2L554.8,242.3L556.2,238.7L557.2,235.6L558.3,232.4L559.3,229.3L560.4,226.1L561.4,223.0L562.5,219.8L563.5,216.6M553.4,253.0L554.9,249.4L556.4,245.8L557.8,242.4L559.1,239.2L560.1,236.2L561.1,233.2L562.1,230.2L563.2,227.2L564.2,224.2L565.2,221.2L566.2,218.2M556.9,251.6L558.3,248.5L559.6,245.4L560.9,242.4L562.1,239.4L563.0,236.6L564.0,233.8L565.0,230.9L566.0,228.1L567.0,225.2L568.0,222.4L569.0,219.6M562.2,249.6L563.4,247.1L564.5,244.6L565.6,242.1L566.7,239.6L567.6,237.0L568.5,234.4L569.5,231.8L570.4,229.3L571.3,226.7L572.3,224.1L573.2,221.6M565.7,248.4L566.8,246.2L567.8,244.0L568.8,241.7L569.8,239.4L570.7,237.0L571.6,234.7L572.5,232.3L573.4,229.9L574.3,227.5L575.2,225.1L576.1,222.7M569.3,247.1L570.3,245.2L571.2,243.2L572.1,241.2L573.0,239.1L573.9,236.9L574.8,234.7L575.6,232.5L576.5,230.3L577.3,228.2L578.2,226.0L579.0,223.8M572.8,245.9L573.7,244.1L574.6,242.4L575.5,240.6L576.3,238.7L577.1,236.7L577.9,234.7L578.8,232.7L579.6,230.7L580.4,228.7L581.2,226.8L582.0,224.8M576.4,244.6L577.2,243.1L578.1,241.5L578.9,239.9L579.7,238.2L580.4,236.5L581.2,234.7L581.9,232.9L582.7,231.1L583.4,229.3L584.2,227.5L584.9,225.7M579.9,243.4L580.7,242.1L581.5,240.7L582.3,239.3L583.0,237.8L583.7,236.2L584.4,234.6L585.1,233.0L585.8,231.4L586.5,229.8L587.2,228.2L587.9,226.6M585.3,241.7L586.0,240.7L586.7,239.6L587.4,238.5L588.1,237.3L588.7,236.0L589.3,234.6L589.9,233.3L590.6,231.9L591.2,230.6L591.8,229.2L592.4,227.9M589.0,240.6L589.6,239.8L590.2,239.0L590.9,238.1L591.5,237.0L592.0,235.8L592.6,234.6L593.2,233.4L593.7,232.2L594.3,231.0L594.9,229.8L595.4,228.6M592.6,239.6L593.1,239.0L593.7,238.4L594.2,237.6L594.7,236.7L595.3,235.7L595.8,234.6L596.3,233.6L596.9,232.5L597.4,231.4L597.9,230.4L598.5,229.3M596.2,238.7L596.6,238.3L597.0,237.8L597.4,237.2L597.9,236.5L598.4,235.6L598.9,234.7L599.4,233.7L599.9,232.8L600.5,231.9L601.0,231.0L601.5,230.0M599.9,237.9L600.1,237.6L600.3,237.3L600.6,236.9L601.0,236.3L601.5,235.5L602.0,234.7L602.5,233.9L603.0,233.1L603.5,232.3L604.0,231.5L604.5,230.7M603.6,237.1L603.5,237.0L603.5,236.9L603.6,236.6L603.9,236.2L604.4,235.5L604.9,234.8L605.5,234.1L606.0,233.5L606.5,232.8L607.0,232.1L607.5,231.4M607.3,236.4L606.9,236.5L606.7,236.5L606.6,236.3L606.7,236.0L607.3,235.5L607.8,234.9L608.4,234.3L608.9,233.8L609.5,233.2L610.0,232.7L610.6,232.1M612.9,235.6L612.0,235.9L611.3,236.0L610.8,236.1L610.8,235.9L611.4,235.5L612.0,235.1L612.6,234.7L613.3,234.3L613.9,233.9L614.5,233.5L615.1,233.1M616.7,235.4L615.3,235.7L614.2,235.8L613.5,236.0L613.3,235.9L614.0,235.6L614.7,235.3L615.4,235.0L616.1,234.7L616.8,234.4L617.5,234.1L618.2,233.8M620.4,235.3L618.6,235.6L617.1,235.8L616.0,235.9L615.8,235.9L616.6,235.7L617.3,235.5L618.1,235.3L618.9,235.1L619.6,234.9L620.4,234.7L621.2,234.6M624.2,235.4L621.8,235.6L619.9,235.8L618.5,236.0L618.1,236.0L619.0,235.9L619.9,235.8L620.7,235.7L621.6,235.6L622.5,235.5L623.3,235.4L624.2,235.3" stroke="#333" stroke-width="0.5" stroke-opacity="0.85" fill="none"/>
<path d="M449.2,87.7L449.5,88.0L449.8,88.3L450.2,88.8L450.7,89.4L451.2,90.1L451.7,91.0L452.3,92.0L452.8,93.1L453.4,94.2L454.0,95.4L454.6,96.6L455.2,97.9L455.8,99.2L456.4,100.5L457.0,101.9L457.7,103.3L458.4,104.7L459.0,106.1L459.7,107.6L460.4,108.9L461.0,110.2L461.6,111.4L462.2,112.6L462.8,113.8L463.4,114.9L463.9,116.0L464.5,117.0L465.0,117.9L465.5,119.0L466.0,120.2L466.5,121.6L467.0,123.1L467.5,124.7L468.1,126.3L468.7,127.9L469.4,129.5L470.2,131.0L471.0,132.6L471.9,134.1L472.7,135.7L473.5,137.2L474.3,138.8L475.1,140.3L475.9,141.9L476.7,143.4L477.5,145.0L478.2,146.5L479.0,148.1L479.7,149.7L480.4,151.2L481.1,152.7L481.8,154.1L482.4,155.6L483.1,157.0L483.7,158.4L484.3,159.8L484.9,161.1L485.5,162.5L486.1,163.9L486.7,165.4L487.4,167.2L488.2,169.2L489.0,171.2L489.6,173.0L490.1,174.2" stroke="#2a2a2a" stroke-width="3" stroke-opacity="0.55" fill="none" stroke-linecap="round"/>
<path d="M537.2,262.6L538.2,261.8L539.6,260.6L541.3,259.3L543.1,258.0L545.0,256.8L546.9,255.8L549.0,254.8L551.2,253.8L553.5,252.9L555.8,252.0L558.1,251.1L560.5,250.2L562.9,249.4L565.4,248.5L568.0,247.6L570.7,246.6L573.4,245.7L576.2,244.7L579.0,243.7L581.7,242.8L584.4,242.0L587.1,241.2L589.8,240.4L592.4,239.7L595.0,239.0L597.6,238.4L600.2,237.8L602.8,237.3L605.3,236.8L607.5,236.4L609.5,236.1L611.2,235.8L612.8,235.7L614.4,235.5L616.0,235.4L617.8,235.3L619.7,235.3L621.5,235.4L623.1,235.4L624.2,235.4L624.2,235.4L622.9,235.9L621.1,236.6L619.0,237.4L616.9,238.3L615.0,239.0L613.4,239.6L611.9,240.2L610.4,240.8L609.0,241.4L607.5,242.0L606.0,242.6L604.6,243.1L603.2,243.7L601.7,244.3L600.0,244.9L598.1,245.6L596.1,246.3L594.0,247.0L591.9,247.7L590.0,248.3L588.2,248.9L586.5,249.4L584.8,250.0L583.2,250.4L581.7,250.9L580.3,251.3L579.0,251.6L577.8,252.0L576.4,252.3L574.9,252.7L573.1,253.2L571.1,253.7L569.1,254.3L567.0,254.9L565.0,255.4L563.1,255.9L561.3,256.4L559.5,257.0L557.7,257.5L555.8,258.0L553.9,258.6L551.9,259.2L549.9,259.7L547.9,260.3L546.0,260.8L544.0,261.3L542.0,261.7L540.0,262.1L538.4,262.4L537.2,262.6Z" fill="#555"/>
<path d="M420.1,58.9L420.3,59.7L420.6,60.7L420.9,62.0L421.2,63.3L421.5,64.5L421.8,65.5L422.0,66.5L422.2,67.5L422.5,68.6L422.9,70.0L423.4,71.6L423.9,73.5L424.6,75.5L425.2,77.5L425.8,79.5L426.4,81.5L427.0,83.5L427.7,85.5L428.3,87.4L428.8,89.2L429.3,90.7L429.7,92.1L430.0,93.3L430.4,94.6L430.8,96.0L431.2,97.6L431.6,99.2L431.9,100.9L432.3,102.5L432.8,104.0L433.3,105.3L434.0,106.5L434.6,107.7L435.2,108.8L435.8,110.0L436.3,111.2L436.8,112.3L437.3,113.5L437.7,114.7L438.2,116.0L438.7,117.5L439.2,119.1L439.7,120.7L440.2,122.4L440.6,124.0L441.0,125.6L441.3,127.2L441.6,128.7L441.9,130.3L442.3,131.9L442.7,133.5L443.1,135.1L443.5,136.8L444.0,138.4L444.5,140.0L445.0,141.6L445.6,143.2L446.3,144.7L446.9,146.3L447.5,148.0L448.1,149.7L448.7,151.5L449.3,153.4L449.9,155.2L450.5,157.0L451.2,158.9L452.0,161.0L452.8,163.0L453.5,164.8L454.0,166.0" stroke="#000" stroke-width="1.9" fill="none" stroke-linecap="round"/>
<path d="M420.1,58.9L420.8,59.2L421.7,59.6L422.8,60.2L424.0,60.7L425.0,61.2L425.9,61.7L426.8,62.1L427.7,62.6L428.6,63.1L429.5,63.6L430.4,64.1L431.3,64.7L432.2,65.3L433.1,65.9L434.0,66.5L434.8,67.2L435.6,67.9L436.3,68.7L437.1,69.4L438.0,70.3L439.0,71.3L440.0,72.3L441.1,73.4L442.1,74.4L443.1,75.3L444.0,76.1L444.9,76.9L445.8,77.6L446.5,78.2L447.0,78.6" stroke="#000" stroke-width="1.8" fill="none" stroke-linecap="round"/>
<path d="M447.0,78.6L447.1,79.5L447.3,80.8L447.6,82.2L447.7,83.6L447.8,84.8L447.7,85.7L447.5,86.4L447.2,87.1L447.0,87.7L447.0,88.3L447.2,88.8L447.6,89.2L448.0,89.6L448.5,90.1L449.0,90.7L449.5,91.6L450.1,92.6L450.6,93.7L451.2,94.8L451.8,96.0L452.4,97.2L453.0,98.5L453.6,99.8L454.2,101.1L454.8,102.5L455.5,103.9L456.2,105.3L456.8,106.7L457.5,108.2L458.2,109.5L458.8,110.8L459.4,112.0L460.0,113.2L460.6,114.4L461.2,115.5L461.7,116.6L462.3,117.6L462.8,118.5L463.3,119.6L463.8,120.8L464.3,122.2L464.8,123.7L465.3,125.3L465.9,126.9L466.5,128.5L467.2,130.1L468.0,131.6L468.8,133.2L469.7,134.7L470.5,136.3L471.3,137.8L472.1,139.4L472.9,140.9L473.7,142.5L474.5,144.0L475.3,145.6L476.0,147.1L476.8,148.7L477.5,150.3L478.2,151.8L478.9,153.3L479.6,154.7L480.2,156.2L480.9,157.6L481.5,159.0L482.1,160.4L482.7,161.7L483.3,163.1L483.9,164.5L484.5,166.0L485.2,167.7L485.9,169.5L486.6,171.4L487.3,173.2L487.9,174.8L488.5,176.2L489.1,177.6L489.6,178.8L490.1,180.0L490.7,181.3L491.3,182.6L491.8,183.9L492.4,185.2L492.9,186.5L493.5,187.7L494.1,188.9L494.6,190.0L495.2,191.0L495.7,192.1L496.3,193.2L496.9,194.3L497.4,195.4L498.0,196.5L498.5,197.6L499.0,198.7L499.5,199.8L499.9,200.9L500.4,202.0L500.8,203.2L501.3,204.3L501.8,205.5L502.2,206.6L502.7,207.8L503.1,208.9L503.6,210.0L504.1,211.0L504.5,211.9L505.0,212.8L505.5,213.6L506.0,214.5L506.5,215.4L507.1,216.2L507.6,217.0L508.2,217.9L508.8,218.8L509.4,219.8L510.0,220.8L510.7,221.9L511.3,223.0L512.0,224.0L512.6,225.0L513.3,226.0L513.9,227.0L514.6,228.0L515.3,229.0L516.0,230.1L516.8,231.2L517.5,232.4L518.3,233.6L519.0,234.7L519.7,235.8L520.5,236.9L521.2,237.9L522.0,239.0L522.7,240.1L523.5,241.2L524.2,242.3L525.0,243.5L525.8,244.6L526.5,245.7L527.2,246.8L528.0,247.9L528.7,248.9L529.4,250.0L530.1,251.1L530.8,252.2L531.5,253.2L532.1,254.3L532.8,255.4L533.5,256.5L534.3,257.8L535.1,259.2L536.0,260.6L536.7,261.8L537.2,262.6" stroke="#000" stroke-width="1.8" fill="none" stroke-linecap="round"/>
<path d="M537.2,262.6L538.2,261.8L539.6,260.6L541.3,259.3L543.1,258.0L545.0,256.8L546.9,255.8L549.0,254.8L551.2,253.8L553.5,252.9L555.8,252.0L558.1,251.1L560.5,250.2L562.9,249.4L565.4,248.5L568.0,247.6L570.7,246.6L573.4,245.7L576.2,244.7L579.0,243.7L581.7,242.8L584.4,242.0L587.1,241.2L589.8,240.4L592.4,239.7L595.0,239.0L597.6,238.4L600.2,237.8L602.8,237.3L605.3,236.8L607.5,236.4L609.5,236.1L611.2,235.8L612.8,235.7L614.4,235.5L616.0,235.4L617.8,235.3L619.7,235.3L621.5,235.4L623.1,235.4L624.2,235.4" stroke="#000" stroke-width="1.9" fill="none" stroke-linecap="round"/>
<path d="M404.8,76.3L405.0,77.6L405.4,79.5L405.7,81.7L406.1,83.9L406.5,86.0L406.9,87.8L407.2,89.7L407.6,91.4L407.9,93.2L408.3,95.0L408.7,96.8L409.0,98.6L409.3,100.4L409.7,102.2L410.0,104.0L410.3,105.9L410.6,107.8L410.8,109.7L411.1,111.6L411.4,113.5L411.7,115.4L412.0,117.3L412.4,119.2L412.7,121.1L413.0,123.0L413.3,124.8L413.6,126.6L413.9,128.4L414.2,130.1L414.5,131.9L414.9,133.6L415.3,135.3L415.7,137.0L416.2,138.7L416.6,140.5L417.0,142.4L417.4,144.4L417.7,146.4L418.1,148.5L418.5,150.5L418.9,152.5L419.3,154.6L419.7,156.7L420.1,158.7L420.5,160.7L420.9,162.6L421.4,164.5L421.8,166.4L422.3,168.2L422.8,170.0L423.3,171.8L423.9,173.6L424.5,175.4L425.1,177.1L425.7,178.7L426.4,180.2L427.0,181.7L427.7,183.1L428.4,184.5L429.2,185.8L430.0,187.1L430.8,188.3L431.6,189.4L432.5,190.5L433.4,191.7L434.4,192.9L435.4,194.1L436.4,195.3L437.5,196.4L438.5,197.5L439.5,198.5L440.6,199.4L441.6,200.2L442.7,201.1L443.8,202.0L444.9,203.0L446.0,204.1L447.1,205.3L448.3,206.3L449.5,207.2L450.8,207.9L452.3,208.4L453.8,208.9L455.2,209.3L456.5,209.9L457.6,210.5L458.7,211.2L459.6,211.9L460.6,212.6L461.5,213.4L462.4,214.3L463.3,215.3L464.1,216.3L465.0,217.3L465.8,218.3L466.6,219.3L467.3,220.2L468.0,221.2L468.9,222.2L469.8,223.2L470.9,224.3L472.2,225.3L473.5,226.4L474.9,227.5L476.2,228.6L477.5,229.6L478.9,230.7L480.2,231.7L481.6,232.7L482.9,233.6L484.1,234.5L485.3,235.3L486.5,236.0L487.7,236.8L489.0,237.6L490.3,238.4L491.7,239.3L493.0,240.1L494.4,240.9L495.8,241.8L497.2,242.7L498.7,243.6L500.2,244.5L501.6,245.4L503.0,246.2L504.3,246.9L505.6,247.6L506.9,248.3L508.2,248.9L509.5,249.6L510.9,250.3L512.2,251.0L513.6,251.7L515.0,252.3L516.3,253.0L517.6,253.6L518.8,254.3L520.0,254.9L521.2,255.6L522.5,256.2L523.8,256.9L525.2,257.6L526.6,258.3L528.0,258.9L529.5,259.6L531.1,260.3L532.9,261.0L534.6,261.6L536.1,262.2L537.2,262.6L538.4,262.4L540.0,262.1L542.0,261.7L544.0,261.3L546.0,260.8L547.9,260.3L549.9,259.7L551.9,259.2L553.9,258.6L555.8,258.0L557.7,257.5L559.5,257.0L561.3,256.4L563.1,255.9L565.0,255.4L567.0,254.9L569.1,254.3L571.1,253.7L573.1,253.2L574.9,252.7L576.4,252.3L577.8,252.0L579.0,251.6L580.3,251.3L581.7,250.9L583.2,250.4L584.8,250.0L586.5,249.4L588.2,248.9L590.0,248.3L591.9,247.7L594.0,247.0L596.1,246.3L598.1,245.6L600.0,244.9L601.7,244.3L603.2,243.7L604.6,243.1L606.0,242.6L607.5,242.0L609.0,241.4L610.4,240.8L611.9,240.2L613.4,239.6L615.0,239.0L616.9,238.3L619.0,237.4L621.1,236.6L622.9,235.9L624.2,235.4" stroke="#000" stroke-width="2.5" fill="none" stroke-dasharray="5 2.6"/>
<path d="M413.3,75.6L413.6,76.5L413.9,77.7L414.3,79.1L414.8,80.6L415.2,82.0L415.6,83.3L416.0,84.7L416.5,86.1L416.9,87.5L417.4,89.0L417.9,90.5L418.4,92.1L418.9,93.8L419.4,95.4L419.9,97.0L420.4,98.6L420.8,100.2L421.3,101.8L421.7,103.4L422.2,105.0L422.7,106.7L423.1,108.3L423.5,110.0L424.0,111.8L424.5,113.5L425.0,115.3L425.6,117.0L426.2,118.8L426.7,120.7L427.3,122.5L427.8,124.4L428.4,126.2L428.9,128.1L429.5,130.0L430.1,131.9L430.8,133.7L431.6,135.5L432.4,137.3L433.1,139.2L433.8,141.0L434.4,142.9L434.9,144.7L435.4,146.6L435.8,148.5L436.3,150.5L436.8,152.5L437.3,154.6L437.8,156.7L438.3,158.7L438.8,160.7L439.4,162.6L439.9,164.5L440.5,166.4L441.2,168.2L441.8,170.0L442.5,171.8L443.1,173.6L443.8,175.4L444.5,177.1L445.2,178.7L445.8,180.2L446.5,181.6L447.1,182.9L447.7,184.2L448.3,185.5L448.9,186.8L449.4,188.0L450.0,189.2L450.6,190.5L451.3,191.7L452.1,192.9L453.0,194.2L453.9,195.4L454.8,196.7L455.6,197.9L456.4,199.1L457.1,200.4L457.8,201.6L458.5,202.8L459.2,204.0L460.0,205.2L460.8,206.3L461.6,207.4L462.4,208.6L463.2,209.8L464.1,211.2L465.1,212.7L466.1,214.3L466.9,215.6L467.5,216.5" stroke="#000" stroke-width="2.2" fill="none" stroke-dasharray="4.5 3"/>
<path d="M416.2,77.2L418.2,77.8L419.2,86.5L417.6,87.6Z M415.6,91.2L419.2,92.6L418.6,96.8L416.6,96.2Z M419.6,99.0L421.4,99.6L422.0,102.6L420.2,102.4Z" fill="#000"/>
<text x="369.3" y="219.08" text-anchor="middle" style="font-family:'Liberation Sans',sans-serif;font-size:8.6px" textLength="11.9" lengthAdjust="spacingAndGlyphs" fill="#1a1a1a">500</text>
<text x="369.3" y="186.67" text-anchor="middle" style="font-family:'Liberation Sans',sans-serif;font-size:8.6px" textLength="15.8" lengthAdjust="spacingAndGlyphs" fill="#1a1a1a">1000</text>
<text x="369.3" y="154.25" text-anchor="middle" style="font-family:'Liberation Sans',sans-serif;font-size:8.6px" textLength="15.8" lengthAdjust="spacingAndGlyphs" fill="#1a1a1a">1500</text>
<text x="369.3" y="121.83" text-anchor="middle" style="font-family:'Liberation Sans',sans-serif;font-size:8.6px" textLength="15.8" lengthAdjust="spacingAndGlyphs" fill="#1a1a1a">2000</text>
<text x="369.3" y="89.42" text-anchor="middle" style="font-family:'Liberation Sans',sans-serif;font-size:8.6px" textLength="15.8" lengthAdjust="spacingAndGlyphs" fill="#1a1a1a">2500</text>
<text x="369.3" y="57.00" text-anchor="middle" style="font-family:'Liberation Sans',sans-serif;font-size:8.6px" textLength="15.8" lengthAdjust="spacingAndGlyphs" fill="#1a1a1a">3000</text>
<text transform="translate(356.4,186.4) rotate(-90)" style="font-family:'Liberation Sans',sans-serif;font-size:8.2px" textLength="67.6" lengthAdjust="spacingAndGlyphs" fill="#222">Group Velocity [m/s]</text>
<text x="346.4" y="24.1" style="font-family:'Liberation Serif',serif;font-size:14px" fill="#111">(b)</text>
<text x="574.2" y="50.9" style="font-family:'Liberation Serif',serif;font-size:10.2px;font-weight:bold" fill="#000">(b)</text>
<text x="391.6" y="248.2" style="font-family:'Liberation Serif',serif;font-size:11.5px" fill="#111">Γ</text>
<text x="461.0" y="228.3" style="font-family:'Liberation Sans',sans-serif;font-size:11.5px" fill="#111">Y</text>
<text x="550.0" y="266.8" style="font-family:'Liberation Sans',sans-serif;font-size:11px" fill="#111">X</text>
<text x="628.4" y="241.1" style="font-family:'Liberation Sans',sans-serif;font-size:11px;font-weight:bold" fill="#111">M</text>
</svg>
</body></html>
